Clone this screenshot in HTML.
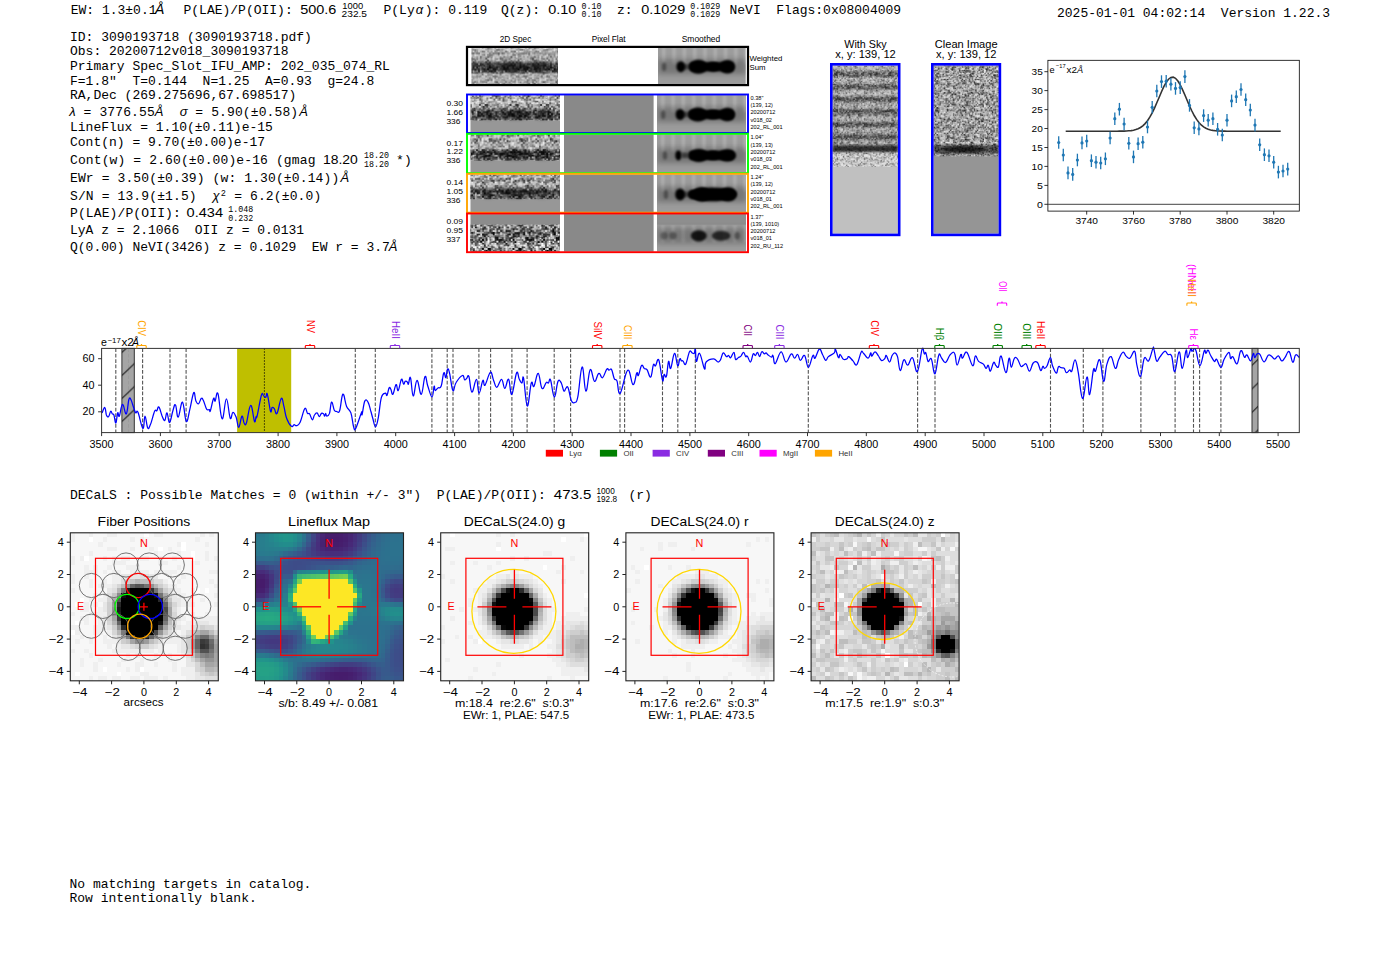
<!DOCTYPE html><html><head><meta charset="utf-8"><title>ELiXer report</title><style>html,body{margin:0;padding:0;background:#fff;overflow:hidden}svg{display:block}</style></head><body><svg style="white-space:pre" width="1400" height="953" viewBox="0 0 1400 953"><defs><pattern id="pn2" patternUnits="userSpaceOnUse" width="23.4" height="23.4"><path d="M0 0h1.8v1.8h-1.8zM1.8 0h1.8v1.8h-1.8zM5.4 0h1.8v1.8h-1.8zM14.4 0h1.8v1.8h-1.8zM12.6 1.8h1.8v1.8h-1.8zM19.8 3.6h1.8v1.8h-1.8zM7.2 7.2h1.8v1.8h-1.8zM0 9h1.8v1.8h-1.8zM1.8 9h1.8v1.8h-1.8zM21.6 9h1.8v1.8h-1.8zM1.8 10.8h1.8v1.8h-1.8zM9 10.8h1.8v1.8h-1.8zM10.8 10.8h1.8v1.8h-1.8zM14.4 10.8h1.8v1.8h-1.8zM7.2 12.6h1.8v1.8h-1.8zM3.6 14.4h1.8v1.8h-1.8zM9 14.4h1.8v1.8h-1.8zM14.4 14.4h1.8v1.8h-1.8zM16.2 16.2h1.8v1.8h-1.8zM1.8 19.8h1.8v1.8h-1.8zM14.4 19.8h1.8v1.8h-1.8zM0 21.6h1.8v1.8h-1.8zM1.8 21.6h1.8v1.8h-1.8z" fill="#000" fill-opacity="0.20"/><path d="M3.6 0h1.8v1.8h-1.8zM19.8 0h1.8v1.8h-1.8zM5.4 7.2h1.8v1.8h-1.8zM18 7.2h1.8v1.8h-1.8zM0 10.8h1.8v1.8h-1.8zM16.2 10.8h1.8v1.8h-1.8zM18 10.8h1.8v1.8h-1.8zM1.8 12.6h1.8v1.8h-1.8zM3.6 12.6h1.8v1.8h-1.8zM12.6 14.4h1.8v1.8h-1.8zM18 18h1.8v1.8h-1.8zM12.6 19.8h1.8v1.8h-1.8z" fill="#fff" fill-opacity="1.00"/><path d="M7.2 0h1.8v1.8h-1.8zM9 7.2h1.8v1.8h-1.8zM3.6 9h1.8v1.8h-1.8zM7.2 9h1.8v1.8h-1.8zM14.4 9h1.8v1.8h-1.8zM7.2 10.8h1.8v1.8h-1.8zM18 12.6h1.8v1.8h-1.8z" fill="#000" fill-opacity="0.80"/><path d="M9 0h1.8v1.8h-1.8zM21.6 0h1.8v1.8h-1.8zM0 1.8h1.8v1.8h-1.8zM14.4 1.8h1.8v1.8h-1.8zM18 1.8h1.8v1.8h-1.8zM0 5.4h1.8v1.8h-1.8zM7.2 5.4h1.8v1.8h-1.8zM10.8 5.4h1.8v1.8h-1.8zM10.8 7.2h1.8v1.8h-1.8zM21.6 7.2h1.8v1.8h-1.8zM9 9h1.8v1.8h-1.8zM10.8 9h1.8v1.8h-1.8zM12.6 9h1.8v1.8h-1.8zM19.8 9h1.8v1.8h-1.8zM5.4 10.8h1.8v1.8h-1.8zM12.6 10.8h1.8v1.8h-1.8zM21.6 12.6h1.8v1.8h-1.8zM0 14.4h1.8v1.8h-1.8zM0 16.2h1.8v1.8h-1.8zM1.8 16.2h1.8v1.8h-1.8zM3.6 16.2h1.8v1.8h-1.8zM12.6 18h1.8v1.8h-1.8zM16.2 18h1.8v1.8h-1.8zM18 19.8h1.8v1.8h-1.8zM21.6 19.8h1.8v1.8h-1.8zM9 21.6h1.8v1.8h-1.8zM18 21.6h1.8v1.8h-1.8z" fill="#fff" fill-opacity="0.20"/><path d="M12.6 0h1.8v1.8h-1.8zM18 0h1.8v1.8h-1.8zM3.6 1.8h1.8v1.8h-1.8zM7.2 1.8h1.8v1.8h-1.8zM3.6 3.6h1.8v1.8h-1.8zM9 3.6h1.8v1.8h-1.8zM12.6 3.6h1.8v1.8h-1.8zM12.6 5.4h1.8v1.8h-1.8zM14.4 7.2h1.8v1.8h-1.8zM5.4 9h1.8v1.8h-1.8zM16.2 9h1.8v1.8h-1.8zM0 12.6h1.8v1.8h-1.8zM5.4 12.6h1.8v1.8h-1.8zM10.8 12.6h1.8v1.8h-1.8zM18 14.4h1.8v1.8h-1.8zM21.6 14.4h1.8v1.8h-1.8zM5.4 16.2h1.8v1.8h-1.8zM7.2 16.2h1.8v1.8h-1.8zM10.8 16.2h1.8v1.8h-1.8zM0 18h1.8v1.8h-1.8zM1.8 18h1.8v1.8h-1.8zM19.8 18h1.8v1.8h-1.8zM16.2 19.8h1.8v1.8h-1.8z" fill="#fff" fill-opacity="0.40"/><path d="M16.2 0h1.8v1.8h-1.8zM1.8 1.8h1.8v1.8h-1.8zM19.8 1.8h1.8v1.8h-1.8zM21.6 3.6h1.8v1.8h-1.8zM5.4 14.4h1.8v1.8h-1.8zM16.2 14.4h1.8v1.8h-1.8zM7.2 21.6h1.8v1.8h-1.8zM12.6 21.6h1.8v1.8h-1.8z" fill="#fff" fill-opacity="0.80"/><path d="M5.4 1.8h1.8v1.8h-1.8zM9 1.8h1.8v1.8h-1.8zM16.2 1.8h1.8v1.8h-1.8zM0 3.6h1.8v1.8h-1.8zM5.4 3.6h1.8v1.8h-1.8zM7.2 3.6h1.8v1.8h-1.8zM18 3.6h1.8v1.8h-1.8zM18 5.4h1.8v1.8h-1.8zM19.8 5.4h1.8v1.8h-1.8zM21.6 5.4h1.8v1.8h-1.8zM3.6 7.2h1.8v1.8h-1.8zM19.8 7.2h1.8v1.8h-1.8zM18 9h1.8v1.8h-1.8zM1.8 14.4h1.8v1.8h-1.8zM19.8 14.4h1.8v1.8h-1.8zM9 16.2h1.8v1.8h-1.8zM12.6 16.2h1.8v1.8h-1.8zM18 16.2h1.8v1.8h-1.8zM19.8 16.2h1.8v1.8h-1.8zM3.6 18h1.8v1.8h-1.8zM9 18h1.8v1.8h-1.8zM3.6 19.8h1.8v1.8h-1.8zM5.4 19.8h1.8v1.8h-1.8zM19.8 19.8h1.8v1.8h-1.8zM14.4 21.6h1.8v1.8h-1.8zM19.8 21.6h1.8v1.8h-1.8z" fill="#000" fill-opacity="0.40"/><path d="M10.8 1.8h1.8v1.8h-1.8zM21.6 1.8h1.8v1.8h-1.8zM14.4 3.6h1.8v1.8h-1.8zM1.8 5.4h1.8v1.8h-1.8zM14.4 5.4h1.8v1.8h-1.8zM19.8 10.8h1.8v1.8h-1.8zM9 12.6h1.8v1.8h-1.8zM5.4 18h1.8v1.8h-1.8z" fill="#fff" fill-opacity="0.60"/><path d="M1.8 3.6h1.8v1.8h-1.8zM10.8 3.6h1.8v1.8h-1.8zM16.2 12.6h1.8v1.8h-1.8zM19.8 12.6h1.8v1.8h-1.8zM7.2 14.4h1.8v1.8h-1.8zM10.8 14.4h1.8v1.8h-1.8zM14.4 16.2h1.8v1.8h-1.8zM21.6 16.2h1.8v1.8h-1.8zM10.8 18h1.8v1.8h-1.8zM0 19.8h1.8v1.8h-1.8zM10.8 19.8h1.8v1.8h-1.8z" fill="#000" fill-opacity="0.60"/><path d="M0 7.2h1.8v1.8h-1.8zM7.2 19.8h1.8v1.8h-1.8zM5.4 21.6h1.8v1.8h-1.8zM16.2 21.6h1.8v1.8h-1.8z" fill="#000" fill-opacity="1.00"/></pattern><pattern id="pn2b" patternUnits="userSpaceOnUse" width="30.6" height="30.6"><path d="M0 0h1.8v1.8h-1.8zM3.6 0h1.8v1.8h-1.8zM12.6 1.8h1.8v1.8h-1.8zM21.6 3.6h1.8v1.8h-1.8zM28.8 5.4h1.8v1.8h-1.8zM0 7.2h1.8v1.8h-1.8zM7.2 7.2h1.8v1.8h-1.8zM18 7.2h1.8v1.8h-1.8zM19.8 7.2h1.8v1.8h-1.8zM10.8 9h1.8v1.8h-1.8zM19.8 9h1.8v1.8h-1.8zM10.8 10.8h1.8v1.8h-1.8zM14.4 10.8h1.8v1.8h-1.8zM12.6 12.6h1.8v1.8h-1.8zM16.2 12.6h1.8v1.8h-1.8zM18 12.6h1.8v1.8h-1.8zM0 14.4h1.8v1.8h-1.8zM18 16.2h1.8v1.8h-1.8zM7.2 18h1.8v1.8h-1.8zM9 18h1.8v1.8h-1.8zM14.4 18h1.8v1.8h-1.8zM23.4 18h1.8v1.8h-1.8zM27 18h1.8v1.8h-1.8zM10.8 19.8h1.8v1.8h-1.8zM3.6 21.6h1.8v1.8h-1.8zM18 21.6h1.8v1.8h-1.8zM28.8 21.6h1.8v1.8h-1.8zM10.8 23.4h1.8v1.8h-1.8zM16.2 23.4h1.8v1.8h-1.8zM25.2 23.4h1.8v1.8h-1.8zM23.4 25.2h1.8v1.8h-1.8zM27 25.2h1.8v1.8h-1.8zM28.8 25.2h1.8v1.8h-1.8zM10.8 27h1.8v1.8h-1.8zM21.6 27h1.8v1.8h-1.8zM23.4 27h1.8v1.8h-1.8z" fill="#fff" fill-opacity="0.40"/><path d="M1.8 0h1.8v1.8h-1.8zM5.4 0h1.8v1.8h-1.8zM14.4 0h1.8v1.8h-1.8zM21.6 0h1.8v1.8h-1.8zM28.8 0h1.8v1.8h-1.8zM0 1.8h1.8v1.8h-1.8zM10.8 1.8h1.8v1.8h-1.8zM14.4 1.8h1.8v1.8h-1.8zM25.2 1.8h1.8v1.8h-1.8zM9 3.6h1.8v1.8h-1.8zM1.8 5.4h1.8v1.8h-1.8zM7.2 5.4h1.8v1.8h-1.8zM16.2 5.4h1.8v1.8h-1.8zM16.2 7.2h1.8v1.8h-1.8zM18 9h1.8v1.8h-1.8zM7.2 10.8h1.8v1.8h-1.8zM7.2 14.4h1.8v1.8h-1.8zM12.6 14.4h1.8v1.8h-1.8zM14.4 14.4h1.8v1.8h-1.8zM9 16.2h1.8v1.8h-1.8zM12.6 16.2h1.8v1.8h-1.8zM16.2 16.2h1.8v1.8h-1.8zM19.8 16.2h1.8v1.8h-1.8zM21.6 16.2h1.8v1.8h-1.8zM0 18h1.8v1.8h-1.8zM21.6 18h1.8v1.8h-1.8zM19.8 19.8h1.8v1.8h-1.8zM1.8 21.6h1.8v1.8h-1.8zM25.2 21.6h1.8v1.8h-1.8zM5.4 25.2h1.8v1.8h-1.8zM7.2 25.2h1.8v1.8h-1.8zM14.4 25.2h1.8v1.8h-1.8zM5.4 27h1.8v1.8h-1.8zM0 28.8h1.8v1.8h-1.8zM5.4 28.8h1.8v1.8h-1.8zM18 28.8h1.8v1.8h-1.8zM23.4 28.8h1.8v1.8h-1.8z" fill="#fff" fill-opacity="0.60"/><path d="M7.2 0h1.8v1.8h-1.8zM9 0h1.8v1.8h-1.8zM10.8 0h1.8v1.8h-1.8zM12.6 0h1.8v1.8h-1.8zM18 0h1.8v1.8h-1.8zM19.8 0h1.8v1.8h-1.8zM23.4 1.8h1.8v1.8h-1.8zM0 3.6h1.8v1.8h-1.8zM10.8 3.6h1.8v1.8h-1.8zM12.6 3.6h1.8v1.8h-1.8zM12.6 5.4h1.8v1.8h-1.8zM14.4 5.4h1.8v1.8h-1.8zM1.8 7.2h1.8v1.8h-1.8zM1.8 9h1.8v1.8h-1.8zM5.4 10.8h1.8v1.8h-1.8zM21.6 10.8h1.8v1.8h-1.8zM25.2 10.8h1.8v1.8h-1.8zM28.8 10.8h1.8v1.8h-1.8zM0 12.6h1.8v1.8h-1.8zM3.6 12.6h1.8v1.8h-1.8zM19.8 12.6h1.8v1.8h-1.8zM21.6 12.6h1.8v1.8h-1.8zM1.8 16.2h1.8v1.8h-1.8zM3.6 16.2h1.8v1.8h-1.8zM10.8 18h1.8v1.8h-1.8zM18 18h1.8v1.8h-1.8zM25.2 18h1.8v1.8h-1.8zM25.2 19.8h1.8v1.8h-1.8zM7.2 21.6h1.8v1.8h-1.8zM14.4 21.6h1.8v1.8h-1.8zM12.6 23.4h1.8v1.8h-1.8zM28.8 23.4h1.8v1.8h-1.8zM10.8 25.2h1.8v1.8h-1.8zM10.8 28.8h1.8v1.8h-1.8zM21.6 28.8h1.8v1.8h-1.8zM25.2 28.8h1.8v1.8h-1.8z" fill="#000" fill-opacity="0.40"/><path d="M16.2 0h1.8v1.8h-1.8zM27 0h1.8v1.8h-1.8zM7.2 1.8h1.8v1.8h-1.8zM9 1.8h1.8v1.8h-1.8zM21.6 1.8h1.8v1.8h-1.8zM1.8 3.6h1.8v1.8h-1.8zM3.6 3.6h1.8v1.8h-1.8zM7.2 3.6h1.8v1.8h-1.8zM27 3.6h1.8v1.8h-1.8zM0 5.4h1.8v1.8h-1.8zM23.4 5.4h1.8v1.8h-1.8zM12.6 7.2h1.8v1.8h-1.8zM23.4 7.2h1.8v1.8h-1.8zM27 7.2h1.8v1.8h-1.8zM28.8 7.2h1.8v1.8h-1.8zM0 9h1.8v1.8h-1.8zM3.6 9h1.8v1.8h-1.8zM16.2 9h1.8v1.8h-1.8zM25.2 9h1.8v1.8h-1.8zM0 10.8h1.8v1.8h-1.8zM1.8 10.8h1.8v1.8h-1.8zM3.6 10.8h1.8v1.8h-1.8zM18 10.8h1.8v1.8h-1.8zM1.8 12.6h1.8v1.8h-1.8zM5.4 12.6h1.8v1.8h-1.8zM9 12.6h1.8v1.8h-1.8zM28.8 12.6h1.8v1.8h-1.8zM5.4 14.4h1.8v1.8h-1.8zM18 14.4h1.8v1.8h-1.8zM25.2 14.4h1.8v1.8h-1.8zM27 16.2h1.8v1.8h-1.8zM28.8 16.2h1.8v1.8h-1.8zM3.6 18h1.8v1.8h-1.8zM3.6 19.8h1.8v1.8h-1.8zM21.6 19.8h1.8v1.8h-1.8zM23.4 19.8h1.8v1.8h-1.8zM28.8 19.8h1.8v1.8h-1.8zM23.4 21.6h1.8v1.8h-1.8zM7.2 23.4h1.8v1.8h-1.8zM9 23.4h1.8v1.8h-1.8zM12.6 25.2h1.8v1.8h-1.8zM16.2 25.2h1.8v1.8h-1.8zM19.8 25.2h1.8v1.8h-1.8zM0 27h1.8v1.8h-1.8zM12.6 27h1.8v1.8h-1.8zM19.8 27h1.8v1.8h-1.8zM27 27h1.8v1.8h-1.8z" fill="#fff" fill-opacity="0.20"/><path d="M23.4 0h1.8v1.8h-1.8zM3.6 1.8h1.8v1.8h-1.8zM5.4 1.8h1.8v1.8h-1.8zM16.2 1.8h1.8v1.8h-1.8zM18 1.8h1.8v1.8h-1.8zM14.4 3.6h1.8v1.8h-1.8zM18 3.6h1.8v1.8h-1.8zM23.4 3.6h1.8v1.8h-1.8zM28.8 3.6h1.8v1.8h-1.8zM3.6 5.4h1.8v1.8h-1.8zM5.4 5.4h1.8v1.8h-1.8zM10.8 5.4h1.8v1.8h-1.8zM10.8 7.2h1.8v1.8h-1.8zM7.2 9h1.8v1.8h-1.8zM28.8 14.4h1.8v1.8h-1.8zM10.8 16.2h1.8v1.8h-1.8zM27 19.8h1.8v1.8h-1.8zM0 21.6h1.8v1.8h-1.8zM19.8 21.6h1.8v1.8h-1.8zM18 23.4h1.8v1.8h-1.8zM21.6 25.2h1.8v1.8h-1.8zM1.8 27h1.8v1.8h-1.8zM7.2 27h1.8v1.8h-1.8zM14.4 27h1.8v1.8h-1.8zM16.2 27h1.8v1.8h-1.8zM18 27h1.8v1.8h-1.8zM16.2 28.8h1.8v1.8h-1.8zM19.8 28.8h1.8v1.8h-1.8z" fill="#000" fill-opacity="0.60"/><path d="M25.2 0h1.8v1.8h-1.8zM1.8 1.8h1.8v1.8h-1.8zM5.4 3.6h1.8v1.8h-1.8zM16.2 3.6h1.8v1.8h-1.8zM25.2 5.4h1.8v1.8h-1.8zM9 7.2h1.8v1.8h-1.8zM25.2 7.2h1.8v1.8h-1.8zM12.6 9h1.8v1.8h-1.8zM27 9h1.8v1.8h-1.8zM28.8 9h1.8v1.8h-1.8zM12.6 10.8h1.8v1.8h-1.8zM10.8 12.6h1.8v1.8h-1.8zM27 12.6h1.8v1.8h-1.8zM1.8 14.4h1.8v1.8h-1.8zM10.8 14.4h1.8v1.8h-1.8zM16.2 14.4h1.8v1.8h-1.8zM5.4 16.2h1.8v1.8h-1.8zM14.4 16.2h1.8v1.8h-1.8zM23.4 16.2h1.8v1.8h-1.8zM25.2 16.2h1.8v1.8h-1.8zM0 19.8h1.8v1.8h-1.8zM18 19.8h1.8v1.8h-1.8zM0 23.4h1.8v1.8h-1.8zM21.6 23.4h1.8v1.8h-1.8zM0 25.2h1.8v1.8h-1.8zM1.8 25.2h1.8v1.8h-1.8zM18 25.2h1.8v1.8h-1.8zM9 27h1.8v1.8h-1.8zM25.2 27h1.8v1.8h-1.8zM28.8 27h1.8v1.8h-1.8zM3.6 28.8h1.8v1.8h-1.8zM9 28.8h1.8v1.8h-1.8zM27 28.8h1.8v1.8h-1.8zM28.8 28.8h1.8v1.8h-1.8z" fill="#000" fill-opacity="0.20"/><path d="M27 1.8h1.8v1.8h-1.8zM9 5.4h1.8v1.8h-1.8zM21.6 9h1.8v1.8h-1.8zM7.2 12.6h1.8v1.8h-1.8zM25.2 12.6h1.8v1.8h-1.8zM23.4 14.4h1.8v1.8h-1.8zM27 21.6h1.8v1.8h-1.8zM14.4 23.4h1.8v1.8h-1.8zM3.6 25.2h1.8v1.8h-1.8z" fill="#000" fill-opacity="0.80"/><path d="M19.8 3.6h1.8v1.8h-1.8zM25.2 3.6h1.8v1.8h-1.8zM19.8 5.4h1.8v1.8h-1.8zM23.4 9h1.8v1.8h-1.8zM9 10.8h1.8v1.8h-1.8zM23.4 10.8h1.8v1.8h-1.8zM27 10.8h1.8v1.8h-1.8zM9 19.8h1.8v1.8h-1.8zM14.4 19.8h1.8v1.8h-1.8zM16.2 19.8h1.8v1.8h-1.8zM12.6 21.6h1.8v1.8h-1.8zM16.2 21.6h1.8v1.8h-1.8zM3.6 23.4h1.8v1.8h-1.8zM23.4 23.4h1.8v1.8h-1.8z" fill="#000" fill-opacity="1.00"/><path d="M21.6 5.4h1.8v1.8h-1.8zM27 5.4h1.8v1.8h-1.8zM5.4 7.2h1.8v1.8h-1.8zM14.4 9h1.8v1.8h-1.8zM19.8 10.8h1.8v1.8h-1.8zM1.8 19.8h1.8v1.8h-1.8zM12.6 19.8h1.8v1.8h-1.8zM9 21.6h1.8v1.8h-1.8zM25.2 25.2h1.8v1.8h-1.8zM3.6 27h1.8v1.8h-1.8zM14.4 28.8h1.8v1.8h-1.8z" fill="#fff" fill-opacity="0.80"/><path d="M14.4 12.6h1.8v1.8h-1.8zM23.4 12.6h1.8v1.8h-1.8zM7.2 16.2h1.8v1.8h-1.8zM1.8 18h1.8v1.8h-1.8zM5.4 18h1.8v1.8h-1.8zM19.8 23.4h1.8v1.8h-1.8z" fill="#fff" fill-opacity="1.00"/></pattern><pattern id="pn15" patternUnits="userSpaceOnUse" width="27" height="27"><path d="M1.5 0h1.5v1.5h-1.5zM9 0h1.5v1.5h-1.5zM18 0h1.5v1.5h-1.5zM0 1.5h1.5v1.5h-1.5zM6 4.5h1.5v1.5h-1.5zM10.5 7.5h1.5v1.5h-1.5zM21 9h1.5v1.5h-1.5zM6 10.5h1.5v1.5h-1.5zM9 12h1.5v1.5h-1.5zM12 12h1.5v1.5h-1.5zM3 13.5h1.5v1.5h-1.5zM7.5 13.5h1.5v1.5h-1.5zM16.5 15h1.5v1.5h-1.5zM24 16.5h1.5v1.5h-1.5zM10.5 19.5h1.5v1.5h-1.5zM21 19.5h1.5v1.5h-1.5zM19.5 21h1.5v1.5h-1.5zM6 22.5h1.5v1.5h-1.5z" fill="#000" fill-opacity="0.80"/><path d="M3 0h1.5v1.5h-1.5zM22.5 0h1.5v1.5h-1.5zM24 0h1.5v1.5h-1.5zM4.5 1.5h1.5v1.5h-1.5zM19.5 1.5h1.5v1.5h-1.5zM25.5 1.5h1.5v1.5h-1.5zM9 3h1.5v1.5h-1.5zM10.5 3h1.5v1.5h-1.5zM12 3h1.5v1.5h-1.5zM18 3h1.5v1.5h-1.5zM0 4.5h1.5v1.5h-1.5zM4.5 4.5h1.5v1.5h-1.5zM0 6h1.5v1.5h-1.5zM4.5 7.5h1.5v1.5h-1.5zM24 7.5h1.5v1.5h-1.5zM0 9h1.5v1.5h-1.5zM1.5 9h1.5v1.5h-1.5zM13.5 9h1.5v1.5h-1.5zM18 9h1.5v1.5h-1.5zM25.5 9h1.5v1.5h-1.5zM0 10.5h1.5v1.5h-1.5zM7.5 10.5h1.5v1.5h-1.5zM13.5 10.5h1.5v1.5h-1.5zM16.5 10.5h1.5v1.5h-1.5zM18 10.5h1.5v1.5h-1.5zM10.5 12h1.5v1.5h-1.5zM21 12h1.5v1.5h-1.5zM10.5 15h1.5v1.5h-1.5zM12 15h1.5v1.5h-1.5zM13.5 16.5h1.5v1.5h-1.5zM15 16.5h1.5v1.5h-1.5zM18 16.5h1.5v1.5h-1.5zM21 16.5h1.5v1.5h-1.5zM22.5 16.5h1.5v1.5h-1.5zM4.5 18h1.5v1.5h-1.5zM12 18h1.5v1.5h-1.5zM12 19.5h1.5v1.5h-1.5zM25.5 19.5h1.5v1.5h-1.5zM0 21h1.5v1.5h-1.5zM7.5 21h1.5v1.5h-1.5zM0 22.5h1.5v1.5h-1.5zM19.5 22.5h1.5v1.5h-1.5zM25.5 22.5h1.5v1.5h-1.5zM1.5 24h1.5v1.5h-1.5zM12 24h1.5v1.5h-1.5zM16.5 24h1.5v1.5h-1.5zM1.5 25.5h1.5v1.5h-1.5zM6 25.5h1.5v1.5h-1.5zM13.5 25.5h1.5v1.5h-1.5zM25.5 25.5h1.5v1.5h-1.5z" fill="#000" fill-opacity="0.20"/><path d="M4.5 0h1.5v1.5h-1.5zM13.5 0h1.5v1.5h-1.5zM15 0h1.5v1.5h-1.5zM25.5 0h1.5v1.5h-1.5zM1.5 1.5h1.5v1.5h-1.5zM10.5 1.5h1.5v1.5h-1.5zM13.5 1.5h1.5v1.5h-1.5zM24 1.5h1.5v1.5h-1.5zM0 3h1.5v1.5h-1.5zM1.5 3h1.5v1.5h-1.5zM19.5 3h1.5v1.5h-1.5zM21 3h1.5v1.5h-1.5zM1.5 4.5h1.5v1.5h-1.5zM3 6h1.5v1.5h-1.5zM6 6h1.5v1.5h-1.5zM9 6h1.5v1.5h-1.5zM10.5 6h1.5v1.5h-1.5zM1.5 7.5h1.5v1.5h-1.5zM12 7.5h1.5v1.5h-1.5zM16.5 7.5h1.5v1.5h-1.5zM4.5 9h1.5v1.5h-1.5zM1.5 10.5h1.5v1.5h-1.5zM3 10.5h1.5v1.5h-1.5zM10.5 10.5h1.5v1.5h-1.5zM0 12h1.5v1.5h-1.5zM4.5 12h1.5v1.5h-1.5zM7.5 12h1.5v1.5h-1.5zM18 12h1.5v1.5h-1.5zM24 12h1.5v1.5h-1.5zM4.5 13.5h1.5v1.5h-1.5zM12 13.5h1.5v1.5h-1.5zM24 13.5h1.5v1.5h-1.5zM25.5 13.5h1.5v1.5h-1.5zM1.5 15h1.5v1.5h-1.5zM6 15h1.5v1.5h-1.5zM7.5 15h1.5v1.5h-1.5zM19.5 16.5h1.5v1.5h-1.5zM25.5 16.5h1.5v1.5h-1.5zM15 18h1.5v1.5h-1.5zM22.5 18h1.5v1.5h-1.5zM3 19.5h1.5v1.5h-1.5zM9 19.5h1.5v1.5h-1.5zM19.5 19.5h1.5v1.5h-1.5zM6 21h1.5v1.5h-1.5zM12 21h1.5v1.5h-1.5zM3 22.5h1.5v1.5h-1.5zM9 22.5h1.5v1.5h-1.5zM12 22.5h1.5v1.5h-1.5zM22.5 22.5h1.5v1.5h-1.5zM24 22.5h1.5v1.5h-1.5zM6 24h1.5v1.5h-1.5zM9 24h1.5v1.5h-1.5zM15 24h1.5v1.5h-1.5zM0 25.5h1.5v1.5h-1.5zM10.5 25.5h1.5v1.5h-1.5z" fill="#fff" fill-opacity="0.20"/><path d="M6 0h1.5v1.5h-1.5zM19.5 0h1.5v1.5h-1.5zM16.5 1.5h1.5v1.5h-1.5zM24 3h1.5v1.5h-1.5zM24 4.5h1.5v1.5h-1.5zM19.5 7.5h1.5v1.5h-1.5zM3 9h1.5v1.5h-1.5zM19.5 9h1.5v1.5h-1.5zM24 9h1.5v1.5h-1.5zM16.5 12h1.5v1.5h-1.5zM22.5 12h1.5v1.5h-1.5zM22.5 13.5h1.5v1.5h-1.5zM3 15h1.5v1.5h-1.5zM18 15h1.5v1.5h-1.5zM21 15h1.5v1.5h-1.5zM1.5 16.5h1.5v1.5h-1.5zM4.5 16.5h1.5v1.5h-1.5zM16.5 16.5h1.5v1.5h-1.5zM3 21h1.5v1.5h-1.5zM10.5 21h1.5v1.5h-1.5zM22.5 21h1.5v1.5h-1.5zM24 21h1.5v1.5h-1.5zM25.5 21h1.5v1.5h-1.5zM15 22.5h1.5v1.5h-1.5zM21 22.5h1.5v1.5h-1.5zM4.5 24h1.5v1.5h-1.5z" fill="#000" fill-opacity="0.60"/><path d="M7.5 0h1.5v1.5h-1.5zM21 0h1.5v1.5h-1.5zM9 1.5h1.5v1.5h-1.5zM15 4.5h1.5v1.5h-1.5zM25.5 4.5h1.5v1.5h-1.5zM15 9h1.5v1.5h-1.5zM22.5 10.5h1.5v1.5h-1.5zM25.5 10.5h1.5v1.5h-1.5zM13.5 18h1.5v1.5h-1.5zM18 22.5h1.5v1.5h-1.5zM7.5 24h1.5v1.5h-1.5zM18 25.5h1.5v1.5h-1.5z" fill="#000" fill-opacity="1.00"/><path d="M10.5 0h1.5v1.5h-1.5zM7.5 1.5h1.5v1.5h-1.5zM22.5 1.5h1.5v1.5h-1.5zM6 3h1.5v1.5h-1.5zM15 3h1.5v1.5h-1.5zM22.5 3h1.5v1.5h-1.5zM21 4.5h1.5v1.5h-1.5zM12 6h1.5v1.5h-1.5zM22.5 6h1.5v1.5h-1.5zM6 7.5h1.5v1.5h-1.5zM25.5 12h1.5v1.5h-1.5zM0 13.5h1.5v1.5h-1.5zM10.5 13.5h1.5v1.5h-1.5zM18 13.5h1.5v1.5h-1.5zM19.5 15h1.5v1.5h-1.5zM0 16.5h1.5v1.5h-1.5zM1.5 18h1.5v1.5h-1.5zM6 19.5h1.5v1.5h-1.5zM1.5 21h1.5v1.5h-1.5zM16.5 21h1.5v1.5h-1.5zM21 21h1.5v1.5h-1.5zM4.5 22.5h1.5v1.5h-1.5zM25.5 24h1.5v1.5h-1.5zM4.5 25.5h1.5v1.5h-1.5zM22.5 25.5h1.5v1.5h-1.5z" fill="#fff" fill-opacity="0.40"/><path d="M12 0h1.5v1.5h-1.5zM16.5 0h1.5v1.5h-1.5zM19.5 4.5h1.5v1.5h-1.5zM1.5 6h1.5v1.5h-1.5zM7.5 6h1.5v1.5h-1.5zM21 6h1.5v1.5h-1.5zM0 7.5h1.5v1.5h-1.5zM3 7.5h1.5v1.5h-1.5zM13.5 7.5h1.5v1.5h-1.5zM15 7.5h1.5v1.5h-1.5zM7.5 9h1.5v1.5h-1.5zM9 9h1.5v1.5h-1.5zM12 9h1.5v1.5h-1.5zM4.5 10.5h1.5v1.5h-1.5zM15 10.5h1.5v1.5h-1.5zM19.5 10.5h1.5v1.5h-1.5zM21 10.5h1.5v1.5h-1.5zM6 12h1.5v1.5h-1.5zM15 13.5h1.5v1.5h-1.5zM0 15h1.5v1.5h-1.5zM4.5 15h1.5v1.5h-1.5zM3 16.5h1.5v1.5h-1.5zM6 16.5h1.5v1.5h-1.5zM10.5 16.5h1.5v1.5h-1.5zM12 16.5h1.5v1.5h-1.5zM3 18h1.5v1.5h-1.5zM18 18h1.5v1.5h-1.5zM25.5 18h1.5v1.5h-1.5zM15 21h1.5v1.5h-1.5zM18 21h1.5v1.5h-1.5zM1.5 22.5h1.5v1.5h-1.5zM10.5 22.5h1.5v1.5h-1.5zM3 24h1.5v1.5h-1.5zM22.5 24h1.5v1.5h-1.5z" fill="#fff" fill-opacity="0.60"/><path d="M15 1.5h1.5v1.5h-1.5zM16.5 4.5h1.5v1.5h-1.5zM18 4.5h1.5v1.5h-1.5zM22.5 4.5h1.5v1.5h-1.5zM22.5 9h1.5v1.5h-1.5zM22.5 19.5h1.5v1.5h-1.5zM19.5 24h1.5v1.5h-1.5zM21 24h1.5v1.5h-1.5z" fill="#fff" fill-opacity="0.80"/><path d="M4.5 3h1.5v1.5h-1.5zM3 4.5h1.5v1.5h-1.5zM13.5 4.5h1.5v1.5h-1.5zM15 6h1.5v1.5h-1.5zM16.5 6h1.5v1.5h-1.5zM9 7.5h1.5v1.5h-1.5zM22.5 7.5h1.5v1.5h-1.5zM25.5 7.5h1.5v1.5h-1.5zM9 10.5h1.5v1.5h-1.5zM12 10.5h1.5v1.5h-1.5zM24 10.5h1.5v1.5h-1.5zM1.5 12h1.5v1.5h-1.5zM3 12h1.5v1.5h-1.5zM6 13.5h1.5v1.5h-1.5zM9 15h1.5v1.5h-1.5zM13.5 15h1.5v1.5h-1.5zM25.5 15h1.5v1.5h-1.5zM7.5 16.5h1.5v1.5h-1.5zM9 16.5h1.5v1.5h-1.5zM0 18h1.5v1.5h-1.5zM6 18h1.5v1.5h-1.5zM10.5 18h1.5v1.5h-1.5zM16.5 18h1.5v1.5h-1.5zM19.5 18h1.5v1.5h-1.5zM7.5 19.5h1.5v1.5h-1.5zM13.5 19.5h1.5v1.5h-1.5zM15 19.5h1.5v1.5h-1.5zM9 21h1.5v1.5h-1.5zM24 24h1.5v1.5h-1.5zM7.5 25.5h1.5v1.5h-1.5zM9 25.5h1.5v1.5h-1.5zM12 25.5h1.5v1.5h-1.5zM19.5 25.5h1.5v1.5h-1.5z" fill="#000" fill-opacity="0.40"/><path d="M13.5 3h1.5v1.5h-1.5zM7.5 4.5h1.5v1.5h-1.5zM12 4.5h1.5v1.5h-1.5zM13.5 12h1.5v1.5h-1.5zM19.5 12h1.5v1.5h-1.5zM1.5 13.5h1.5v1.5h-1.5zM22.5 15h1.5v1.5h-1.5zM7.5 22.5h1.5v1.5h-1.5z" fill="#fff" fill-opacity="1.00"/></pattern><pattern id="pn15b" patternUnits="userSpaceOnUse" width="34.5" height="34.5"><path d="M0 0h1.5v1.5h-1.5zM27 1.5h1.5v1.5h-1.5zM28.5 1.5h1.5v1.5h-1.5zM31.5 1.5h1.5v1.5h-1.5zM25.5 4.5h1.5v1.5h-1.5zM6 6h1.5v1.5h-1.5zM27 6h1.5v1.5h-1.5zM31.5 6h1.5v1.5h-1.5zM15 9h1.5v1.5h-1.5zM6 10.5h1.5v1.5h-1.5zM15 12h1.5v1.5h-1.5zM7.5 18h1.5v1.5h-1.5zM13.5 18h1.5v1.5h-1.5zM4.5 19.5h1.5v1.5h-1.5zM24 19.5h1.5v1.5h-1.5zM0 27h1.5v1.5h-1.5zM19.5 31.5h1.5v1.5h-1.5zM31.5 31.5h1.5v1.5h-1.5zM22.5 33h1.5v1.5h-1.5zM25.5 33h1.5v1.5h-1.5z" fill="#fff" fill-opacity="0.80"/><path d="M1.5 0h1.5v1.5h-1.5zM33 0h1.5v1.5h-1.5zM13.5 1.5h1.5v1.5h-1.5zM1.5 6h1.5v1.5h-1.5zM3 6h1.5v1.5h-1.5zM7.5 6h1.5v1.5h-1.5zM19.5 6h1.5v1.5h-1.5zM28.5 6h1.5v1.5h-1.5zM1.5 7.5h1.5v1.5h-1.5zM4.5 7.5h1.5v1.5h-1.5zM15 7.5h1.5v1.5h-1.5zM22.5 7.5h1.5v1.5h-1.5zM10.5 9h1.5v1.5h-1.5zM30 9h1.5v1.5h-1.5zM22.5 10.5h1.5v1.5h-1.5zM21 12h1.5v1.5h-1.5zM31.5 12h1.5v1.5h-1.5zM3 15h1.5v1.5h-1.5zM27 15h1.5v1.5h-1.5zM10.5 16.5h1.5v1.5h-1.5zM13.5 16.5h1.5v1.5h-1.5zM16.5 16.5h1.5v1.5h-1.5zM10.5 18h1.5v1.5h-1.5zM13.5 19.5h1.5v1.5h-1.5zM28.5 19.5h1.5v1.5h-1.5zM31.5 19.5h1.5v1.5h-1.5zM33 19.5h1.5v1.5h-1.5zM28.5 21h1.5v1.5h-1.5zM0 22.5h1.5v1.5h-1.5zM1.5 22.5h1.5v1.5h-1.5zM10.5 22.5h1.5v1.5h-1.5zM16.5 22.5h1.5v1.5h-1.5zM33 22.5h1.5v1.5h-1.5zM6 24h1.5v1.5h-1.5zM9 24h1.5v1.5h-1.5zM27 24h1.5v1.5h-1.5zM28.5 24h1.5v1.5h-1.5zM13.5 25.5h1.5v1.5h-1.5zM21 25.5h1.5v1.5h-1.5zM10.5 27h1.5v1.5h-1.5zM21 27h1.5v1.5h-1.5zM22.5 28.5h1.5v1.5h-1.5zM6 30h1.5v1.5h-1.5zM28.5 30h1.5v1.5h-1.5zM1.5 31.5h1.5v1.5h-1.5zM10.5 31.5h1.5v1.5h-1.5zM13.5 31.5h1.5v1.5h-1.5zM25.5 31.5h1.5v1.5h-1.5zM30 31.5h1.5v1.5h-1.5zM28.5 33h1.5v1.5h-1.5z" fill="#fff" fill-opacity="0.60"/><path d="M3 0h1.5v1.5h-1.5zM4.5 0h1.5v1.5h-1.5zM12 0h1.5v1.5h-1.5zM15 0h1.5v1.5h-1.5zM19.5 0h1.5v1.5h-1.5zM24 0h1.5v1.5h-1.5zM27 0h1.5v1.5h-1.5zM27 3h1.5v1.5h-1.5zM31.5 3h1.5v1.5h-1.5zM21 4.5h1.5v1.5h-1.5zM24 4.5h1.5v1.5h-1.5zM31.5 4.5h1.5v1.5h-1.5zM15 6h1.5v1.5h-1.5zM7.5 7.5h1.5v1.5h-1.5zM9 7.5h1.5v1.5h-1.5zM16.5 7.5h1.5v1.5h-1.5zM19.5 7.5h1.5v1.5h-1.5zM21 7.5h1.5v1.5h-1.5zM0 9h1.5v1.5h-1.5zM9 9h1.5v1.5h-1.5zM25.5 9h1.5v1.5h-1.5zM28.5 9h1.5v1.5h-1.5zM3 10.5h1.5v1.5h-1.5zM18 10.5h1.5v1.5h-1.5zM0 12h1.5v1.5h-1.5zM4.5 12h1.5v1.5h-1.5zM7.5 12h1.5v1.5h-1.5zM18 12h1.5v1.5h-1.5zM24 12h1.5v1.5h-1.5zM25.5 12h1.5v1.5h-1.5zM27 12h1.5v1.5h-1.5zM6 13.5h1.5v1.5h-1.5zM15 13.5h1.5v1.5h-1.5zM30 13.5h1.5v1.5h-1.5zM31.5 13.5h1.5v1.5h-1.5zM1.5 15h1.5v1.5h-1.5zM18 15h1.5v1.5h-1.5zM18 18h1.5v1.5h-1.5zM31.5 18h1.5v1.5h-1.5zM21 19.5h1.5v1.5h-1.5zM1.5 21h1.5v1.5h-1.5zM10.5 21h1.5v1.5h-1.5zM18 21h1.5v1.5h-1.5zM21 21h1.5v1.5h-1.5zM22.5 21h1.5v1.5h-1.5zM12 22.5h1.5v1.5h-1.5zM19.5 22.5h1.5v1.5h-1.5zM30 22.5h1.5v1.5h-1.5zM31.5 22.5h1.5v1.5h-1.5zM0 24h1.5v1.5h-1.5zM22.5 24h1.5v1.5h-1.5zM30 24h1.5v1.5h-1.5zM31.5 24h1.5v1.5h-1.5zM25.5 25.5h1.5v1.5h-1.5zM16.5 27h1.5v1.5h-1.5zM30 27h1.5v1.5h-1.5zM3 28.5h1.5v1.5h-1.5zM6 28.5h1.5v1.5h-1.5zM13.5 28.5h1.5v1.5h-1.5zM21 28.5h1.5v1.5h-1.5zM28.5 28.5h1.5v1.5h-1.5zM30 28.5h1.5v1.5h-1.5zM22.5 30h1.5v1.5h-1.5zM30 30h1.5v1.5h-1.5zM31.5 30h1.5v1.5h-1.5zM3 31.5h1.5v1.5h-1.5zM4.5 33h1.5v1.5h-1.5zM15 33h1.5v1.5h-1.5zM16.5 33h1.5v1.5h-1.5zM24 33h1.5v1.5h-1.5z" fill="#000" fill-opacity="0.20"/><path d="M6 0h1.5v1.5h-1.5zM16.5 0h1.5v1.5h-1.5zM18 0h1.5v1.5h-1.5zM28.5 0h1.5v1.5h-1.5zM0 1.5h1.5v1.5h-1.5zM6 1.5h1.5v1.5h-1.5zM12 1.5h1.5v1.5h-1.5zM15 1.5h1.5v1.5h-1.5zM16.5 1.5h1.5v1.5h-1.5zM21 1.5h1.5v1.5h-1.5zM25.5 1.5h1.5v1.5h-1.5zM30 1.5h1.5v1.5h-1.5zM1.5 3h1.5v1.5h-1.5zM33 3h1.5v1.5h-1.5zM6 4.5h1.5v1.5h-1.5zM16.5 4.5h1.5v1.5h-1.5zM0 6h1.5v1.5h-1.5zM33 6h1.5v1.5h-1.5zM10.5 7.5h1.5v1.5h-1.5zM24 7.5h1.5v1.5h-1.5zM30 7.5h1.5v1.5h-1.5zM31.5 7.5h1.5v1.5h-1.5zM13.5 9h1.5v1.5h-1.5zM19.5 9h1.5v1.5h-1.5zM27 9h1.5v1.5h-1.5zM30 10.5h1.5v1.5h-1.5zM3 12h1.5v1.5h-1.5zM6 12h1.5v1.5h-1.5zM9 12h1.5v1.5h-1.5zM16.5 12h1.5v1.5h-1.5zM4.5 13.5h1.5v1.5h-1.5zM9 13.5h1.5v1.5h-1.5zM18 13.5h1.5v1.5h-1.5zM24 13.5h1.5v1.5h-1.5zM28.5 13.5h1.5v1.5h-1.5zM12 15h1.5v1.5h-1.5zM15 15h1.5v1.5h-1.5zM16.5 15h1.5v1.5h-1.5zM19.5 15h1.5v1.5h-1.5zM24 15h1.5v1.5h-1.5zM30 15h1.5v1.5h-1.5zM31.5 15h1.5v1.5h-1.5zM7.5 16.5h1.5v1.5h-1.5zM15 16.5h1.5v1.5h-1.5zM30 16.5h1.5v1.5h-1.5zM0 18h1.5v1.5h-1.5zM16.5 18h1.5v1.5h-1.5zM19.5 18h1.5v1.5h-1.5zM21 18h1.5v1.5h-1.5zM27 18h1.5v1.5h-1.5zM30 18h1.5v1.5h-1.5zM33 18h1.5v1.5h-1.5zM3 19.5h1.5v1.5h-1.5zM19.5 19.5h1.5v1.5h-1.5zM7.5 21h1.5v1.5h-1.5zM19.5 21h1.5v1.5h-1.5zM24 21h1.5v1.5h-1.5zM6 22.5h1.5v1.5h-1.5zM13.5 22.5h1.5v1.5h-1.5zM18 22.5h1.5v1.5h-1.5zM21 22.5h1.5v1.5h-1.5zM1.5 24h1.5v1.5h-1.5zM13.5 24h1.5v1.5h-1.5zM16.5 24h1.5v1.5h-1.5zM21 24h1.5v1.5h-1.5zM24 24h1.5v1.5h-1.5zM9 25.5h1.5v1.5h-1.5zM15 25.5h1.5v1.5h-1.5zM19.5 25.5h1.5v1.5h-1.5zM31.5 25.5h1.5v1.5h-1.5zM6 27h1.5v1.5h-1.5zM18 27h1.5v1.5h-1.5zM28.5 27h1.5v1.5h-1.5zM1.5 28.5h1.5v1.5h-1.5zM7.5 28.5h1.5v1.5h-1.5zM25.5 28.5h1.5v1.5h-1.5zM31.5 28.5h1.5v1.5h-1.5zM3 30h1.5v1.5h-1.5zM21 30h1.5v1.5h-1.5zM24 30h1.5v1.5h-1.5zM25.5 30h1.5v1.5h-1.5zM27 30h1.5v1.5h-1.5zM4.5 31.5h1.5v1.5h-1.5zM7.5 31.5h1.5v1.5h-1.5zM6 33h1.5v1.5h-1.5z" fill="#fff" fill-opacity="0.20"/><path d="M7.5 0h1.5v1.5h-1.5zM10.5 0h1.5v1.5h-1.5zM22.5 0h1.5v1.5h-1.5zM22.5 1.5h1.5v1.5h-1.5zM7.5 3h1.5v1.5h-1.5zM12 3h1.5v1.5h-1.5zM4.5 6h1.5v1.5h-1.5zM13.5 6h1.5v1.5h-1.5zM1.5 9h1.5v1.5h-1.5zM3 9h1.5v1.5h-1.5zM4.5 9h1.5v1.5h-1.5zM18 9h1.5v1.5h-1.5zM7.5 10.5h1.5v1.5h-1.5zM15 10.5h1.5v1.5h-1.5zM28.5 10.5h1.5v1.5h-1.5zM31.5 10.5h1.5v1.5h-1.5zM21 15h1.5v1.5h-1.5zM33 15h1.5v1.5h-1.5zM33 16.5h1.5v1.5h-1.5zM6 18h1.5v1.5h-1.5zM7.5 19.5h1.5v1.5h-1.5zM15 19.5h1.5v1.5h-1.5zM18 19.5h1.5v1.5h-1.5zM25.5 21h1.5v1.5h-1.5zM7.5 24h1.5v1.5h-1.5zM12 24h1.5v1.5h-1.5zM33 24h1.5v1.5h-1.5zM33 25.5h1.5v1.5h-1.5zM12 28.5h1.5v1.5h-1.5zM19.5 28.5h1.5v1.5h-1.5zM33 28.5h1.5v1.5h-1.5zM33 30h1.5v1.5h-1.5zM21 31.5h1.5v1.5h-1.5zM19.5 33h1.5v1.5h-1.5z" fill="#000" fill-opacity="0.60"/><path d="M9 0h1.5v1.5h-1.5zM25.5 0h1.5v1.5h-1.5zM3 1.5h1.5v1.5h-1.5zM9 1.5h1.5v1.5h-1.5zM33 1.5h1.5v1.5h-1.5zM0 3h1.5v1.5h-1.5zM4.5 3h1.5v1.5h-1.5zM9 3h1.5v1.5h-1.5zM13.5 3h1.5v1.5h-1.5zM18 3h1.5v1.5h-1.5zM1.5 4.5h1.5v1.5h-1.5zM10.5 4.5h1.5v1.5h-1.5zM13.5 4.5h1.5v1.5h-1.5zM18 4.5h1.5v1.5h-1.5zM22.5 6h1.5v1.5h-1.5zM25.5 6h1.5v1.5h-1.5zM0 7.5h1.5v1.5h-1.5zM3 7.5h1.5v1.5h-1.5zM7.5 9h1.5v1.5h-1.5zM12 9h1.5v1.5h-1.5zM21 9h1.5v1.5h-1.5zM22.5 9h1.5v1.5h-1.5zM0 10.5h1.5v1.5h-1.5zM1.5 10.5h1.5v1.5h-1.5zM12 10.5h1.5v1.5h-1.5zM16.5 10.5h1.5v1.5h-1.5zM21 10.5h1.5v1.5h-1.5zM1.5 12h1.5v1.5h-1.5zM10.5 12h1.5v1.5h-1.5zM12 12h1.5v1.5h-1.5zM1.5 13.5h1.5v1.5h-1.5zM7.5 13.5h1.5v1.5h-1.5zM10.5 13.5h1.5v1.5h-1.5zM27 13.5h1.5v1.5h-1.5zM28.5 15h1.5v1.5h-1.5zM12 16.5h1.5v1.5h-1.5zM1.5 19.5h1.5v1.5h-1.5zM10.5 19.5h1.5v1.5h-1.5zM30 19.5h1.5v1.5h-1.5zM15 21h1.5v1.5h-1.5zM27 21h1.5v1.5h-1.5zM30 21h1.5v1.5h-1.5zM31.5 21h1.5v1.5h-1.5zM24 22.5h1.5v1.5h-1.5zM25.5 22.5h1.5v1.5h-1.5zM27 22.5h1.5v1.5h-1.5zM10.5 24h1.5v1.5h-1.5zM19.5 24h1.5v1.5h-1.5zM1.5 25.5h1.5v1.5h-1.5zM6 25.5h1.5v1.5h-1.5zM12 25.5h1.5v1.5h-1.5zM27 25.5h1.5v1.5h-1.5zM25.5 27h1.5v1.5h-1.5zM27 27h1.5v1.5h-1.5zM27 28.5h1.5v1.5h-1.5zM9 30h1.5v1.5h-1.5zM9 31.5h1.5v1.5h-1.5zM0 33h1.5v1.5h-1.5z" fill="#fff" fill-opacity="0.40"/><path d="M13.5 0h1.5v1.5h-1.5zM25.5 3h1.5v1.5h-1.5zM28.5 3h1.5v1.5h-1.5zM12 4.5h1.5v1.5h-1.5zM19.5 4.5h1.5v1.5h-1.5zM21 6h1.5v1.5h-1.5zM31.5 9h1.5v1.5h-1.5zM10.5 10.5h1.5v1.5h-1.5zM13.5 13.5h1.5v1.5h-1.5zM19.5 13.5h1.5v1.5h-1.5zM9 16.5h1.5v1.5h-1.5zM19.5 16.5h1.5v1.5h-1.5zM1.5 18h1.5v1.5h-1.5zM6 21h1.5v1.5h-1.5zM16.5 21h1.5v1.5h-1.5zM7.5 22.5h1.5v1.5h-1.5zM15 24h1.5v1.5h-1.5zM18 24h1.5v1.5h-1.5zM3 25.5h1.5v1.5h-1.5zM3 27h1.5v1.5h-1.5zM31.5 27h1.5v1.5h-1.5zM15 28.5h1.5v1.5h-1.5zM10.5 30h1.5v1.5h-1.5zM1.5 33h1.5v1.5h-1.5zM21 33h1.5v1.5h-1.5z" fill="#000" fill-opacity="0.80"/><path d="M21 0h1.5v1.5h-1.5zM10.5 1.5h1.5v1.5h-1.5zM19.5 3h1.5v1.5h-1.5zM25.5 7.5h1.5v1.5h-1.5zM28.5 7.5h1.5v1.5h-1.5zM33 7.5h1.5v1.5h-1.5zM25.5 13.5h1.5v1.5h-1.5zM33 13.5h1.5v1.5h-1.5zM18 16.5h1.5v1.5h-1.5zM22.5 16.5h1.5v1.5h-1.5zM28.5 16.5h1.5v1.5h-1.5zM15 18h1.5v1.5h-1.5zM3 22.5h1.5v1.5h-1.5zM16.5 25.5h1.5v1.5h-1.5zM1.5 27h1.5v1.5h-1.5zM16.5 28.5h1.5v1.5h-1.5zM18 28.5h1.5v1.5h-1.5zM13.5 30h1.5v1.5h-1.5zM22.5 31.5h1.5v1.5h-1.5zM9 33h1.5v1.5h-1.5zM10.5 33h1.5v1.5h-1.5zM31.5 33h1.5v1.5h-1.5z" fill="#000" fill-opacity="1.00"/><path d="M31.5 0h1.5v1.5h-1.5zM7.5 1.5h1.5v1.5h-1.5zM18 1.5h1.5v1.5h-1.5zM19.5 1.5h1.5v1.5h-1.5zM15 3h1.5v1.5h-1.5zM16.5 3h1.5v1.5h-1.5zM22.5 3h1.5v1.5h-1.5zM30 3h1.5v1.5h-1.5zM0 4.5h1.5v1.5h-1.5zM3 4.5h1.5v1.5h-1.5zM15 4.5h1.5v1.5h-1.5zM22.5 4.5h1.5v1.5h-1.5zM9 6h1.5v1.5h-1.5zM10.5 6h1.5v1.5h-1.5zM24 6h1.5v1.5h-1.5zM6 7.5h1.5v1.5h-1.5zM18 7.5h1.5v1.5h-1.5zM27 7.5h1.5v1.5h-1.5zM33 9h1.5v1.5h-1.5zM25.5 10.5h1.5v1.5h-1.5zM33 10.5h1.5v1.5h-1.5zM22.5 12h1.5v1.5h-1.5zM16.5 13.5h1.5v1.5h-1.5zM21 13.5h1.5v1.5h-1.5zM7.5 15h1.5v1.5h-1.5zM9 15h1.5v1.5h-1.5zM13.5 15h1.5v1.5h-1.5zM0 16.5h1.5v1.5h-1.5zM3 16.5h1.5v1.5h-1.5zM21 16.5h1.5v1.5h-1.5zM31.5 16.5h1.5v1.5h-1.5zM4.5 18h1.5v1.5h-1.5zM0 19.5h1.5v1.5h-1.5zM6 19.5h1.5v1.5h-1.5zM9 19.5h1.5v1.5h-1.5zM12 19.5h1.5v1.5h-1.5zM16.5 19.5h1.5v1.5h-1.5zM25.5 19.5h1.5v1.5h-1.5zM27 19.5h1.5v1.5h-1.5zM3 21h1.5v1.5h-1.5zM9 21h1.5v1.5h-1.5zM12 21h1.5v1.5h-1.5zM13.5 21h1.5v1.5h-1.5zM4.5 22.5h1.5v1.5h-1.5zM15 22.5h1.5v1.5h-1.5zM28.5 22.5h1.5v1.5h-1.5zM10.5 25.5h1.5v1.5h-1.5zM18 25.5h1.5v1.5h-1.5zM30 25.5h1.5v1.5h-1.5zM4.5 27h1.5v1.5h-1.5zM9 27h1.5v1.5h-1.5zM22.5 27h1.5v1.5h-1.5zM4.5 28.5h1.5v1.5h-1.5zM9 28.5h1.5v1.5h-1.5zM24 28.5h1.5v1.5h-1.5zM7.5 30h1.5v1.5h-1.5zM16.5 30h1.5v1.5h-1.5zM19.5 30h1.5v1.5h-1.5zM6 31.5h1.5v1.5h-1.5zM15 31.5h1.5v1.5h-1.5z" fill="#000" fill-opacity="0.40"/><path d="M4.5 1.5h1.5v1.5h-1.5zM24 1.5h1.5v1.5h-1.5zM21 3h1.5v1.5h-1.5zM24 3h1.5v1.5h-1.5zM4.5 4.5h1.5v1.5h-1.5zM27 4.5h1.5v1.5h-1.5zM28.5 4.5h1.5v1.5h-1.5zM18 6h1.5v1.5h-1.5zM16.5 9h1.5v1.5h-1.5zM24 9h1.5v1.5h-1.5zM33 12h1.5v1.5h-1.5zM3 13.5h1.5v1.5h-1.5zM6 15h1.5v1.5h-1.5zM10.5 15h1.5v1.5h-1.5zM25.5 18h1.5v1.5h-1.5zM4.5 21h1.5v1.5h-1.5zM7.5 25.5h1.5v1.5h-1.5zM28.5 25.5h1.5v1.5h-1.5zM12 27h1.5v1.5h-1.5zM13.5 27h1.5v1.5h-1.5zM0 28.5h1.5v1.5h-1.5zM0 30h1.5v1.5h-1.5zM12 31.5h1.5v1.5h-1.5zM16.5 31.5h1.5v1.5h-1.5zM33 31.5h1.5v1.5h-1.5zM7.5 33h1.5v1.5h-1.5zM18 33h1.5v1.5h-1.5z" fill="#fff" fill-opacity="1.00"/></pattern><pattern id="pn45" patternUnits="userSpaceOnUse" width="46" height="46"><path d="M0 0h4.6v4.6h-4.6zM13.8 0h4.6v4.6h-4.6zM13.8 13.8h4.6v4.6h-4.6zM27.6 13.8h4.6v4.6h-4.6zM9.2 23h4.6v4.6h-4.6zM32.2 23h4.6v4.6h-4.6zM36.8 23h4.6v4.6h-4.6zM0 32.2h4.6v4.6h-4.6zM0 36.8h4.6v4.6h-4.6z" fill="#fff" fill-opacity="1.00"/><path d="M4.6 0h4.6v4.6h-4.6zM0 4.6h4.6v4.6h-4.6zM23 9.2h4.6v4.6h-4.6zM0 18.4h4.6v4.6h-4.6zM18.4 23h4.6v4.6h-4.6zM41.4 23h4.6v4.6h-4.6zM23 27.6h4.6v4.6h-4.6zM27.6 27.6h4.6v4.6h-4.6zM32.2 27.6h4.6v4.6h-4.6zM4.6 32.2h4.6v4.6h-4.6zM9.2 36.8h4.6v4.6h-4.6zM13.8 36.8h4.6v4.6h-4.6zM32.2 36.8h4.6v4.6h-4.6zM41.4 36.8h4.6v4.6h-4.6zM4.6 41.4h4.6v4.6h-4.6zM23 41.4h4.6v4.6h-4.6zM41.4 41.4h4.6v4.6h-4.6z" fill="#fff" fill-opacity="0.20"/><path d="M9.2 0h4.6v4.6h-4.6zM36.8 13.8h4.6v4.6h-4.6zM9.2 18.4h4.6v4.6h-4.6zM13.8 18.4h4.6v4.6h-4.6zM23 18.4h4.6v4.6h-4.6zM41.4 18.4h4.6v4.6h-4.6zM0 23h4.6v4.6h-4.6zM13.8 27.6h4.6v4.6h-4.6zM32.2 32.2h4.6v4.6h-4.6z" fill="#fff" fill-opacity="0.60"/><path d="M18.4 0h4.6v4.6h-4.6zM41.4 0h4.6v4.6h-4.6zM32.2 4.6h4.6v4.6h-4.6zM9.2 9.2h4.6v4.6h-4.6zM27.6 18.4h4.6v4.6h-4.6zM27.6 23h4.6v4.6h-4.6zM9.2 27.6h4.6v4.6h-4.6zM18.4 27.6h4.6v4.6h-4.6zM36.8 32.2h4.6v4.6h-4.6zM4.6 36.8h4.6v4.6h-4.6zM32.2 41.4h4.6v4.6h-4.6zM36.8 41.4h4.6v4.6h-4.6z" fill="#fff" fill-opacity="0.40"/><path d="M23 0h4.6v4.6h-4.6zM13.8 4.6h4.6v4.6h-4.6zM18.4 4.6h4.6v4.6h-4.6zM23 4.6h4.6v4.6h-4.6zM0 9.2h4.6v4.6h-4.6zM13.8 9.2h4.6v4.6h-4.6zM18.4 9.2h4.6v4.6h-4.6zM36.8 9.2h4.6v4.6h-4.6zM0 13.8h4.6v4.6h-4.6zM0 27.6h4.6v4.6h-4.6zM4.6 27.6h4.6v4.6h-4.6zM9.2 32.2h4.6v4.6h-4.6zM13.8 32.2h4.6v4.6h-4.6zM23 32.2h4.6v4.6h-4.6zM18.4 36.8h4.6v4.6h-4.6zM27.6 36.8h4.6v4.6h-4.6zM27.6 41.4h4.6v4.6h-4.6z" fill="#000" fill-opacity="0.20"/><path d="M27.6 0h4.6v4.6h-4.6zM4.6 13.8h4.6v4.6h-4.6zM41.4 13.8h4.6v4.6h-4.6zM4.6 23h4.6v4.6h-4.6zM23 23h4.6v4.6h-4.6zM41.4 32.2h4.6v4.6h-4.6zM18.4 41.4h4.6v4.6h-4.6z" fill="#000" fill-opacity="0.60"/><path d="M36.8 0h4.6v4.6h-4.6zM9.2 4.6h4.6v4.6h-4.6zM27.6 9.2h4.6v4.6h-4.6zM41.4 9.2h4.6v4.6h-4.6zM4.6 18.4h4.6v4.6h-4.6zM9.2 41.4h4.6v4.6h-4.6z" fill="#000" fill-opacity="0.80"/><path d="M4.6 4.6h4.6v4.6h-4.6zM27.6 4.6h4.6v4.6h-4.6zM41.4 4.6h4.6v4.6h-4.6zM4.6 9.2h4.6v4.6h-4.6zM32.2 9.2h4.6v4.6h-4.6zM18.4 18.4h4.6v4.6h-4.6zM32.2 18.4h4.6v4.6h-4.6zM36.8 36.8h4.6v4.6h-4.6zM0 41.4h4.6v4.6h-4.6z" fill="#000" fill-opacity="0.40"/><path d="M36.8 4.6h4.6v4.6h-4.6zM18.4 13.8h4.6v4.6h-4.6zM41.4 27.6h4.6v4.6h-4.6z" fill="#fff" fill-opacity="0.80"/></pattern><pattern id="pn45b" patternUnits="userSpaceOnUse" width="59.8" height="59.8"><path d="M0 0h4.6v4.6h-4.6zM4.6 0h4.6v4.6h-4.6zM9.2 0h4.6v4.6h-4.6zM46 0h4.6v4.6h-4.6zM18.4 4.6h4.6v4.6h-4.6zM55.2 4.6h4.6v4.6h-4.6zM41.4 9.2h4.6v4.6h-4.6zM4.6 13.8h4.6v4.6h-4.6zM23 13.8h4.6v4.6h-4.6zM46 23h4.6v4.6h-4.6zM9.2 27.6h4.6v4.6h-4.6zM23 32.2h4.6v4.6h-4.6zM27.6 32.2h4.6v4.6h-4.6zM36.8 32.2h4.6v4.6h-4.6zM27.6 36.8h4.6v4.6h-4.6zM46 36.8h4.6v4.6h-4.6zM23 41.4h4.6v4.6h-4.6zM46 41.4h4.6v4.6h-4.6zM50.6 41.4h4.6v4.6h-4.6zM9.2 46h4.6v4.6h-4.6zM18.4 46h4.6v4.6h-4.6zM27.6 46h4.6v4.6h-4.6zM32.2 46h4.6v4.6h-4.6zM41.4 46h4.6v4.6h-4.6zM18.4 50.6h4.6v4.6h-4.6zM9.2 55.2h4.6v4.6h-4.6z" fill="#fff" fill-opacity="0.40"/><path d="M13.8 0h4.6v4.6h-4.6zM13.8 4.6h4.6v4.6h-4.6zM27.6 4.6h4.6v4.6h-4.6zM32.2 4.6h4.6v4.6h-4.6zM18.4 9.2h4.6v4.6h-4.6zM4.6 18.4h4.6v4.6h-4.6zM9.2 23h4.6v4.6h-4.6zM18.4 32.2h4.6v4.6h-4.6zM32.2 32.2h4.6v4.6h-4.6zM41.4 32.2h4.6v4.6h-4.6zM50.6 32.2h4.6v4.6h-4.6zM13.8 46h4.6v4.6h-4.6zM41.4 50.6h4.6v4.6h-4.6zM46 50.6h4.6v4.6h-4.6z" fill="#000" fill-opacity="0.40"/><path d="M23 0h4.6v4.6h-4.6zM41.4 0h4.6v4.6h-4.6zM36.8 4.6h4.6v4.6h-4.6zM36.8 9.2h4.6v4.6h-4.6zM0 13.8h4.6v4.6h-4.6zM13.8 27.6h4.6v4.6h-4.6zM23 27.6h4.6v4.6h-4.6zM0 32.2h4.6v4.6h-4.6zM4.6 36.8h4.6v4.6h-4.6zM13.8 41.4h4.6v4.6h-4.6zM55.2 46h4.6v4.6h-4.6zM50.6 55.2h4.6v4.6h-4.6z" fill="#fff" fill-opacity="0.80"/><path d="M27.6 0h4.6v4.6h-4.6zM4.6 4.6h4.6v4.6h-4.6zM41.4 4.6h4.6v4.6h-4.6zM13.8 9.2h4.6v4.6h-4.6zM23 9.2h4.6v4.6h-4.6zM55.2 9.2h4.6v4.6h-4.6zM46 13.8h4.6v4.6h-4.6zM18.4 18.4h4.6v4.6h-4.6zM41.4 18.4h4.6v4.6h-4.6zM4.6 32.2h4.6v4.6h-4.6zM55.2 32.2h4.6v4.6h-4.6zM0 36.8h4.6v4.6h-4.6zM9.2 36.8h4.6v4.6h-4.6zM36.8 36.8h4.6v4.6h-4.6zM36.8 41.4h4.6v4.6h-4.6zM36.8 46h4.6v4.6h-4.6zM4.6 50.6h4.6v4.6h-4.6zM0 55.2h4.6v4.6h-4.6zM4.6 55.2h4.6v4.6h-4.6zM13.8 55.2h4.6v4.6h-4.6zM18.4 55.2h4.6v4.6h-4.6zM32.2 55.2h4.6v4.6h-4.6z" fill="#000" fill-opacity="0.20"/><path d="M32.2 0h4.6v4.6h-4.6zM27.6 18.4h4.6v4.6h-4.6zM18.4 23h4.6v4.6h-4.6zM55.2 23h4.6v4.6h-4.6zM41.4 36.8h4.6v4.6h-4.6zM0 41.4h4.6v4.6h-4.6zM9.2 41.4h4.6v4.6h-4.6zM41.4 41.4h4.6v4.6h-4.6zM0 50.6h4.6v4.6h-4.6zM46 55.2h4.6v4.6h-4.6z" fill="#fff" fill-opacity="0.60"/><path d="M36.8 0h4.6v4.6h-4.6zM50.6 0h4.6v4.6h-4.6zM55.2 0h4.6v4.6h-4.6zM9.2 4.6h4.6v4.6h-4.6zM9.2 13.8h4.6v4.6h-4.6zM36.8 13.8h4.6v4.6h-4.6zM41.4 13.8h4.6v4.6h-4.6zM55.2 13.8h4.6v4.6h-4.6zM0 18.4h4.6v4.6h-4.6zM46 18.4h4.6v4.6h-4.6zM55.2 18.4h4.6v4.6h-4.6zM23 23h4.6v4.6h-4.6zM36.8 23h4.6v4.6h-4.6zM50.6 27.6h4.6v4.6h-4.6zM9.2 32.2h4.6v4.6h-4.6zM13.8 32.2h4.6v4.6h-4.6zM4.6 41.4h4.6v4.6h-4.6zM18.4 41.4h4.6v4.6h-4.6zM55.2 41.4h4.6v4.6h-4.6zM4.6 46h4.6v4.6h-4.6zM9.2 50.6h4.6v4.6h-4.6zM27.6 50.6h4.6v4.6h-4.6zM55.2 50.6h4.6v4.6h-4.6z" fill="#fff" fill-opacity="0.20"/><path d="M23 4.6h4.6v4.6h-4.6zM4.6 9.2h4.6v4.6h-4.6zM32.2 9.2h4.6v4.6h-4.6zM18.4 13.8h4.6v4.6h-4.6z" fill="#fff" fill-opacity="1.00"/><path d="M0 9.2h4.6v4.6h-4.6zM4.6 27.6h4.6v4.6h-4.6zM13.8 36.8h4.6v4.6h-4.6zM41.4 55.2h4.6v4.6h-4.6z" fill="#000" fill-opacity="1.00"/><path d="M27.6 13.8h4.6v4.6h-4.6zM50.6 23h4.6v4.6h-4.6zM18.4 27.6h4.6v4.6h-4.6zM46 32.2h4.6v4.6h-4.6zM23 36.8h4.6v4.6h-4.6zM0 46h4.6v4.6h-4.6zM13.8 50.6h4.6v4.6h-4.6z" fill="#000" fill-opacity="0.80"/><path d="M36.8 18.4h4.6v4.6h-4.6zM4.6 23h4.6v4.6h-4.6zM27.6 27.6h4.6v4.6h-4.6zM32.2 27.6h4.6v4.6h-4.6zM18.4 36.8h4.6v4.6h-4.6zM50.6 36.8h4.6v4.6h-4.6zM46 46h4.6v4.6h-4.6zM32.2 50.6h4.6v4.6h-4.6zM36.8 50.6h4.6v4.6h-4.6zM27.6 55.2h4.6v4.6h-4.6z" fill="#000" fill-opacity="0.60"/></pattern><filter id="blur1" x="-50%" y="-50%" width="200%" height="200%"><feGaussianBlur stdDeviation="1.2"/></filter><filter id="blur2" x="-50%" y="-50%" width="200%" height="200%"><feGaussianBlur stdDeviation="2"/></filter><filter id="blur3" x="-50%" y="-50%" width="200%" height="200%"><feGaussianBlur stdDeviation="3"/></filter><linearGradient id="vg1" x1="0" y1="0" x2="0" y2="1"><stop offset="0" stop-color="#bcbcbc"/><stop offset="0.34" stop-color="#acacac"/><stop offset="0.42" stop-color="#404040"/><stop offset="0.55" stop-color="#202020"/><stop offset="0.66" stop-color="#404040"/><stop offset="0.72" stop-color="#b0b0b0"/><stop offset="1" stop-color="#bcbcbc"/></linearGradient><clipPath id="c_ws"><rect x="658" y="47.5" width="88" height="37.0"/></clipPath><linearGradient id="vg2" x1="0" y1="0" x2="0" y2="1"><stop offset="0" stop-color="#bcbcbc"/><stop offset="0.35" stop-color="#a8a8a8"/><stop offset="0.45" stop-color="#303030"/><stop offset="0.57" stop-color="#202020"/><stop offset="0.67" stop-color="#707070"/><stop offset="0.68" stop-color="#979797"/><stop offset="1" stop-color="#979797"/></linearGradient><clipPath id="c_blue"><rect x="657" y="95.1" width="89" height="37.3"/></clipPath><linearGradient id="vg3" x1="0" y1="0" x2="0" y2="1"><stop offset="0" stop-color="#bcbcbc"/><stop offset="0.36" stop-color="#a8a8a8"/><stop offset="0.46" stop-color="#303030"/><stop offset="0.58" stop-color="#202020"/><stop offset="0.68" stop-color="#707070"/><stop offset="0.69" stop-color="#979797"/><stop offset="1" stop-color="#979797"/></linearGradient><clipPath id="c_green"><rect x="657" y="134.4" width="89" height="38.2"/></clipPath><linearGradient id="vg4" x1="0" y1="0" x2="0" y2="1"><stop offset="0" stop-color="#bcbcbc"/><stop offset="0.33" stop-color="#a8a8a8"/><stop offset="0.43" stop-color="#303030"/><stop offset="0.55" stop-color="#202020"/><stop offset="0.65" stop-color="#707070"/><stop offset="0.66" stop-color="#979797"/><stop offset="1" stop-color="#979797"/></linearGradient><clipPath id="c_orange"><rect x="657" y="174.4" width="89" height="37.7"/></clipPath><linearGradient id="vg5" x1="0" y1="0" x2="0" y2="1"><stop offset="0" stop-color="#a0a0a0"/><stop offset="0.2" stop-color="#808080"/><stop offset="0.45" stop-color="#585858"/><stop offset="0.7" stop-color="#808080"/><stop offset="1" stop-color="#909090"/></linearGradient><clipPath id="c_red"><rect x="657" y="214.10000000000002" width="89" height="37.5"/></clipPath><linearGradient id="vg6" x1="0" y1="0" x2="0" y2="1"><stop offset="0" stop-color="#b8b8b8"/><stop offset="0.8" stop-color="#a8a8a8"/><stop offset="0.87" stop-color="#d0d0d0"/><stop offset="1" stop-color="#d4d4d4"/></linearGradient><pattern id="hatch1" patternUnits="userSpaceOnUse" width="24.2" height="23" x="122" y="352.4"><path d="M-24.2,23 L0,0 M0,23 L24.2,0 M24.2,23 L48.4,0" stroke="#111" stroke-width="1"/></pattern><pattern id="hatch2" patternUnits="userSpaceOnUse" width="24.2" height="23.5" x="1252.4" y="341.5"><path d="M-24.2,23.5 L0,0 M0,23.5 L24.2,0 M24.2,23.5 L48.4,0" stroke="#111" stroke-width="1"/></pattern><filter id="nzb" x="0" y="0" width="1" height="1" filterUnits="objectBoundingBox" color-interpolation-filters="sRGB"><feTurbulence type="fractalNoise" baseFrequency="0.22" numOctaves="1" seed="21"/><feColorMatrix type="matrix" values="3.0 0 0 0 -1.0 3.0 0 0 0 -1.0 3.0 0 0 0 -1.0 0 0 0 0 0.1"/><feComposite in2="SourceGraphic" operator="in"/></filter><filter id="nzz" x="0" y="0" width="1" height="1" filterUnits="objectBoundingBox" color-interpolation-filters="sRGB"><feTurbulence type="fractalNoise" baseFrequency="0.2" numOctaves="1" seed="33"/><feColorMatrix type="matrix" values="3.0 0 0 0 -1.0 3.0 0 0 0 -1.0 3.0 0 0 0 -1.0 0 0 0 0 0.35"/><feComposite in2="SourceGraphic" operator="in"/></filter><filter id="blur6" x="-50%" y="-50%" width="200%" height="200%"><feGaussianBlur stdDeviation="7"/></filter><filter id="blur5" x="-50%" y="-50%" width="200%" height="200%"><feGaussianBlur stdDeviation="5"/></filter><filter id="blur35" x="-50%" y="-50%" width="200%" height="200%"><feGaussianBlur stdDeviation="3"/></filter><clipPath id="pc0"><rect x="70.3" y="532.8" width="148.0" height="148.0"/></clipPath><clipPath id="pc1"><rect x="255.5" y="532.8" width="148.0" height="148.0"/></clipPath><clipPath id="pc2"><rect x="440.7" y="532.8" width="148.0" height="148.0"/></clipPath><clipPath id="pc3"><rect x="625.8999999999999" y="532.8" width="148.0" height="148.0"/></clipPath><clipPath id="pc4"><rect x="811.0999999999999" y="532.8" width="148.0" height="148.0"/></clipPath></defs><rect width="1400" height="953" fill="#fff"/><text x="70.7" y="13.9" style="font-family:'Liberation Mono',monospace;font-size:13px" fill="#000" >EW: 1.3±0.1</text>
<text x="155.0" y="13.9" style="font-family:'Liberation Sans',sans-serif;font-size:14px;font-style:italic" fill="#000" text-anchor="start" >Å</text>
<text x="183.5" y="13.9" style="font-family:'Liberation Mono',monospace;font-size:13px" fill="#000" >P(LAE)/P(OII):</text>
<text x="300.2" y="13.9" style="font-family:'Liberation Sans',sans-serif;font-size:12.6px" fill="#000" text-anchor="start" textLength="36.2" lengthAdjust="spacingAndGlyphs" >500.6</text>
<text x="342.3" y="8.6" style="font-family:'Liberation Sans',sans-serif;font-size:8.5px" fill="#000" text-anchor="start" textLength="20.8" lengthAdjust="spacingAndGlyphs" >1000</text>
<text x="341.6" y="17.3" style="font-family:'Liberation Sans',sans-serif;font-size:8.5px" fill="#000" text-anchor="start" textLength="25.4" lengthAdjust="spacingAndGlyphs" >232.5</text>
<text x="383.5" y="13.9" style="font-family:'Liberation Mono',monospace;font-size:13px" fill="#000" >P(Ly</text>
<text x="415.8" y="13.9" style="font-family:'Liberation Sans',sans-serif;font-size:13px;font-style:italic" fill="#000" text-anchor="start" >α</text>
<text x="424.8" y="13.9" style="font-family:'Liberation Mono',monospace;font-size:13px" fill="#000" >): 0.119</text>
<text x="501.0" y="13.9" style="font-family:'Liberation Mono',monospace;font-size:13px" fill="#000" >Q(z):</text>
<text x="548.3" y="13.9" style="font-family:'Liberation Sans',sans-serif;font-size:12.6px" fill="#000" text-anchor="start" textLength="28.0" lengthAdjust="spacingAndGlyphs" >0.10</text>
<text x="581.5" y="8.6" style="font-family:'Liberation Mono',monospace;font-size:8.3px" fill="#000" >0.10</text>
<text x="581.5" y="17.3" style="font-family:'Liberation Mono',monospace;font-size:8.3px" fill="#000" >0.10</text>
<text x="617.0" y="13.9" style="font-family:'Liberation Mono',monospace;font-size:13px" fill="#000" >z:</text>
<text x="641.2" y="13.9" style="font-family:'Liberation Sans',sans-serif;font-size:12.6px" fill="#000" text-anchor="start" textLength="44.0" lengthAdjust="spacingAndGlyphs" >0.1029</text>
<text x="690.3" y="8.6" style="font-family:'Liberation Mono',monospace;font-size:8.3px" fill="#000" >0.1029</text>
<text x="690.3" y="17.3" style="font-family:'Liberation Mono',monospace;font-size:8.3px" fill="#000" >0.1029</text>
<text x="729.5" y="13.9" style="font-family:'Liberation Mono',monospace;font-size:13px" fill="#000" >NeVI  Flags:0x08004009</text>
<text x="1057.0" y="16.5" style="font-family:'Liberation Mono',monospace;font-size:13px" fill="#000" >2025-01-01 04:02:14  Version 1.22.3</text>
<text x="70.0" y="40.7" style="font-family:'Liberation Mono',monospace;font-size:13px" fill="#000" >ID: 3090193718 (3090193718.pdf)</text>
<text x="70.0" y="55.2" style="font-family:'Liberation Mono',monospace;font-size:13px" fill="#000" >Obs: 20200712v018_3090193718</text>
<text x="70.0" y="70.0" style="font-family:'Liberation Mono',monospace;font-size:13px" fill="#000" >Primary Spec_Slot_IFU_AMP: 202_035_074_RL</text>
<text x="70.0" y="84.6" style="font-family:'Liberation Mono',monospace;font-size:13px" fill="#000" >F=1.8"  T=0.144  N=1.25  A=0.93  g=24.8</text>
<text x="70.0" y="99.3" style="font-family:'Liberation Mono',monospace;font-size:13px" fill="#000" >RA,Dec (269.275696,67.698517)</text>
<text x="69.3" y="115.9" style="font-family:'Liberation Sans',sans-serif;font-size:13px;font-style:italic" fill="#000" text-anchor="start" >λ</text>
<text x="83.6" y="115.9" style="font-family:'Liberation Mono',monospace;font-size:13px;letter-spacing:0.12px" fill="#000" >= 3776.55</text>
<text x="154.8" y="115.9" style="font-family:'Liberation Sans',sans-serif;font-size:13px;font-style:italic" fill="#000" text-anchor="start" >Å</text>
<text x="179.7" y="115.9" style="font-family:'Liberation Sans',sans-serif;font-size:13px;font-style:italic" fill="#000" text-anchor="start" >σ</text>
<text x="195.3" y="115.9" style="font-family:'Liberation Mono',monospace;font-size:13px;letter-spacing:0.12px" fill="#000" >= 5.90(±0.58)</text>
<text x="299.3" y="115.9" style="font-family:'Liberation Sans',sans-serif;font-size:13px;font-style:italic" fill="#000" text-anchor="start" >Å</text>
<text x="70.0" y="131.4" style="font-family:'Liberation Mono',monospace;font-size:13px" fill="#000" >LineFlux = 1.10(±0.11)e-15</text>
<text x="70.0" y="146.2" style="font-family:'Liberation Mono',monospace;font-size:13px" fill="#000" >Cont(n) = 9.70(±0.00)e-17</text>
<text x="70.0" y="164.4" style="font-family:'Liberation Mono',monospace;font-size:13px;letter-spacing:0.12px" fill="#000" >Cont(w) = 2.60(±0.00)e-16 (gmag</text>
<text x="323.0" y="164.4" style="font-family:'Liberation Sans',sans-serif;font-size:12.6px" fill="#000" text-anchor="start" textLength="34.8" lengthAdjust="spacingAndGlyphs" >18.20</text>
<text x="364.0" y="157.8" style="font-family:'Liberation Mono',monospace;font-size:8.3px" fill="#000" >18.20</text>
<text x="364.0" y="166.7" style="font-family:'Liberation Mono',monospace;font-size:8.3px" fill="#000" >18.20</text>
<text x="396.0" y="164.4" style="font-family:'Liberation Mono',monospace;font-size:13px;letter-spacing:0.12px" fill="#000" >*)</text>
<text x="70.0" y="182.4" style="font-family:'Liberation Mono',monospace;font-size:13px;letter-spacing:0.12px" fill="#000" >EWr = 3.50(±0.39) (w: 1.30(±0.14))</text>
<text x="340.5" y="182.4" style="font-family:'Liberation Sans',sans-serif;font-size:13px;font-style:italic" fill="#000" text-anchor="start" >Å</text>
<text x="70.0" y="199.7" style="font-family:'Liberation Mono',monospace;font-size:13px;letter-spacing:0.12px" fill="#000" >S/N = 13.9(±1.5)</text>
<text x="212.5" y="199.7" style="font-family:'Liberation Sans',sans-serif;font-size:13px;font-style:italic" fill="#000" text-anchor="start" >χ</text>
<text x="221.0" y="196.0" style="font-family:'Liberation Sans',sans-serif;font-size:8.5px" fill="#000" text-anchor="start" >2</text>
<text x="234.2" y="199.7" style="font-family:'Liberation Mono',monospace;font-size:13px;letter-spacing:0.12px" fill="#000" >= 6.2(±0.0)</text>
<text x="70.0" y="217.4" style="font-family:'Liberation Mono',monospace;font-size:13px;letter-spacing:0.12px" fill="#000" >P(LAE)/P(OII):</text>
<text x="186.6" y="217.4" style="font-family:'Liberation Sans',sans-serif;font-size:12.6px" fill="#000" text-anchor="start" textLength="36.4" lengthAdjust="spacingAndGlyphs" >0.434</text>
<text x="228.3" y="212.4" style="font-family:'Liberation Mono',monospace;font-size:8.3px" fill="#000" >1.048</text>
<text x="228.3" y="220.8" style="font-family:'Liberation Mono',monospace;font-size:8.3px" fill="#000" >0.232</text>
<text x="70.0" y="234.4" style="font-family:'Liberation Mono',monospace;font-size:13px" fill="#000" >LyA z = 2.1066  OII z = 0.0131</text>
<text x="70.0" y="251.1" style="font-family:'Liberation Mono',monospace;font-size:13px" fill="#000" >Q(0.00) NeVI(3426) z = 0.1029  EW r = 3.7</text>
<text x="388.8" y="251.1" style="font-family:'Liberation Sans',sans-serif;font-size:13px;font-style:italic" fill="#000" text-anchor="start" >Å</text>
<text x="515.5" y="42.2" style="font-family:'Liberation Sans',sans-serif;font-size:8.2px" fill="#000" text-anchor="middle" textLength="31.6" lengthAdjust="spacingAndGlyphs" >2D Spec</text>
<text x="608.6" y="42.2" style="font-family:'Liberation Sans',sans-serif;font-size:8.2px" fill="#000" text-anchor="middle" textLength="33.9" lengthAdjust="spacingAndGlyphs" >Pixel Flat</text>
<text x="701.0" y="42.2" style="font-family:'Liberation Sans',sans-serif;font-size:8.2px" fill="#000" text-anchor="middle" textLength="38.6" lengthAdjust="spacingAndGlyphs" >Smoothed</text>
<rect x="467.5" y="47.5" width="280" height="37.0" fill="#fff"/>
<rect x="471.5" y="47.5" width="86.5" height="37.0" fill="url(#vg1)"/>
<g transform="translate(12,13)"><rect x="459.5" y="34.5" width="86.5" height="37.0" fill="url(#pn2)" opacity="0.38"/></g>
<g transform="translate(19,18)"><rect x="452.5" y="29.5" width="86.5" height="37.0" fill="url(#pn2b)" opacity="0.38"/></g>
<ellipse cx="490.5" cy="67.1" rx="6.1" ry="4.1" fill="#000" opacity="0.45" filter="url(#blur2)"/>
<ellipse cx="514.8" cy="67.1" rx="15.6" ry="4.1" fill="#000" opacity="0.6" filter="url(#blur2)"/>
<ellipse cx="540.7" cy="67.1" rx="10.4" ry="4.1" fill="#000" opacity="0.55" filter="url(#blur2)"/>
<rect x="658" y="47.5" width="87.7" height="37.0" fill="#9c9c9c"/>
<g clip-path="url(#c_ws)">
<rect x="662.0" y="47.5" width="3.5" height="16.7" fill="#fff" opacity="0.18" filter="url(#blur1)"/>
<rect x="672.3" y="47.5" width="3.5" height="16.7" fill="#fff" opacity="0.18" filter="url(#blur1)"/>
<rect x="682.6" y="47.5" width="3.5" height="16.7" fill="#fff" opacity="0.18" filter="url(#blur1)"/>
<rect x="692.9" y="47.5" width="3.5" height="16.7" fill="#fff" opacity="0.18" filter="url(#blur1)"/>
<rect x="703.2" y="47.5" width="3.5" height="16.7" fill="#fff" opacity="0.18" filter="url(#blur1)"/>
<rect x="713.5" y="47.5" width="3.5" height="16.7" fill="#fff" opacity="0.18" filter="url(#blur1)"/>
<rect x="723.8" y="47.5" width="3.5" height="16.7" fill="#fff" opacity="0.18" filter="url(#blur1)"/>
<rect x="734.1" y="47.5" width="3.5" height="16.7" fill="#fff" opacity="0.18" filter="url(#blur1)"/>
<rect x="744.4" y="47.5" width="3.5" height="16.7" fill="#fff" opacity="0.18" filter="url(#blur1)"/>
<rect x="658.0" y="59.3" width="87.7" height="14.8" fill="#000" opacity="0.12" filter="url(#blur2)"/>
<rect x="658.0" y="58.6" width="87.7" height="16.3" fill="#000" opacity="0.12" filter="url(#blur3)"/>
<rect x="689.6" y="62.3" width="43.9" height="8.9" rx="3" fill="#000" filter="url(#blur1)"/>
<rect x="682.6" y="64.2" width="8.8" height="5.2" fill="#000" opacity="0.5" filter="url(#blur1)"/>
<ellipse cx="664.1" cy="66.7" rx="2.2" ry="4.4" fill="#000" opacity="0.35" filter="url(#blur1)"/>
<ellipse cx="680.8" cy="66.7" rx="4.4" ry="5.5" fill="#000" opacity="1.00" filter="url(#blur1)"/>
<ellipse cx="698.3" cy="66.7" rx="9.2" ry="7.0" fill="#000" opacity="1.00" filter="url(#blur1)"/>
<ellipse cx="713.3" cy="66.7" rx="7.0" ry="4.8" fill="#000" opacity="1.00" filter="url(#blur1)"/>
<ellipse cx="727.3" cy="66.7" rx="7.9" ry="6.7" fill="#000" opacity="1.00" filter="url(#blur1)"/>
</g>
<rect x="467.0" y="46.9" width="281" height="38.2" fill="none" stroke="#000" stroke-width="2.2"/>
<rect x="467.5" y="95.1" width="280" height="37.3" fill="#fff"/>
<rect x="470.5" y="95.1" width="89.5" height="37.3" fill="url(#vg2)"/>
<g transform="translate(4,18)"><rect x="466.5" y="77.1" width="89.5" height="25.4" fill="url(#pn2)" opacity="0.60"/></g>
<g transform="translate(11,23)"><rect x="459.5" y="72.1" width="89.5" height="25.4" fill="url(#pn2b)" opacity="0.60"/></g>
<ellipse cx="488.4" cy="114.1" rx="7.2" ry="4.1" fill="#000" opacity="0.5" filter="url(#blur2)"/>
<ellipse cx="515.2" cy="114.1" rx="15.2" ry="4.1" fill="#000" opacity="0.65" filter="url(#blur2)"/>
<ellipse cx="542.1" cy="114.1" rx="9.0" ry="4.1" fill="#000" opacity="0.55" filter="url(#blur2)"/>
<rect x="564" y="95.1" width="89.6" height="37.3" fill="#898989"/>
<rect x="657" y="95.1" width="89.0" height="37.3" fill="#9c9c9c"/>
<g clip-path="url(#c_blue)">
<rect x="661.0" y="95.1" width="3.5" height="16.8" fill="#fff" opacity="0.18" filter="url(#blur1)"/>
<rect x="671.3" y="95.1" width="3.5" height="16.8" fill="#fff" opacity="0.18" filter="url(#blur1)"/>
<rect x="681.6" y="95.1" width="3.5" height="16.8" fill="#fff" opacity="0.18" filter="url(#blur1)"/>
<rect x="691.9" y="95.1" width="3.5" height="16.8" fill="#fff" opacity="0.18" filter="url(#blur1)"/>
<rect x="702.2" y="95.1" width="3.5" height="16.8" fill="#fff" opacity="0.18" filter="url(#blur1)"/>
<rect x="712.5" y="95.1" width="3.5" height="16.8" fill="#fff" opacity="0.18" filter="url(#blur1)"/>
<rect x="722.8" y="95.1" width="3.5" height="16.8" fill="#fff" opacity="0.18" filter="url(#blur1)"/>
<rect x="733.1" y="95.1" width="3.5" height="16.8" fill="#fff" opacity="0.18" filter="url(#blur1)"/>
<rect x="743.4" y="95.1" width="3.5" height="16.8" fill="#fff" opacity="0.18" filter="url(#blur1)"/>
<rect x="657.0" y="107.0" width="89.0" height="14.9" fill="#000" opacity="0.12" filter="url(#blur2)"/>
<rect x="657.0" y="106.3" width="89.0" height="16.4" fill="#000" opacity="0.12" filter="url(#blur3)"/>
<rect x="689.0" y="110.0" width="44.5" height="9.0" rx="3" fill="#000" filter="url(#blur1)"/>
<rect x="681.9" y="111.9" width="8.9" height="5.2" fill="#000" opacity="0.5" filter="url(#blur1)"/>
<ellipse cx="663.2" cy="114.5" rx="2.2" ry="4.5" fill="#000" opacity="0.35" filter="url(#blur1)"/>
<ellipse cx="680.1" cy="114.5" rx="4.5" ry="5.6" fill="#000" opacity="1.00" filter="url(#blur1)"/>
<ellipse cx="697.9" cy="114.5" rx="9.3" ry="7.1" fill="#000" opacity="1.00" filter="url(#blur1)"/>
<ellipse cx="713.1" cy="114.5" rx="7.1" ry="4.8" fill="#000" opacity="1.00" filter="url(#blur1)"/>
<ellipse cx="727.3" cy="114.5" rx="8.0" ry="6.7" fill="#000" opacity="1.00" filter="url(#blur1)"/>
</g>
<rect x="467.0" y="94.5" width="281" height="38.5" fill="none" stroke="#0000ff" stroke-width="1.9"/>
<rect x="467.5" y="134.4" width="280" height="38.2" fill="#fff"/>
<rect x="470.5" y="134.4" width="89.5" height="38.2" fill="url(#vg3)"/>
<g transform="translate(1,2)"><rect x="469.5" y="132.4" width="89.5" height="26.4" fill="url(#pn2)" opacity="0.60"/></g>
<g transform="translate(8,7)"><rect x="462.5" y="127.4" width="89.5" height="26.4" fill="url(#pn2b)" opacity="0.60"/></g>
<ellipse cx="488.4" cy="154.3" rx="7.2" ry="4.2" fill="#000" opacity="0.5" filter="url(#blur2)"/>
<ellipse cx="515.2" cy="154.3" rx="15.2" ry="4.2" fill="#000" opacity="0.65" filter="url(#blur2)"/>
<ellipse cx="542.1" cy="154.3" rx="9.0" ry="4.2" fill="#000" opacity="0.55" filter="url(#blur2)"/>
<rect x="564" y="134.4" width="89.6" height="38.2" fill="#898989"/>
<rect x="657" y="134.4" width="89.0" height="38.2" fill="#9c9c9c"/>
<g clip-path="url(#c_green)">
<rect x="661.0" y="134.4" width="3.5" height="17.2" fill="#fff" opacity="0.18" filter="url(#blur1)"/>
<rect x="671.3" y="134.4" width="3.5" height="17.2" fill="#fff" opacity="0.18" filter="url(#blur1)"/>
<rect x="681.6" y="134.4" width="3.5" height="17.2" fill="#fff" opacity="0.18" filter="url(#blur1)"/>
<rect x="691.9" y="134.4" width="3.5" height="17.2" fill="#fff" opacity="0.18" filter="url(#blur1)"/>
<rect x="702.2" y="134.4" width="3.5" height="17.2" fill="#fff" opacity="0.18" filter="url(#blur1)"/>
<rect x="712.5" y="134.4" width="3.5" height="17.2" fill="#fff" opacity="0.18" filter="url(#blur1)"/>
<rect x="722.8" y="134.4" width="3.5" height="17.2" fill="#fff" opacity="0.18" filter="url(#blur1)"/>
<rect x="733.1" y="134.4" width="3.5" height="17.2" fill="#fff" opacity="0.18" filter="url(#blur1)"/>
<rect x="743.4" y="134.4" width="3.5" height="17.2" fill="#fff" opacity="0.18" filter="url(#blur1)"/>
<rect x="657.0" y="147.8" width="89.0" height="15.3" fill="#000" opacity="0.12" filter="url(#blur2)"/>
<rect x="657.0" y="147.0" width="89.0" height="16.8" fill="#000" opacity="0.12" filter="url(#blur3)"/>
<rect x="689.0" y="150.8" width="44.5" height="9.2" rx="3" fill="#000" filter="url(#blur1)"/>
<rect x="681.9" y="152.7" width="8.9" height="5.3" fill="#000" opacity="0.5" filter="url(#blur1)"/>
<ellipse cx="665.0" cy="155.4" rx="2.2" ry="4.2" fill="#000" opacity="0.35" filter="url(#blur1)"/>
<ellipse cx="678.4" cy="155.4" rx="3.1" ry="5.0" fill="#000" opacity="1.00" filter="url(#blur1)"/>
<ellipse cx="698.8" cy="155.4" rx="9.3" ry="6.5" fill="#000" opacity="1.00" filter="url(#blur1)"/>
<ellipse cx="713.1" cy="155.4" rx="7.1" ry="4.6" fill="#000" opacity="1.00" filter="url(#blur1)"/>
<ellipse cx="727.3" cy="155.4" rx="8.9" ry="6.1" fill="#000" opacity="1.00" filter="url(#blur1)"/>
</g>
<rect x="467.0" y="133.8" width="281" height="39.4" fill="none" stroke="#00ff00" stroke-width="1.9"/>
<rect x="467.5" y="174.4" width="280" height="37.7" fill="#fff"/>
<rect x="470.5" y="174.4" width="89.5" height="37.7" fill="url(#vg4)"/>
<g transform="translate(7,18)"><rect x="463.5" y="156.4" width="89.5" height="24.9" fill="url(#pn2)" opacity="0.60"/></g>
<g transform="translate(14,23)"><rect x="456.5" y="151.4" width="89.5" height="24.9" fill="url(#pn2b)" opacity="0.60"/></g>
<ellipse cx="488.4" cy="192.9" rx="7.2" ry="4.1" fill="#000" opacity="0.5" filter="url(#blur2)"/>
<ellipse cx="515.2" cy="192.9" rx="15.2" ry="4.1" fill="#000" opacity="0.65" filter="url(#blur2)"/>
<ellipse cx="542.1" cy="192.9" rx="9.0" ry="4.1" fill="#000" opacity="0.55" filter="url(#blur2)"/>
<rect x="564" y="174.4" width="89.6" height="37.7" fill="#898989"/>
<rect x="657" y="174.4" width="89.0" height="37.7" fill="#9c9c9c"/>
<g clip-path="url(#c_orange)">
<rect x="661.0" y="174.4" width="3.5" height="17.0" fill="#fff" opacity="0.18" filter="url(#blur1)"/>
<rect x="671.3" y="174.4" width="3.5" height="17.0" fill="#fff" opacity="0.18" filter="url(#blur1)"/>
<rect x="681.6" y="174.4" width="3.5" height="17.0" fill="#fff" opacity="0.18" filter="url(#blur1)"/>
<rect x="691.9" y="174.4" width="3.5" height="17.0" fill="#fff" opacity="0.18" filter="url(#blur1)"/>
<rect x="702.2" y="174.4" width="3.5" height="17.0" fill="#fff" opacity="0.18" filter="url(#blur1)"/>
<rect x="712.5" y="174.4" width="3.5" height="17.0" fill="#fff" opacity="0.18" filter="url(#blur1)"/>
<rect x="722.8" y="174.4" width="3.5" height="17.0" fill="#fff" opacity="0.18" filter="url(#blur1)"/>
<rect x="733.1" y="174.4" width="3.5" height="17.0" fill="#fff" opacity="0.18" filter="url(#blur1)"/>
<rect x="743.4" y="174.4" width="3.5" height="17.0" fill="#fff" opacity="0.18" filter="url(#blur1)"/>
<rect x="657.0" y="186.8" width="89.0" height="15.1" fill="#000" opacity="0.12" filter="url(#blur2)"/>
<rect x="657.0" y="186.1" width="89.0" height="16.6" fill="#000" opacity="0.12" filter="url(#blur3)"/>
<rect x="689.0" y="189.9" width="44.5" height="9.0" rx="3" fill="#000" filter="url(#blur1)"/>
<rect x="681.9" y="191.7" width="8.9" height="5.3" fill="#000" opacity="0.5" filter="url(#blur1)"/>
<ellipse cx="665.9" cy="194.4" rx="2.2" ry="4.5" fill="#000" opacity="0.35" filter="url(#blur1)"/>
<ellipse cx="680.1" cy="194.4" rx="4.9" ry="6.0" fill="#000" opacity="1.00" filter="url(#blur1)"/>
<ellipse cx="712.2" cy="194.4" rx="24.0" ry="6.8" fill="#000" opacity="1.00" filter="url(#blur1)"/>
<ellipse cx="701.5" cy="194.4" rx="8.9" ry="7.2" fill="#000" opacity="1.00" filter="url(#blur1)"/>
<ellipse cx="728.2" cy="194.4" rx="8.9" ry="7.2" fill="#000" opacity="1.00" filter="url(#blur1)"/>
</g>
<rect x="467.0" y="173.8" width="281" height="38.9" fill="none" stroke="#ffa500" stroke-width="1.9"/>
<rect x="467.5" y="214.10000000000002" width="280" height="37.5" fill="#fff"/>
<rect x="470.5" y="214.1" width="89.5" height="37.5" fill="#8c8c8c"/>
<rect x="470.5" y="224.6" width="89.5" height="27.0" fill="url(#vg5)"/>
<g transform="translate(7,9)"><rect x="463.5" y="215.6" width="89.5" height="27.0" fill="url(#pn2)" opacity="0.98"/></g>
<g transform="translate(14,14)"><rect x="456.5" y="210.6" width="89.5" height="27.0" fill="url(#pn2b)" opacity="0.98"/></g>
<ellipse cx="515.2" cy="232.9" rx="10.7" ry="3.7" fill="#000" opacity="0.25" filter="url(#blur2)"/>
<ellipse cx="537.6" cy="232.9" rx="9.0" ry="3.7" fill="#000" opacity="0.2" filter="url(#blur2)"/>
<rect x="564" y="214.10000000000002" width="89.6" height="37.5" fill="#898989"/>
<rect x="657" y="214.1" width="89.0" height="37.5" fill="#9c9c9c"/>
<g clip-path="url(#c_red)">
<rect x="661.0" y="225.4" width="3.5" height="16.9" fill="#fff" opacity="0.18" filter="url(#blur1)"/>
<rect x="671.3" y="225.4" width="3.5" height="16.9" fill="#fff" opacity="0.18" filter="url(#blur1)"/>
<rect x="681.6" y="225.4" width="3.5" height="16.9" fill="#fff" opacity="0.18" filter="url(#blur1)"/>
<rect x="691.9" y="225.4" width="3.5" height="16.9" fill="#fff" opacity="0.18" filter="url(#blur1)"/>
<rect x="702.2" y="225.4" width="3.5" height="16.9" fill="#fff" opacity="0.18" filter="url(#blur1)"/>
<rect x="712.5" y="225.4" width="3.5" height="16.9" fill="#fff" opacity="0.18" filter="url(#blur1)"/>
<rect x="722.8" y="225.4" width="3.5" height="16.9" fill="#fff" opacity="0.18" filter="url(#blur1)"/>
<rect x="733.1" y="225.4" width="3.5" height="16.9" fill="#fff" opacity="0.18" filter="url(#blur1)"/>
<rect x="743.4" y="225.4" width="3.5" height="16.9" fill="#fff" opacity="0.18" filter="url(#blur1)"/>
<rect x="657.0" y="228.3" width="89.0" height="15.0" fill="#000" opacity="0.12" filter="url(#blur2)"/>
<rect x="657.0" y="214.1" width="89.0" height="10.5" fill="#8e8e8e"/>
<rect x="657.0" y="227.6" width="89.0" height="16.5" fill="#000" opacity="0.12" filter="url(#blur3)"/>
<ellipse cx="664.1" cy="235.8" rx="3.6" ry="3.7" fill="#000" opacity="0.30" filter="url(#blur1)"/>
<ellipse cx="673.0" cy="235.8" rx="3.6" ry="3.7" fill="#000" opacity="0.35" filter="url(#blur1)"/>
<ellipse cx="698.8" cy="235.8" rx="8.0" ry="5.6" fill="#000" opacity="0.85" filter="url(#blur1)"/>
<ellipse cx="721.1" cy="235.8" rx="9.3" ry="4.9" fill="#000" opacity="0.70" filter="url(#blur1)"/>
<ellipse cx="737.1" cy="235.8" rx="2.7" ry="3.7" fill="#000" opacity="0.35" filter="url(#blur1)"/>
</g>
<rect x="467.0" y="213.5" width="281" height="38.7" fill="none" stroke="#ff0000" stroke-width="1.9"/>
<text x="446.4" y="105.8" style="font-family:'Liberation Sans',sans-serif;font-size:7.8px" fill="#000" text-anchor="start" textLength="16.6" lengthAdjust="spacingAndGlyphs" >0.30</text>
<text x="446.4" y="114.7" style="font-family:'Liberation Sans',sans-serif;font-size:7.8px" fill="#000" text-anchor="start" textLength="16.6" lengthAdjust="spacingAndGlyphs" >1.66</text>
<text x="446.4" y="123.7" style="font-family:'Liberation Sans',sans-serif;font-size:7.8px" fill="#000" text-anchor="start" textLength="14.0" lengthAdjust="spacingAndGlyphs" >336</text>
<text x="446.4" y="145.5" style="font-family:'Liberation Sans',sans-serif;font-size:7.8px" fill="#000" text-anchor="start" textLength="16.6" lengthAdjust="spacingAndGlyphs" >0.17</text>
<text x="446.4" y="154.4" style="font-family:'Liberation Sans',sans-serif;font-size:7.8px" fill="#000" text-anchor="start" textLength="16.6" lengthAdjust="spacingAndGlyphs" >1.22</text>
<text x="446.4" y="163.4" style="font-family:'Liberation Sans',sans-serif;font-size:7.8px" fill="#000" text-anchor="start" textLength="14.0" lengthAdjust="spacingAndGlyphs" >336</text>
<text x="446.4" y="185.2" style="font-family:'Liberation Sans',sans-serif;font-size:7.8px" fill="#000" text-anchor="start" textLength="16.6" lengthAdjust="spacingAndGlyphs" >0.14</text>
<text x="446.4" y="194.1" style="font-family:'Liberation Sans',sans-serif;font-size:7.8px" fill="#000" text-anchor="start" textLength="16.6" lengthAdjust="spacingAndGlyphs" >1.05</text>
<text x="446.4" y="203.1" style="font-family:'Liberation Sans',sans-serif;font-size:7.8px" fill="#000" text-anchor="start" textLength="14.0" lengthAdjust="spacingAndGlyphs" >336</text>
<text x="446.4" y="224.4" style="font-family:'Liberation Sans',sans-serif;font-size:7.8px" fill="#000" text-anchor="start" textLength="16.6" lengthAdjust="spacingAndGlyphs" >0.09</text>
<text x="446.4" y="233.3" style="font-family:'Liberation Sans',sans-serif;font-size:7.8px" fill="#000" text-anchor="start" textLength="16.6" lengthAdjust="spacingAndGlyphs" >0.95</text>
<text x="446.4" y="242.3" style="font-family:'Liberation Sans',sans-serif;font-size:7.8px" fill="#000" text-anchor="start" textLength="14.0" lengthAdjust="spacingAndGlyphs" >337</text>
<text x="749.5" y="60.7" style="font-family:'Liberation Sans',sans-serif;font-size:7.8px" fill="#000" text-anchor="start" >Weighted</text>
<text x="749.5" y="69.7" style="font-family:'Liberation Sans',sans-serif;font-size:7.8px" fill="#000" text-anchor="start" >Sum</text>
<text x="750.5" y="99.7" style="font-family:'Liberation Sans',sans-serif;font-size:5.6px" fill="#000" text-anchor="start" >0.38"</text>
<text x="750.5" y="107.0" style="font-family:'Liberation Sans',sans-serif;font-size:5.6px" fill="#000" text-anchor="start" >(139, 12)</text>
<text x="750.5" y="114.3" style="font-family:'Liberation Sans',sans-serif;font-size:5.6px" fill="#000" text-anchor="start" >20200712</text>
<text x="750.5" y="121.6" style="font-family:'Liberation Sans',sans-serif;font-size:5.6px" fill="#000" text-anchor="start" >v018_02</text>
<text x="750.5" y="128.9" style="font-family:'Liberation Sans',sans-serif;font-size:5.6px" fill="#000" text-anchor="start" >202_RL_001</text>
<text x="750.5" y="139.3" style="font-family:'Liberation Sans',sans-serif;font-size:5.6px" fill="#000" text-anchor="start" >1.04"</text>
<text x="750.5" y="146.6" style="font-family:'Liberation Sans',sans-serif;font-size:5.6px" fill="#000" text-anchor="start" >(139, 13)</text>
<text x="750.5" y="153.9" style="font-family:'Liberation Sans',sans-serif;font-size:5.6px" fill="#000" text-anchor="start" >20200712</text>
<text x="750.5" y="161.2" style="font-family:'Liberation Sans',sans-serif;font-size:5.6px" fill="#000" text-anchor="start" >v018_03</text>
<text x="750.5" y="168.5" style="font-family:'Liberation Sans',sans-serif;font-size:5.6px" fill="#000" text-anchor="start" >202_RL_001</text>
<text x="750.5" y="178.9" style="font-family:'Liberation Sans',sans-serif;font-size:5.6px" fill="#000" text-anchor="start" >1.24"</text>
<text x="750.5" y="186.2" style="font-family:'Liberation Sans',sans-serif;font-size:5.6px" fill="#000" text-anchor="start" >(139, 12)</text>
<text x="750.5" y="193.5" style="font-family:'Liberation Sans',sans-serif;font-size:5.6px" fill="#000" text-anchor="start" >20200712</text>
<text x="750.5" y="200.8" style="font-family:'Liberation Sans',sans-serif;font-size:5.6px" fill="#000" text-anchor="start" >v018_01</text>
<text x="750.5" y="208.1" style="font-family:'Liberation Sans',sans-serif;font-size:5.6px" fill="#000" text-anchor="start" >202_RL_001</text>
<text x="750.5" y="218.5" style="font-family:'Liberation Sans',sans-serif;font-size:5.6px" fill="#000" text-anchor="start" >1.37"</text>
<text x="750.5" y="225.8" style="font-family:'Liberation Sans',sans-serif;font-size:5.6px" fill="#000" text-anchor="start" >(139, 1010)</text>
<text x="750.5" y="233.1" style="font-family:'Liberation Sans',sans-serif;font-size:5.6px" fill="#000" text-anchor="start" >20200712</text>
<text x="750.5" y="240.4" style="font-family:'Liberation Sans',sans-serif;font-size:5.6px" fill="#000" text-anchor="start" >v018_01</text>
<text x="750.5" y="247.7" style="font-family:'Liberation Sans',sans-serif;font-size:5.6px" fill="#000" text-anchor="start" >202_RU_112</text>
<text x="865.5" y="47.6" style="font-family:'Liberation Sans',sans-serif;font-size:10.2px" fill="#000" text-anchor="middle" textLength="42.3" lengthAdjust="spacingAndGlyphs" >With Sky</text>
<text x="865.5" y="58.2" style="font-family:'Liberation Sans',sans-serif;font-size:10.2px" fill="#000" text-anchor="middle" textLength="60.6" lengthAdjust="spacingAndGlyphs" >x, y: 139, 12</text>
<text x="966.2" y="47.6" style="font-family:'Liberation Sans',sans-serif;font-size:10.2px" fill="#000" text-anchor="middle" textLength="62.8" lengthAdjust="spacingAndGlyphs" >Clean Image</text>
<text x="966.2" y="58.2" style="font-family:'Liberation Sans',sans-serif;font-size:10.2px" fill="#000" text-anchor="middle" textLength="60.6" lengthAdjust="spacingAndGlyphs" >x, y: 139, 12</text>
<rect x="832.6" y="65.6" width="65.3" height="168.0" fill="#c0c0c0"/>
<rect x="832.6" y="65.6" width="65.3" height="101.1" fill="url(#vg6)"/>
<rect x="832.6" y="71.5" width="65.3" height="5.2" fill="#000" opacity="0.55" filter="url(#blur1)"/>
<rect x="832.6" y="84.1" width="65.3" height="5.2" fill="#000" opacity="0.55" filter="url(#blur1)"/>
<rect x="832.6" y="96.7" width="65.3" height="5.2" fill="#000" opacity="0.55" filter="url(#blur1)"/>
<rect x="832.6" y="109.3" width="65.3" height="5.2" fill="#000" opacity="0.55" filter="url(#blur1)"/>
<rect x="832.6" y="121.9" width="65.3" height="5.2" fill="#000" opacity="0.55" filter="url(#blur1)"/>
<rect x="832.6" y="134.5" width="65.3" height="5.2" fill="#000" opacity="0.55" filter="url(#blur1)"/>
<rect x="833.6" y="65.6" width="4" height="84.4" fill="#000" opacity="0.15" filter="url(#blur1)"/>
<g transform="translate(3,7)"><rect x="829.6" y="58.6" width="65.3" height="101.1" fill="url(#pn15)" opacity="0.38"/></g>
<g transform="translate(10,12)"><rect x="822.6" y="53.6" width="65.3" height="101.1" fill="url(#pn15b)" opacity="0.38"/></g>
<rect x="832.6" y="145.5" width="65.3" height="6.4" fill="#000" opacity="0.75" filter="url(#blur1)"/>
<rect x="831.3" y="64.3" width="67.9" height="170.6" fill="none" stroke="#0000ff" stroke-width="2.6"/>
<rect x="933.6" y="65.6" width="65.0" height="168.0" fill="#959595"/>
<rect x="933.6" y="65.6" width="65.0" height="90.8" fill="#a8a8a8"/>
<g transform="translate(11,2)"><rect x="922.6" y="63.6" width="65.0" height="90.8" fill="url(#pn15)" opacity="0.60"/></g>
<g transform="translate(18,7)"><rect x="915.6" y="58.6" width="65.0" height="90.8" fill="url(#pn15b)" opacity="0.60"/></g>
<rect x="933.6" y="145" width="65.0" height="8.5" fill="#000" opacity="0.55" filter="url(#blur1)"/>
<ellipse cx="963.6" cy="149.5" rx="22" ry="3.2" fill="#000" opacity="0.6" filter="url(#blur1)"/>
<rect x="932.3" y="64.3" width="67.6" height="170.6" fill="none" stroke="#0000ff" stroke-width="2.6"/>
<rect x="1047.9" y="60.3" width="251.4" height="150.8" fill="#fff" stroke="#000" stroke-width="0.8"/>
<line x1="1044.4" y1="204.3" x2="1047.9" y2="204.3" stroke="#000" stroke-width="0.8"/>
<text x="1042.8" y="207.6" style="font-family:'Liberation Sans',sans-serif;font-size:9.4px" fill="#000" text-anchor="end" textLength="5.9" lengthAdjust="spacingAndGlyphs" >0</text>
<line x1="1044.4" y1="185.4" x2="1047.9" y2="185.4" stroke="#000" stroke-width="0.8"/>
<text x="1042.8" y="188.7" style="font-family:'Liberation Sans',sans-serif;font-size:9.4px" fill="#000" text-anchor="end" textLength="5.9" lengthAdjust="spacingAndGlyphs" >5</text>
<line x1="1044.4" y1="166.4" x2="1047.9" y2="166.4" stroke="#000" stroke-width="0.8"/>
<text x="1042.8" y="169.7" style="font-family:'Liberation Sans',sans-serif;font-size:9.4px" fill="#000" text-anchor="end" textLength="11.2" lengthAdjust="spacingAndGlyphs" >10</text>
<line x1="1044.4" y1="147.5" x2="1047.9" y2="147.5" stroke="#000" stroke-width="0.8"/>
<text x="1042.8" y="150.8" style="font-family:'Liberation Sans',sans-serif;font-size:9.4px" fill="#000" text-anchor="end" textLength="11.2" lengthAdjust="spacingAndGlyphs" >15</text>
<line x1="1044.4" y1="128.5" x2="1047.9" y2="128.5" stroke="#000" stroke-width="0.8"/>
<text x="1042.8" y="131.8" style="font-family:'Liberation Sans',sans-serif;font-size:9.4px" fill="#000" text-anchor="end" textLength="11.2" lengthAdjust="spacingAndGlyphs" >20</text>
<line x1="1044.4" y1="109.6" x2="1047.9" y2="109.6" stroke="#000" stroke-width="0.8"/>
<text x="1042.8" y="112.9" style="font-family:'Liberation Sans',sans-serif;font-size:9.4px" fill="#000" text-anchor="end" textLength="11.2" lengthAdjust="spacingAndGlyphs" >25</text>
<line x1="1044.4" y1="90.6" x2="1047.9" y2="90.6" stroke="#000" stroke-width="0.8"/>
<text x="1042.8" y="93.9" style="font-family:'Liberation Sans',sans-serif;font-size:9.4px" fill="#000" text-anchor="end" textLength="11.2" lengthAdjust="spacingAndGlyphs" >30</text>
<line x1="1044.4" y1="71.7" x2="1047.9" y2="71.7" stroke="#000" stroke-width="0.8"/>
<text x="1042.8" y="75.0" style="font-family:'Liberation Sans',sans-serif;font-size:9.4px" fill="#000" text-anchor="end" textLength="11.2" lengthAdjust="spacingAndGlyphs" >35</text>
<line x1="1086.7" y1="211.1" x2="1086.7" y2="214.6" stroke="#000" stroke-width="0.8"/>
<text x="1086.7" y="224.4" style="font-family:'Liberation Sans',sans-serif;font-size:9.4px" fill="#000" text-anchor="middle" textLength="22.6" lengthAdjust="spacingAndGlyphs" >3740</text>
<line x1="1133.5" y1="211.1" x2="1133.5" y2="214.6" stroke="#000" stroke-width="0.8"/>
<text x="1133.5" y="224.4" style="font-family:'Liberation Sans',sans-serif;font-size:9.4px" fill="#000" text-anchor="middle" textLength="22.6" lengthAdjust="spacingAndGlyphs" >3760</text>
<line x1="1180.2" y1="211.1" x2="1180.2" y2="214.6" stroke="#000" stroke-width="0.8"/>
<text x="1180.2" y="224.4" style="font-family:'Liberation Sans',sans-serif;font-size:9.4px" fill="#000" text-anchor="middle" textLength="22.6" lengthAdjust="spacingAndGlyphs" >3780</text>
<line x1="1227.0" y1="211.1" x2="1227.0" y2="214.6" stroke="#000" stroke-width="0.8"/>
<text x="1227.0" y="224.4" style="font-family:'Liberation Sans',sans-serif;font-size:9.4px" fill="#000" text-anchor="middle" textLength="22.6" lengthAdjust="spacingAndGlyphs" >3800</text>
<line x1="1273.7" y1="211.1" x2="1273.7" y2="214.6" stroke="#000" stroke-width="0.8"/>
<text x="1273.7" y="224.4" style="font-family:'Liberation Sans',sans-serif;font-size:9.4px" fill="#000" text-anchor="middle" textLength="22.6" lengthAdjust="spacingAndGlyphs" >3820</text>
<line x1="1047.9" y1="204.3" x2="1299.3" y2="204.3" stroke="#444" stroke-width="1"/>
<text x="1049.6" y="72.5" style="font-family:'Liberation Sans',sans-serif;font-size:9.2px" fill="#000" text-anchor="start" >e</text>
<text x="1056.0" y="68.0" style="font-family:'Liberation Sans',sans-serif;font-size:6.2px" fill="#000" text-anchor="start" textLength="9.6" lengthAdjust="spacingAndGlyphs" >−17</text>
<text x="1066.6" y="72.5" style="font-family:'Liberation Sans',sans-serif;font-size:9.2px" fill="#000" text-anchor="start" textLength="10.4" lengthAdjust="spacingAndGlyphs" >x2</text>
<text x="1077.0" y="72.5" style="font-family:'Liberation Sans',sans-serif;font-size:9.2px;font-style:italic" fill="#000" text-anchor="start" >Å</text>
<polyline points="1065.7,131.2 1068.0,131.2 1070.3,131.2 1072.7,131.2 1075.0,131.2 1077.4,131.2 1079.7,131.2 1082.0,131.2 1084.4,131.2 1086.7,131.2 1089.0,131.2 1091.4,131.2 1093.7,131.2 1096.0,131.2 1098.4,131.2 1100.7,131.2 1103.1,131.2 1105.4,131.2 1107.7,131.2 1110.1,131.2 1112.4,131.2 1114.8,131.2 1117.1,131.2 1119.4,131.1 1121.8,131.1 1124.1,131.1 1126.4,131.0 1128.8,130.8 1131.1,130.6 1133.5,130.2 1135.8,129.6 1138.1,128.7 1140.5,127.5 1142.8,125.8 1145.1,123.6 1147.5,120.7 1149.8,117.2 1152.2,112.9 1154.5,108.1 1156.8,102.8 1159.2,97.2 1161.5,91.7 1163.8,86.7 1166.2,82.4 1168.5,79.2 1170.9,77.4 1173.2,77.1 1175.5,78.3 1177.9,81.0 1180.2,84.8 1182.5,89.6 1184.9,95.0 1187.2,100.5 1189.5,106.0 1191.9,111.0 1194.2,115.5 1196.6,119.4 1198.9,122.5 1201.2,125.0 1203.6,126.9 1205.9,128.3 1208.2,129.3 1210.6,130.0 1212.9,130.4 1215.3,130.7 1217.6,130.9 1219.9,131.0 1222.3,131.1 1224.6,131.1 1227.0,131.2 1229.3,131.2 1231.6,131.2 1234.0,131.2 1236.3,131.2 1238.6,131.2 1241.0,131.2 1243.3,131.2 1245.7,131.2 1248.0,131.2 1250.3,131.2 1252.7,131.2 1255.0,131.2 1257.3,131.2 1259.7,131.2 1262.0,131.2 1264.4,131.2 1266.7,131.2 1269.0,131.2 1271.4,131.2 1273.7,131.2 1276.0,131.2 1278.4,131.2 1280.7,131.2" fill="none" stroke="#333" stroke-width="1.6"/>
<line x1="1058.7" y1="136.2" x2="1058.7" y2="148.8" stroke="#1f77b4" stroke-width="1.3"/>
<circle cx="1058.7" cy="142.5" r="1.6" fill="#1f77b4"/>
<line x1="1063.3" y1="148.7" x2="1063.3" y2="161.3" stroke="#1f77b4" stroke-width="1.3"/>
<circle cx="1063.3" cy="155.0" r="1.6" fill="#1f77b4"/>
<line x1="1068.0" y1="166.6" x2="1068.0" y2="179.2" stroke="#1f77b4" stroke-width="1.3"/>
<circle cx="1068.0" cy="172.9" r="1.6" fill="#1f77b4"/>
<line x1="1072.7" y1="168.1" x2="1072.7" y2="180.7" stroke="#1f77b4" stroke-width="1.3"/>
<circle cx="1072.7" cy="174.4" r="1.6" fill="#1f77b4"/>
<line x1="1077.4" y1="153.7" x2="1077.4" y2="166.3" stroke="#1f77b4" stroke-width="1.3"/>
<circle cx="1077.4" cy="160.0" r="1.6" fill="#1f77b4"/>
<line x1="1082.0" y1="136.6" x2="1082.0" y2="149.2" stroke="#1f77b4" stroke-width="1.3"/>
<circle cx="1082.0" cy="142.9" r="1.6" fill="#1f77b4"/>
<line x1="1086.7" y1="134.7" x2="1086.7" y2="147.3" stroke="#1f77b4" stroke-width="1.3"/>
<circle cx="1086.7" cy="141.0" r="1.6" fill="#1f77b4"/>
<line x1="1091.4" y1="154.4" x2="1091.4" y2="167.0" stroke="#1f77b4" stroke-width="1.3"/>
<circle cx="1091.4" cy="160.7" r="1.6" fill="#1f77b4"/>
<line x1="1096.0" y1="155.9" x2="1096.0" y2="168.5" stroke="#1f77b4" stroke-width="1.3"/>
<circle cx="1096.0" cy="162.2" r="1.6" fill="#1f77b4"/>
<line x1="1100.7" y1="156.7" x2="1100.7" y2="169.3" stroke="#1f77b4" stroke-width="1.3"/>
<circle cx="1100.7" cy="163.0" r="1.6" fill="#1f77b4"/>
<line x1="1105.4" y1="152.5" x2="1105.4" y2="165.1" stroke="#1f77b4" stroke-width="1.3"/>
<circle cx="1105.4" cy="158.8" r="1.6" fill="#1f77b4"/>
<line x1="1110.1" y1="131.7" x2="1110.1" y2="144.3" stroke="#1f77b4" stroke-width="1.3"/>
<circle cx="1110.1" cy="138.0" r="1.6" fill="#1f77b4"/>
<line x1="1114.8" y1="112.4" x2="1114.8" y2="125.0" stroke="#1f77b4" stroke-width="1.3"/>
<circle cx="1114.8" cy="118.7" r="1.6" fill="#1f77b4"/>
<line x1="1119.4" y1="102.9" x2="1119.4" y2="115.5" stroke="#1f77b4" stroke-width="1.3"/>
<circle cx="1119.4" cy="109.2" r="1.6" fill="#1f77b4"/>
<line x1="1124.1" y1="117.7" x2="1124.1" y2="130.3" stroke="#1f77b4" stroke-width="1.3"/>
<circle cx="1124.1" cy="124.0" r="1.6" fill="#1f77b4"/>
<line x1="1128.8" y1="137.0" x2="1128.8" y2="149.6" stroke="#1f77b4" stroke-width="1.3"/>
<circle cx="1128.8" cy="143.3" r="1.6" fill="#1f77b4"/>
<line x1="1133.5" y1="150.6" x2="1133.5" y2="163.2" stroke="#1f77b4" stroke-width="1.3"/>
<circle cx="1133.5" cy="156.9" r="1.6" fill="#1f77b4"/>
<line x1="1138.1" y1="137.4" x2="1138.1" y2="150.0" stroke="#1f77b4" stroke-width="1.3"/>
<circle cx="1138.1" cy="143.7" r="1.6" fill="#1f77b4"/>
<line x1="1142.8" y1="135.9" x2="1142.8" y2="148.5" stroke="#1f77b4" stroke-width="1.3"/>
<circle cx="1142.8" cy="142.2" r="1.6" fill="#1f77b4"/>
<line x1="1147.5" y1="120.7" x2="1147.5" y2="133.3" stroke="#1f77b4" stroke-width="1.3"/>
<circle cx="1147.5" cy="127.0" r="1.6" fill="#1f77b4"/>
<line x1="1152.2" y1="101.0" x2="1152.2" y2="113.6" stroke="#1f77b4" stroke-width="1.3"/>
<circle cx="1152.2" cy="107.3" r="1.6" fill="#1f77b4"/>
<line x1="1156.8" y1="84.7" x2="1156.8" y2="97.3" stroke="#1f77b4" stroke-width="1.3"/>
<circle cx="1156.8" cy="91.0" r="1.6" fill="#1f77b4"/>
<line x1="1161.5" y1="75.3" x2="1161.5" y2="87.9" stroke="#1f77b4" stroke-width="1.3"/>
<circle cx="1161.5" cy="81.6" r="1.6" fill="#1f77b4"/>
<line x1="1166.2" y1="74.9" x2="1166.2" y2="87.5" stroke="#1f77b4" stroke-width="1.3"/>
<circle cx="1166.2" cy="81.2" r="1.6" fill="#1f77b4"/>
<line x1="1170.9" y1="77.9" x2="1170.9" y2="90.5" stroke="#1f77b4" stroke-width="1.3"/>
<circle cx="1170.9" cy="84.2" r="1.6" fill="#1f77b4"/>
<line x1="1175.5" y1="82.1" x2="1175.5" y2="94.7" stroke="#1f77b4" stroke-width="1.3"/>
<circle cx="1175.5" cy="88.4" r="1.6" fill="#1f77b4"/>
<line x1="1180.2" y1="81.3" x2="1180.2" y2="93.9" stroke="#1f77b4" stroke-width="1.3"/>
<circle cx="1180.2" cy="87.6" r="1.6" fill="#1f77b4"/>
<line x1="1184.9" y1="70.3" x2="1184.9" y2="82.9" stroke="#1f77b4" stroke-width="1.3"/>
<circle cx="1184.9" cy="76.6" r="1.6" fill="#1f77b4"/>
<line x1="1189.5" y1="99.1" x2="1189.5" y2="111.7" stroke="#1f77b4" stroke-width="1.3"/>
<circle cx="1189.5" cy="105.4" r="1.6" fill="#1f77b4"/>
<line x1="1194.2" y1="121.5" x2="1194.2" y2="134.1" stroke="#1f77b4" stroke-width="1.3"/>
<circle cx="1194.2" cy="127.8" r="1.6" fill="#1f77b4"/>
<line x1="1198.9" y1="122.6" x2="1198.9" y2="135.2" stroke="#1f77b4" stroke-width="1.3"/>
<circle cx="1198.9" cy="128.9" r="1.6" fill="#1f77b4"/>
<line x1="1203.6" y1="109.3" x2="1203.6" y2="121.9" stroke="#1f77b4" stroke-width="1.3"/>
<circle cx="1203.6" cy="115.6" r="1.6" fill="#1f77b4"/>
<line x1="1208.2" y1="113.9" x2="1208.2" y2="126.5" stroke="#1f77b4" stroke-width="1.3"/>
<circle cx="1208.2" cy="120.2" r="1.6" fill="#1f77b4"/>
<line x1="1212.9" y1="112.4" x2="1212.9" y2="125.0" stroke="#1f77b4" stroke-width="1.3"/>
<circle cx="1212.9" cy="118.7" r="1.6" fill="#1f77b4"/>
<line x1="1217.6" y1="123.0" x2="1217.6" y2="135.6" stroke="#1f77b4" stroke-width="1.3"/>
<circle cx="1217.6" cy="129.3" r="1.6" fill="#1f77b4"/>
<line x1="1222.3" y1="128.7" x2="1222.3" y2="141.3" stroke="#1f77b4" stroke-width="1.3"/>
<circle cx="1222.3" cy="135.0" r="1.6" fill="#1f77b4"/>
<line x1="1227.0" y1="113.9" x2="1227.0" y2="126.5" stroke="#1f77b4" stroke-width="1.3"/>
<circle cx="1227.0" cy="120.2" r="1.6" fill="#1f77b4"/>
<line x1="1231.6" y1="94.6" x2="1231.6" y2="107.2" stroke="#1f77b4" stroke-width="1.3"/>
<circle cx="1231.6" cy="100.9" r="1.6" fill="#1f77b4"/>
<line x1="1236.3" y1="90.4" x2="1236.3" y2="103.0" stroke="#1f77b4" stroke-width="1.3"/>
<circle cx="1236.3" cy="96.7" r="1.6" fill="#1f77b4"/>
<line x1="1241.0" y1="83.2" x2="1241.0" y2="95.8" stroke="#1f77b4" stroke-width="1.3"/>
<circle cx="1241.0" cy="89.5" r="1.6" fill="#1f77b4"/>
<line x1="1245.7" y1="93.4" x2="1245.7" y2="106.0" stroke="#1f77b4" stroke-width="1.3"/>
<circle cx="1245.7" cy="99.7" r="1.6" fill="#1f77b4"/>
<line x1="1250.3" y1="103.7" x2="1250.3" y2="116.3" stroke="#1f77b4" stroke-width="1.3"/>
<circle cx="1250.3" cy="110.0" r="1.6" fill="#1f77b4"/>
<line x1="1255.0" y1="118.8" x2="1255.0" y2="131.4" stroke="#1f77b4" stroke-width="1.3"/>
<circle cx="1255.0" cy="125.1" r="1.6" fill="#1f77b4"/>
<line x1="1259.7" y1="138.5" x2="1259.7" y2="151.1" stroke="#1f77b4" stroke-width="1.3"/>
<circle cx="1259.7" cy="144.8" r="1.6" fill="#1f77b4"/>
<line x1="1264.4" y1="148.4" x2="1264.4" y2="161.0" stroke="#1f77b4" stroke-width="1.3"/>
<circle cx="1264.4" cy="154.7" r="1.6" fill="#1f77b4"/>
<line x1="1269.0" y1="149.5" x2="1269.0" y2="162.1" stroke="#1f77b4" stroke-width="1.3"/>
<circle cx="1269.0" cy="155.8" r="1.6" fill="#1f77b4"/>
<line x1="1273.7" y1="155.9" x2="1273.7" y2="168.5" stroke="#1f77b4" stroke-width="1.3"/>
<circle cx="1273.7" cy="162.2" r="1.6" fill="#1f77b4"/>
<line x1="1278.4" y1="165.8" x2="1278.4" y2="178.4" stroke="#1f77b4" stroke-width="1.3"/>
<circle cx="1278.4" cy="172.1" r="1.6" fill="#1f77b4"/>
<line x1="1283.0" y1="164.7" x2="1283.0" y2="177.3" stroke="#1f77b4" stroke-width="1.3"/>
<circle cx="1283.0" cy="171.0" r="1.6" fill="#1f77b4"/>
<line x1="1287.7" y1="162.8" x2="1287.7" y2="175.4" stroke="#1f77b4" stroke-width="1.3"/>
<circle cx="1287.7" cy="169.1" r="1.6" fill="#1f77b4"/>
<rect x="101.6" y="348.4" width="1197.7" height="84.2" fill="#fff"/>
<rect x="237.1" y="348.4" width="54.1" height="84.2" fill="#bfbf00"/>
<line x1="264.4" y1="348.4" x2="264.4" y2="432.6" stroke="#000" stroke-width="1" stroke-dasharray="1.2 1.8"/>
<line x1="115.8" y1="348.4" x2="115.8" y2="432.6" stroke="#555" stroke-width="1.1" stroke-dasharray="3.7 1.7"/>
<line x1="128.5" y1="348.4" x2="128.5" y2="432.6" stroke="#555" stroke-width="1.1" stroke-dasharray="3.7 1.7"/>
<line x1="142.6" y1="348.4" x2="142.6" y2="432.6" stroke="#555" stroke-width="1.1" stroke-dasharray="3.7 1.7"/>
<line x1="170.0" y1="348.4" x2="170.0" y2="432.6" stroke="#555" stroke-width="1.1" stroke-dasharray="3.7 1.7"/>
<line x1="186.1" y1="348.4" x2="186.1" y2="432.6" stroke="#555" stroke-width="1.1" stroke-dasharray="3.7 1.7"/>
<line x1="355.3" y1="348.4" x2="355.3" y2="432.6" stroke="#555" stroke-width="1.1" stroke-dasharray="3.7 1.7"/>
<line x1="375.3" y1="348.4" x2="375.3" y2="432.6" stroke="#555" stroke-width="1.1" stroke-dasharray="3.7 1.7"/>
<line x1="431.9" y1="348.4" x2="431.9" y2="432.6" stroke="#555" stroke-width="1.1" stroke-dasharray="3.7 1.7"/>
<line x1="447.2" y1="348.4" x2="447.2" y2="432.6" stroke="#555" stroke-width="1.1" stroke-dasharray="3.7 1.7"/>
<line x1="453.0" y1="348.4" x2="453.0" y2="432.6" stroke="#555" stroke-width="1.1" stroke-dasharray="3.7 1.7"/>
<line x1="478.9" y1="348.4" x2="478.9" y2="432.6" stroke="#555" stroke-width="1.1" stroke-dasharray="3.7 1.7"/>
<line x1="490.6" y1="348.4" x2="490.6" y2="432.6" stroke="#555" stroke-width="1.1" stroke-dasharray="3.7 1.7"/>
<line x1="511.9" y1="348.4" x2="511.9" y2="432.6" stroke="#555" stroke-width="1.1" stroke-dasharray="3.7 1.7"/>
<line x1="527.1" y1="348.4" x2="527.1" y2="432.6" stroke="#555" stroke-width="1.1" stroke-dasharray="3.7 1.7"/>
<line x1="554.2" y1="348.4" x2="554.2" y2="432.6" stroke="#555" stroke-width="1.1" stroke-dasharray="3.7 1.7"/>
<line x1="570.6" y1="348.4" x2="570.6" y2="432.6" stroke="#555" stroke-width="1.1" stroke-dasharray="3.7 1.7"/>
<line x1="620.0" y1="348.4" x2="620.0" y2="432.6" stroke="#555" stroke-width="1.1" stroke-dasharray="3.7 1.7"/>
<line x1="624.6" y1="348.4" x2="624.6" y2="432.6" stroke="#555" stroke-width="1.1" stroke-dasharray="3.7 1.7"/>
<line x1="662.5" y1="348.4" x2="662.5" y2="432.6" stroke="#555" stroke-width="1.1" stroke-dasharray="3.7 1.7"/>
<line x1="677.8" y1="348.4" x2="677.8" y2="432.6" stroke="#555" stroke-width="1.1" stroke-dasharray="3.7 1.7"/>
<line x1="695.3" y1="348.4" x2="695.3" y2="432.6" stroke="#555" stroke-width="1.1" stroke-dasharray="3.7 1.7"/>
<line x1="808.3" y1="348.4" x2="808.3" y2="432.6" stroke="#555" stroke-width="1.1" stroke-dasharray="3.7 1.7"/>
<line x1="917.6" y1="348.4" x2="917.6" y2="432.6" stroke="#555" stroke-width="1.1" stroke-dasharray="3.7 1.7"/>
<line x1="935.0" y1="348.4" x2="935.0" y2="432.6" stroke="#555" stroke-width="1.1" stroke-dasharray="3.7 1.7"/>
<line x1="1050.5" y1="348.4" x2="1050.5" y2="432.6" stroke="#555" stroke-width="1.1" stroke-dasharray="3.7 1.7"/>
<line x1="1083.3" y1="348.4" x2="1083.3" y2="432.6" stroke="#555" stroke-width="1.1" stroke-dasharray="3.7 1.7"/>
<line x1="1102.9" y1="348.4" x2="1102.9" y2="432.6" stroke="#555" stroke-width="1.1" stroke-dasharray="3.7 1.7"/>
<line x1="1140.9" y1="348.4" x2="1140.9" y2="432.6" stroke="#555" stroke-width="1.1" stroke-dasharray="3.7 1.7"/>
<line x1="1175.1" y1="348.4" x2="1175.1" y2="432.6" stroke="#555" stroke-width="1.1" stroke-dasharray="3.7 1.7"/>
<line x1="1193.5" y1="348.4" x2="1193.5" y2="432.6" stroke="#555" stroke-width="1.1" stroke-dasharray="3.7 1.7"/>
<line x1="1199.6" y1="348.4" x2="1199.6" y2="432.6" stroke="#555" stroke-width="1.1" stroke-dasharray="3.7 1.7"/>
<line x1="1220.9" y1="348.4" x2="1220.9" y2="432.6" stroke="#555" stroke-width="1.1" stroke-dasharray="3.7 1.7"/>
<rect x="121.9" y="348.4" width="12.4" height="84.2" fill="#a0a0a0" fill-opacity="0.95" stroke="#333" stroke-width="1"/>
<rect x="121.9" y="348.4" width="12.4" height="84.2" fill="url(#hatch1)"/>
<rect x="1252.0" y="348.4" width="6.0" height="84.2" fill="#a0a0a0" fill-opacity="0.95" stroke="#333" stroke-width="1"/>
<rect x="1252.0" y="348.4" width="6.0" height="84.2" fill="url(#hatch2)"/>
<path d="M102.1,412.9C102.7,411.8 104.0,407.1 104.8,407.5C105.7,407.9 105.7,413.2 106.4,415.0C107.2,416.8 107.7,417.4 108.6,416.6C109.4,415.9 110.0,411.8 110.7,411.3C111.5,410.7 111.7,413.2 112.3,413.9C113.0,414.7 113.2,413.2 113.9,415.0C114.6,416.8 115.1,423.5 115.9,423.0C116.6,422.6 117.0,414.3 117.7,412.9C118.4,411.5 118.3,417.8 119.3,416.1C120.3,414.4 121.1,404.7 122.5,404.3C123.9,403.9 125.0,414.9 126.3,413.9C127.5,413.0 128.0,402.3 128.9,399.5C129.9,396.7 130.0,398.0 131.1,400.0C132.1,402.0 133.3,407.1 134.3,409.6C135.3,412.2 135.1,412.3 135.9,412.9C136.6,413.4 136.6,409.2 138.0,412.3C139.4,415.4 141.5,427.6 142.9,428.4C144.3,429.1 144.0,416.2 145.0,416.1C146.0,416.0 146.6,426.1 147.7,427.9C148.8,429.6 149.0,428.0 150.4,424.6C151.8,421.3 153.4,414.0 154.6,411.3C155.9,408.5 155.9,411.6 156.8,410.7C157.6,409.9 157.9,405.9 158.9,407.0C160.0,408.0 161.0,413.4 162.1,416.1C163.3,418.8 163.9,421.0 164.8,420.4C165.8,419.7 166.0,412.4 167.0,412.9C167.9,413.3 168.5,422.9 169.6,422.5C170.8,422.1 171.7,414.3 172.9,410.7C174.0,407.2 174.5,403.5 175.5,404.8C176.6,406.1 176.8,417.7 178.2,417.1C179.6,416.6 180.9,401.3 182.5,402.1C184.1,403.0 184.8,420.1 186.3,421.4C187.8,422.7 188.5,414.4 190.0,408.6C191.5,402.8 192.6,394.0 193.8,392.5C194.9,391.0 194.9,398.8 195.9,401.1C196.9,403.3 197.5,404.3 198.6,403.8C199.6,403.2 200.3,399.0 201.3,398.4C202.2,397.8 202.3,398.4 203.4,400.5C204.5,402.7 205.4,407.3 206.6,409.1C207.8,410.9 208.5,409.3 209.3,409.6C210.0,410.0 209.5,413.0 210.4,410.7C211.2,408.5 212.6,400.3 213.6,398.4C214.5,396.5 214.3,402.0 215.2,401.1C216.0,400.1 216.5,390.0 217.9,393.6C219.3,397.1 220.4,417.7 222.1,418.8C223.9,419.8 224.8,399.0 226.4,398.9C228.0,398.8 228.9,415.5 230.2,418.2C231.5,420.9 231.7,412.5 232.9,412.3C234.0,412.1 234.9,414.1 236.1,417.1C237.3,420.1 237.6,427.5 238.8,427.3C239.9,427.1 240.9,416.9 242.0,416.1C243.0,415.2 243.2,421.6 244.1,423.0C245.0,424.4 245.1,426.6 246.4,423.0C247.7,419.5 249.1,405.7 250.7,405.4C252.3,405.0 253.4,419.2 254.5,421.4C255.5,423.7 255.5,417.7 256.1,416.6C256.6,415.5 256.1,420.4 257.1,416.1C258.2,411.8 260.1,399.3 261.4,395.2C262.7,391.1 262.7,395.3 263.6,395.7C264.4,396.1 265.0,397.6 265.7,397.3C266.5,397.0 266.4,391.3 267.3,394.1C268.3,396.9 269.6,408.6 270.5,411.3C271.5,413.9 271.4,408.0 272.1,407.5C272.9,407.0 273.3,407.4 274.3,408.6C275.3,409.8 275.6,415.4 277.0,413.4C278.4,411.4 279.9,399.8 281.3,398.4C282.6,397.0 282.9,402.5 283.9,406.4C285.0,410.4 285.1,414.3 286.6,418.2C288.1,422.2 289.9,425.0 291.4,426.3C292.9,427.5 293.1,424.8 294.1,424.6C295.1,424.5 295.1,426.1 296.3,425.7C297.4,425.3 298.3,425.9 300.0,422.5C301.7,419.1 303.3,410.4 304.8,408.6C306.3,406.8 306.5,412.3 307.5,413.4C308.5,414.5 308.7,412.6 309.6,413.9C310.6,415.2 311.4,419.6 312.3,419.8C313.3,420.0 313.5,416.4 314.5,415.0C315.4,413.6 316.2,412.5 317.1,412.9C318.1,413.2 318.4,416.5 319.3,416.6C320.1,416.7 320.6,413.9 321.4,413.4C322.3,412.9 322.9,413.4 323.6,413.9C324.2,414.5 324.2,416.2 324.6,416.1C325.1,416.0 325.3,413.4 325.7,413.4C326.1,413.4 326.0,416.1 326.8,416.1C327.5,416.1 328.5,416.2 329.5,413.4C330.4,410.6 330.6,402.8 331.6,402.1C332.6,401.5 333.3,408.4 334.3,410.2C335.3,412.0 335.4,411.1 336.4,411.3C337.5,411.4 338.4,414.1 339.6,410.7C340.9,407.3 341.5,395.0 342.9,394.1C344.3,393.3 345.0,402.7 346.6,406.4C348.2,410.2 349.5,408.8 350.9,412.9C352.3,416.9 352.6,423.7 353.6,426.8C354.5,429.9 354.1,431.3 355.7,428.4C357.3,425.5 360.3,415.1 361.6,412.3C362.9,409.5 361.5,416.7 362.1,414.5C362.8,412.2 363.6,403.5 364.8,401.1C366.0,398.6 366.9,400.2 368.0,402.1C369.2,404.1 369.8,407.4 370.7,410.7C371.7,414.0 371.9,415.5 372.9,418.8C373.8,422.0 374.5,426.9 375.5,426.8C376.6,426.7 377.0,424.1 378.2,418.2C379.4,412.3 380.0,402.3 381.4,397.3C382.9,392.3 384.3,393.6 385.4,393.2C386.5,392.8 386.2,396.4 387.0,395.4C387.7,394.3 388.4,389.1 389.1,387.9C389.9,386.6 390.0,387.6 390.7,388.9C391.5,390.2 391.8,395.1 392.9,394.3C393.9,393.4 395.0,385.4 396.1,384.6C397.1,383.9 397.1,391.6 398.2,390.5C399.3,389.5 400.4,380.6 401.4,379.3C402.5,378.0 402.8,383.7 403.6,384.1C404.3,384.5 404.4,381.9 405.2,381.4C405.9,381.0 406.7,381.4 407.3,382.0C408.0,382.5 407.8,385.0 408.4,384.1C409.0,383.3 409.6,375.3 410.5,377.7C411.5,380.0 411.9,395.4 413.2,395.9C414.5,396.4 415.4,380.7 417.0,380.4C418.6,380.0 419.6,395.0 421.3,394.3C422.9,393.5 423.7,378.3 425.0,376.6C426.3,374.9 426.3,381.6 427.7,385.7C429.1,389.8 430.7,396.9 432.0,397.0C433.3,397.1 433.5,387.5 434.1,386.3C434.8,385.0 434.4,390.2 435.2,390.5C435.9,390.9 436.7,388.7 437.9,387.9C439.0,387.0 439.9,389.3 441.1,386.3C442.3,383.3 442.8,374.6 443.8,372.9C444.7,371.1 445.1,378.4 445.9,377.7C446.6,376.9 446.8,370.0 447.5,369.1C448.3,368.3 448.6,369.1 449.6,373.4C450.7,377.7 451.6,388.7 452.9,390.5C454.1,392.4 454.1,385.5 456.1,382.5C458.0,379.5 460.8,376.1 462.5,375.5C464.2,375.0 463.8,379.3 464.6,379.8C465.5,380.4 465.9,378.9 466.8,378.2C467.6,377.6 467.9,373.8 468.9,376.6C470.0,379.4 470.4,391.6 471.9,392.1C473.4,392.7 475.0,379.1 476.4,379.3C477.9,379.5 477.8,393.0 479.1,393.2C480.4,393.4 481.7,382.0 482.9,380.4C484.0,378.8 483.5,386.8 485.0,385.2C486.5,383.6 488.6,373.3 490.4,372.3C492.1,371.4 492.3,377.4 493.6,380.4C494.9,383.4 495.2,387.5 496.8,387.3C498.4,387.1 500.0,379.1 501.6,379.3C503.2,379.5 503.4,388.4 504.8,388.4C506.2,388.4 507.2,378.1 508.6,379.3C510.0,380.5 510.2,395.6 511.8,394.3C513.4,393.0 515.1,375.9 516.6,372.9C518.1,369.9 518.2,377.3 519.3,379.3C520.4,381.3 521.1,383.3 522.0,383.0C522.8,382.8 522.5,373.6 523.6,378.2C524.6,382.8 525.8,405.1 527.3,406.1C528.8,407.0 529.9,387.0 531.3,383.0C532.6,379.1 532.5,388.2 533.9,386.3C535.3,384.3 536.6,373.0 538.2,373.4C539.8,373.8 540.4,386.6 542.0,388.4C543.6,390.2 545.0,383.6 546.3,382.5C547.5,381.4 547.5,383.6 548.4,383.0C549.3,382.5 549.4,377.0 550.5,379.8C551.7,382.6 552.8,396.6 554.3,397.0C555.8,397.3 556.6,384.2 558.0,381.4C559.4,378.6 560.1,381.1 561.3,383.0C562.4,385.0 563.0,390.1 563.9,391.1C564.9,392.0 565.2,388.5 566.1,387.9C566.9,387.2 567.1,385.3 568.2,387.9C569.3,390.4 570.0,397.8 571.4,400.7C572.8,403.6 573.9,403.2 575.2,402.3C576.5,401.5 576.5,403.5 577.9,396.4C579.3,389.4 580.5,368.0 582.1,367.0C583.8,365.9 584.3,390.5 585.9,391.1C587.5,391.6 588.5,371.6 590.2,369.6C591.9,367.7 592.8,380.7 594.5,381.4C596.2,382.2 597.1,374.1 598.8,373.4C600.4,372.6 600.9,378.5 602.5,377.7C604.1,376.8 605.5,370.6 606.8,369.1C608.1,367.6 608.0,370.1 608.9,370.2C609.9,370.3 610.5,367.9 611.6,369.6C612.7,371.4 613.2,376.5 614.3,378.8C615.4,381.0 615.8,378.0 617.0,380.9C618.1,383.8 618.0,395.4 620.2,393.2C622.3,391.1 625.1,371.9 627.7,370.2C630.3,368.5 631.2,384.1 633.0,384.6C634.9,385.2 635.7,374.7 636.8,372.9C637.9,371.0 637.4,377.0 638.4,375.5C639.4,374.0 640.4,366.8 641.6,365.4C642.8,364.0 643.2,367.7 644.3,368.6C645.4,369.4 645.7,367.9 647.0,369.6C648.3,371.4 649.4,378.1 650.7,377.1C652.0,376.2 652.4,367.1 653.4,364.8C654.4,362.6 654.5,366.9 655.5,365.9C656.6,364.9 657.4,357.1 658.8,360.0C660.1,362.9 661.4,377.5 662.5,380.4C663.6,383.3 663.3,375.3 664.1,374.5C664.9,373.7 665.5,379.0 666.4,376.4C667.3,373.8 667.7,363.0 668.6,361.4C669.4,359.8 669.5,370.0 670.7,368.4C671.9,366.8 673.1,353.9 674.5,353.4C675.9,352.9 676.6,364.6 677.7,365.7C678.8,366.8 679.1,359.7 679.8,358.8C680.6,357.8 680.8,360.5 681.4,360.9C682.1,361.3 682.2,360.3 683.0,360.9C683.9,361.5 684.4,365.9 685.7,364.1C687.0,362.3 688.2,354.0 689.5,351.8C690.8,349.5 691.2,352.5 692.1,352.9C693.1,353.2 693.6,354.1 694.3,353.4C694.9,352.6 694.9,347.5 695.4,349.1C695.8,350.7 695.6,360.6 696.4,361.4C697.3,362.3 698.0,351.9 699.6,353.4C701.3,354.9 703.2,367.2 704.5,368.9C705.8,370.6 704.3,364.0 706.1,362.0C707.9,359.9 711.2,358.8 713.6,358.8C715.9,358.8 716.5,361.8 717.9,362.0C719.3,362.2 719.5,361.6 720.5,359.8C721.6,358.0 722.0,353.5 723.2,352.9C724.4,352.2 725.4,356.1 726.4,356.6C727.5,357.1 727.7,355.3 728.6,355.5C729.4,355.8 729.6,358.3 730.7,357.7C731.8,357.0 733.0,352.0 733.9,352.3C734.9,352.6 734.7,358.2 735.5,359.3C736.4,360.4 737.1,358.3 738.2,357.7C739.3,357.0 739.8,357.1 740.9,356.1C742.0,355.0 742.6,352.2 743.6,352.3C744.5,352.4 745.0,355.9 745.7,356.6C746.5,357.4 746.4,355.0 747.3,356.1C748.3,357.1 749.4,362.4 750.5,362.0C751.7,361.5 752.3,355.2 753.2,353.9C754.2,352.6 754.5,355.9 755.4,355.5C756.2,355.2 756.6,352.1 757.5,352.3C758.4,352.5 758.8,356.7 759.6,356.6C760.5,356.5 760.8,352.3 761.8,351.8C762.8,351.3 763.6,353.7 764.5,353.9C765.3,354.1 765.3,352.6 766.1,352.9C766.8,353.1 767.1,354.1 768.2,355.0C769.3,355.9 770.5,357.0 771.4,357.1C772.4,357.3 772.3,354.3 773.0,355.5C773.8,356.8 773.6,364.3 775.2,363.6C776.8,362.8 778.9,352.1 781.1,351.8C783.2,351.5 783.9,361.5 785.9,362.0C787.9,362.4 789.5,354.7 791.3,353.9C793.0,353.2 793.2,358.1 794.5,358.2C795.8,358.3 796.5,354.0 797.7,354.5C798.9,354.9 799.0,360.1 800.4,360.4C801.8,360.6 803.0,354.1 804.6,355.5C806.2,356.9 806.7,367.3 808.4,367.3C810.0,367.3 811.5,357.4 812.9,355.5C814.2,353.7 813.7,359.5 815.0,358.2C816.3,356.9 817.8,349.9 819.3,349.1C820.8,348.4 821.2,352.2 822.5,354.5C823.8,356.7 824.5,359.9 825.7,360.4C826.9,360.8 826.7,358.1 828.4,356.6C830.1,355.1 832.9,354.4 834.3,352.9C835.7,351.4 834.5,348.1 835.4,349.1C836.2,350.1 837.6,356.6 838.6,357.7C839.5,358.8 839.2,354.1 840.2,354.5C841.1,354.8 842.0,358.4 843.4,359.3C844.8,360.1 846.1,359.3 847.1,358.8C848.2,358.2 847.6,356.2 848.8,356.6C849.9,357.0 851.4,359.3 853.0,360.9C854.6,362.5 855.2,366.4 856.8,364.6C858.4,362.9 859.8,354.7 861.1,352.3C862.4,350.0 861.8,351.7 863.2,352.9C864.6,354.0 866.5,358.2 868.0,358.2C869.5,358.2 870.0,353.3 870.7,352.9C871.5,352.4 870.9,356.3 871.8,356.1C872.6,355.9 873.7,351.9 875.0,351.8C876.3,351.7 876.9,353.8 878.2,355.5C879.5,357.3 880.1,359.7 881.4,360.4C882.7,361.0 883.7,359.7 884.6,358.8C885.6,357.8 885.3,354.9 886.3,355.5C887.2,356.2 888.3,362.0 889.5,362.0C890.6,362.0 891.1,357.4 892.1,355.5C893.2,353.7 893.8,352.6 894.8,352.9C895.9,353.1 896.4,353.1 897.5,356.6C898.6,360.1 898.9,369.9 900.2,370.5C901.5,371.2 902.4,360.9 903.9,359.8C905.4,358.8 906.0,365.6 907.7,365.2C909.4,364.8 910.6,356.4 912.5,357.7C914.4,359.0 915.4,373.3 917.3,371.6C919.3,369.9 920.8,352.6 922.1,349.1C923.5,345.6 923.5,353.2 924.3,353.9C925.0,354.7 925.1,351.4 925.9,352.9C926.6,354.4 927.2,360.3 928.0,361.4C928.9,362.6 929.4,359.0 930.2,358.8C930.9,358.5 930.8,357.4 931.8,360.4C932.8,363.4 933.6,374.8 935.0,373.8C936.4,372.7 937.5,358.2 938.8,355.0C940.0,351.8 940.1,356.2 941.4,357.7C942.8,359.2 943.7,362.9 945.4,362.5C947.0,362.1 948.1,357.6 949.6,355.5C951.1,353.5 951.8,352.5 952.9,352.3C953.9,352.1 954.1,351.9 955.0,354.5C955.9,357.0 956.0,365.2 957.1,365.2C958.3,365.2 959.8,355.9 960.9,354.5C962.0,353.1 961.3,358.6 962.5,358.2C963.7,357.8 964.8,350.8 966.8,352.3C968.8,353.8 971.0,365.0 972.7,365.7C974.4,366.5 974.2,356.9 975.4,356.1C976.5,355.2 977.0,359.8 978.6,361.4C980.2,363.0 981.9,362.7 983.4,364.1C984.9,365.5 985.1,368.2 986.1,368.4C987.0,368.6 987.4,364.6 988.2,365.2C989.1,365.7 989.3,371.6 990.4,371.1C991.4,370.5 992.5,363.7 993.6,362.5C994.6,361.3 994.8,364.3 995.7,365.2C996.7,366.0 997.3,368.6 998.4,366.8C999.5,365.0 999.6,354.9 1001.1,356.1C1002.6,357.3 1004.3,372.3 1005.9,372.7C1007.5,373.1 1008.0,359.3 1009.1,358.2C1010.2,357.1 1010.2,367.3 1011.3,367.3C1012.3,367.3 1013.2,359.8 1014.5,358.2C1015.8,356.6 1016.4,357.7 1017.7,359.3C1019.0,360.9 1019.7,365.1 1020.9,366.3C1022.1,367.4 1022.5,365.6 1023.6,365.2C1024.6,364.8 1025.1,362.9 1026.3,364.1C1027.4,365.3 1028.1,371.3 1029.5,371.1C1030.9,370.9 1031.6,364.8 1033.2,363.0C1034.8,361.3 1036.0,361.0 1037.5,362.5C1039.0,364.0 1039.6,369.8 1040.7,370.5C1041.8,371.3 1042.1,366.7 1042.9,366.3C1043.6,365.8 1043.6,368.5 1044.5,368.4C1045.3,368.3 1046.0,367.9 1047.1,365.7C1048.3,363.6 1049.3,357.7 1050.4,357.7C1051.4,357.7 1051.3,362.6 1052.5,365.7C1053.7,368.8 1055.1,373.0 1056.3,373.2C1057.4,373.4 1057.5,368.0 1058.4,366.8C1059.3,365.6 1059.8,367.1 1060.5,367.3C1061.3,367.5 1061.4,367.6 1062.1,367.9C1062.9,368.1 1063.4,367.4 1064.3,368.4C1065.1,369.4 1065.4,372.4 1066.4,372.7C1067.5,373.0 1068.6,370.3 1069.6,370.0C1070.7,369.7 1070.7,373.1 1071.8,371.1C1072.9,369.0 1073.7,359.6 1075.0,359.8C1076.3,360.0 1076.7,364.4 1078.2,372.1C1079.7,379.9 1080.8,397.4 1082.5,398.4C1084.3,399.4 1085.5,377.7 1087.0,377.0C1088.4,376.2 1088.4,396.0 1089.6,394.6C1090.9,393.3 1092.2,374.7 1093.4,370.0C1094.6,365.3 1094.3,373.1 1095.5,371.1C1096.8,369.0 1098.2,357.8 1099.8,359.8C1101.4,361.9 1102.2,380.3 1103.6,381.3C1105.0,382.2 1105.3,369.6 1106.8,364.6C1108.3,359.7 1109.4,355.9 1111.1,356.6C1112.8,357.4 1113.9,367.8 1115.4,368.4C1116.9,369.0 1117.1,363.0 1118.6,359.8C1120.1,356.6 1121.4,353.1 1122.9,352.3C1124.4,351.6 1124.7,354.9 1126.1,356.1C1127.5,357.3 1128.1,359.2 1129.8,358.2C1131.5,357.3 1133.3,350.0 1134.6,351.3C1136.0,352.5 1135.6,359.6 1136.8,364.6C1138.0,369.7 1139.0,377.7 1140.5,376.4C1142.0,375.1 1142.7,361.3 1144.3,358.2C1145.9,355.1 1146.9,362.8 1148.6,360.9C1150.3,359.0 1151.8,350.9 1152.9,348.6C1153.9,346.2 1153.2,346.6 1153.9,349.1C1154.7,351.6 1155.4,359.3 1156.6,360.9C1157.8,362.5 1158.2,359.1 1159.8,357.1C1161.4,355.2 1163.0,351.8 1164.6,351.3C1166.3,350.7 1166.5,353.5 1167.9,354.5C1169.3,355.4 1170.2,352.6 1171.6,356.1C1173.0,359.5 1173.3,372.5 1174.8,371.6C1176.3,370.8 1177.6,352.4 1179.1,351.8C1180.6,351.1 1180.9,368.7 1182.3,368.4C1183.7,368.1 1185.0,352.3 1186.1,350.2C1187.1,348.0 1186.7,358.0 1187.7,357.7C1188.6,357.4 1190.0,349.9 1190.9,348.6C1191.8,347.3 1191.2,351.3 1192.0,351.3C1192.7,351.3 1193.8,348.5 1194.6,348.6C1195.5,348.7 1195.2,348.4 1196.3,351.8C1197.3,355.2 1198.4,365.9 1200.0,365.7C1201.6,365.5 1203.1,353.2 1204.3,350.7C1205.5,348.3 1205.1,353.5 1205.9,353.4C1206.6,353.3 1207.1,349.8 1208.0,350.2C1209.0,350.6 1209.4,353.3 1210.7,355.5C1212.0,357.8 1213.3,360.7 1214.5,361.4C1215.6,362.2 1215.3,358.1 1216.6,359.3C1217.9,360.5 1219.4,367.3 1220.9,367.3C1222.4,367.3 1222.5,362.3 1224.1,359.3C1225.7,356.3 1227.6,352.5 1228.9,352.3C1230.2,352.2 1229.8,357.7 1230.6,358.6C1231.4,359.4 1231.6,355.7 1232.9,356.7C1234.2,357.7 1235.5,364.9 1237.1,363.7C1238.7,362.5 1239.3,352.0 1240.8,350.7C1242.3,349.4 1243.3,356.3 1244.5,357.2C1245.7,358.0 1245.6,354.1 1246.9,354.9C1248.1,355.6 1249.3,361.2 1250.6,360.9C1251.9,360.6 1252.5,354.1 1253.4,353.5C1254.2,352.8 1254.0,357.5 1254.7,357.6C1255.5,357.7 1256.0,354.6 1257.1,353.9C1258.1,353.3 1258.5,352.8 1259.9,354.4C1261.2,356.0 1262.4,361.6 1264.0,361.8C1265.7,362.0 1266.7,356.4 1268.2,355.3C1269.7,354.2 1270.2,355.5 1271.5,356.2C1272.8,357.0 1273.3,359.1 1274.7,359.0C1276.1,358.9 1277.0,355.4 1278.4,355.8C1279.8,356.2 1280.4,360.5 1281.7,360.9C1283.0,361.3 1283.4,359.5 1284.9,357.6C1286.4,355.8 1287.5,350.7 1289.1,351.6C1290.7,352.5 1291.5,361.6 1292.8,362.3C1294.1,362.9 1294.3,355.8 1295.6,354.9C1296.9,353.9 1298.6,357.1 1299.3,357.6" fill="none" stroke="#0000ff" stroke-width="1.25" stroke-linejoin="round"/>
<rect x="101.6" y="348.4" width="1197.7" height="84.2" fill="none" stroke="#333" stroke-width="1"/>
<line x1="101.6" y1="432.6" x2="101.6" y2="436.1" stroke="#333" stroke-width="1"/>
<text x="101.6" y="447.6" style="font-family:'Liberation Sans',sans-serif;font-size:10.0px" fill="#000" text-anchor="middle" textLength="24.0" lengthAdjust="spacingAndGlyphs" >3500</text>
<line x1="160.4" y1="432.6" x2="160.4" y2="436.1" stroke="#333" stroke-width="1"/>
<text x="160.4" y="447.6" style="font-family:'Liberation Sans',sans-serif;font-size:10.0px" fill="#000" text-anchor="middle" textLength="24.0" lengthAdjust="spacingAndGlyphs" >3600</text>
<line x1="219.2" y1="432.6" x2="219.2" y2="436.1" stroke="#333" stroke-width="1"/>
<text x="219.2" y="447.6" style="font-family:'Liberation Sans',sans-serif;font-size:10.0px" fill="#000" text-anchor="middle" textLength="24.0" lengthAdjust="spacingAndGlyphs" >3700</text>
<line x1="278.1" y1="432.6" x2="278.1" y2="436.1" stroke="#333" stroke-width="1"/>
<text x="278.1" y="447.6" style="font-family:'Liberation Sans',sans-serif;font-size:10.0px" fill="#000" text-anchor="middle" textLength="24.0" lengthAdjust="spacingAndGlyphs" >3800</text>
<line x1="336.9" y1="432.6" x2="336.9" y2="436.1" stroke="#333" stroke-width="1"/>
<text x="336.9" y="447.6" style="font-family:'Liberation Sans',sans-serif;font-size:10.0px" fill="#000" text-anchor="middle" textLength="24.0" lengthAdjust="spacingAndGlyphs" >3900</text>
<line x1="395.7" y1="432.6" x2="395.7" y2="436.1" stroke="#333" stroke-width="1"/>
<text x="395.7" y="447.6" style="font-family:'Liberation Sans',sans-serif;font-size:10.0px" fill="#000" text-anchor="middle" textLength="24.0" lengthAdjust="spacingAndGlyphs" >4000</text>
<line x1="454.6" y1="432.6" x2="454.6" y2="436.1" stroke="#333" stroke-width="1"/>
<text x="454.6" y="447.6" style="font-family:'Liberation Sans',sans-serif;font-size:10.0px" fill="#000" text-anchor="middle" textLength="24.0" lengthAdjust="spacingAndGlyphs" >4100</text>
<line x1="513.4" y1="432.6" x2="513.4" y2="436.1" stroke="#333" stroke-width="1"/>
<text x="513.4" y="447.6" style="font-family:'Liberation Sans',sans-serif;font-size:10.0px" fill="#000" text-anchor="middle" textLength="24.0" lengthAdjust="spacingAndGlyphs" >4200</text>
<line x1="572.2" y1="432.6" x2="572.2" y2="436.1" stroke="#333" stroke-width="1"/>
<text x="572.2" y="447.6" style="font-family:'Liberation Sans',sans-serif;font-size:10.0px" fill="#000" text-anchor="middle" textLength="24.0" lengthAdjust="spacingAndGlyphs" >4300</text>
<line x1="631.0" y1="432.6" x2="631.0" y2="436.1" stroke="#333" stroke-width="1"/>
<text x="631.0" y="447.6" style="font-family:'Liberation Sans',sans-serif;font-size:10.0px" fill="#000" text-anchor="middle" textLength="24.0" lengthAdjust="spacingAndGlyphs" >4400</text>
<line x1="689.9" y1="432.6" x2="689.9" y2="436.1" stroke="#333" stroke-width="1"/>
<text x="689.9" y="447.6" style="font-family:'Liberation Sans',sans-serif;font-size:10.0px" fill="#000" text-anchor="middle" textLength="24.0" lengthAdjust="spacingAndGlyphs" >4500</text>
<line x1="748.7" y1="432.6" x2="748.7" y2="436.1" stroke="#333" stroke-width="1"/>
<text x="748.7" y="447.6" style="font-family:'Liberation Sans',sans-serif;font-size:10.0px" fill="#000" text-anchor="middle" textLength="24.0" lengthAdjust="spacingAndGlyphs" >4600</text>
<line x1="807.5" y1="432.6" x2="807.5" y2="436.1" stroke="#333" stroke-width="1"/>
<text x="807.5" y="447.6" style="font-family:'Liberation Sans',sans-serif;font-size:10.0px" fill="#000" text-anchor="middle" textLength="24.0" lengthAdjust="spacingAndGlyphs" >4700</text>
<line x1="866.3" y1="432.6" x2="866.3" y2="436.1" stroke="#333" stroke-width="1"/>
<text x="866.3" y="447.6" style="font-family:'Liberation Sans',sans-serif;font-size:10.0px" fill="#000" text-anchor="middle" textLength="24.0" lengthAdjust="spacingAndGlyphs" >4800</text>
<line x1="925.2" y1="432.6" x2="925.2" y2="436.1" stroke="#333" stroke-width="1"/>
<text x="925.2" y="447.6" style="font-family:'Liberation Sans',sans-serif;font-size:10.0px" fill="#000" text-anchor="middle" textLength="24.0" lengthAdjust="spacingAndGlyphs" >4900</text>
<line x1="984.0" y1="432.6" x2="984.0" y2="436.1" stroke="#333" stroke-width="1"/>
<text x="984.0" y="447.6" style="font-family:'Liberation Sans',sans-serif;font-size:10.0px" fill="#000" text-anchor="middle" textLength="24.0" lengthAdjust="spacingAndGlyphs" >5000</text>
<line x1="1042.8" y1="432.6" x2="1042.8" y2="436.1" stroke="#333" stroke-width="1"/>
<text x="1042.8" y="447.6" style="font-family:'Liberation Sans',sans-serif;font-size:10.0px" fill="#000" text-anchor="middle" textLength="24.0" lengthAdjust="spacingAndGlyphs" >5100</text>
<line x1="1101.6" y1="432.6" x2="1101.6" y2="436.1" stroke="#333" stroke-width="1"/>
<text x="1101.6" y="447.6" style="font-family:'Liberation Sans',sans-serif;font-size:10.0px" fill="#000" text-anchor="middle" textLength="24.0" lengthAdjust="spacingAndGlyphs" >5200</text>
<line x1="1160.5" y1="432.6" x2="1160.5" y2="436.1" stroke="#333" stroke-width="1"/>
<text x="1160.5" y="447.6" style="font-family:'Liberation Sans',sans-serif;font-size:10.0px" fill="#000" text-anchor="middle" textLength="24.0" lengthAdjust="spacingAndGlyphs" >5300</text>
<line x1="1219.3" y1="432.6" x2="1219.3" y2="436.1" stroke="#333" stroke-width="1"/>
<text x="1219.3" y="447.6" style="font-family:'Liberation Sans',sans-serif;font-size:10.0px" fill="#000" text-anchor="middle" textLength="24.0" lengthAdjust="spacingAndGlyphs" >5400</text>
<line x1="1278.1" y1="432.6" x2="1278.1" y2="436.1" stroke="#333" stroke-width="1"/>
<text x="1278.1" y="447.6" style="font-family:'Liberation Sans',sans-serif;font-size:10.0px" fill="#000" text-anchor="middle" textLength="24.0" lengthAdjust="spacingAndGlyphs" >5500</text>
<line x1="98.1" y1="411.8" x2="101.6" y2="411.8" stroke="#333" stroke-width="1"/>
<text x="94.6" y="415.4" style="font-family:'Liberation Sans',sans-serif;font-size:10.0px" fill="#000" text-anchor="end" textLength="12.0" lengthAdjust="spacingAndGlyphs" >20</text>
<line x1="98.1" y1="385.2" x2="101.6" y2="385.2" stroke="#333" stroke-width="1"/>
<text x="94.6" y="388.8" style="font-family:'Liberation Sans',sans-serif;font-size:10.0px" fill="#000" text-anchor="end" textLength="12.0" lengthAdjust="spacingAndGlyphs" >40</text>
<line x1="98.1" y1="358.7" x2="101.6" y2="358.7" stroke="#333" stroke-width="1"/>
<text x="94.6" y="362.3" style="font-family:'Liberation Sans',sans-serif;font-size:10.0px" fill="#000" text-anchor="end" textLength="12.0" lengthAdjust="spacingAndGlyphs" >60</text>
<text x="100.9" y="346.1" style="font-family:'Liberation Sans',sans-serif;font-size:10.6px" fill="#000" text-anchor="start" >e</text>
<text x="107.4" y="342.6" style="font-family:'Liberation Sans',sans-serif;font-size:7.2px" fill="#000" text-anchor="start" textLength="13.4" lengthAdjust="spacingAndGlyphs" >−17</text>
<text x="121.4" y="346.1" style="font-family:'Liberation Sans',sans-serif;font-size:10.6px" fill="#000" text-anchor="start" textLength="12.4" lengthAdjust="spacingAndGlyphs" >x2</text>
<text x="132.0" y="346.1" style="font-family:'Liberation Sans',sans-serif;font-size:10.6px;font-style:italic" fill="#000" text-anchor="start" >Å</text>
<text transform="translate(138.1,320.2) rotate(90)" style="font-family:'Liberation Sans',sans-serif;font-size:10px" fill="#ffa500" textLength="15.8" lengthAdjust="spacingAndGlyphs">CIV</text>
<path d="M136.8,348.3 V346.3 Q136.8,345.5 137.8,345.5 H140.6 Q141.5,345.5 141.5,344.1 Q141.5,345.5 142.4,345.5 H145.2 Q146.2,345.5 146.2,346.3 V348.3" fill="none" stroke="#ffa500" stroke-width="1.1"/>
<text transform="translate(306.6,320.0) rotate(90)" style="font-family:'Liberation Sans',sans-serif;font-size:10px" fill="#ff0000" textLength="13.0" lengthAdjust="spacingAndGlyphs">NV</text>
<path d="M305.3,348.3 V346.3 Q305.3,345.5 306.3,345.5 H309.1 Q310.0,345.5 310.0,344.1 Q310.0,345.5 310.9,345.5 H313.7 Q314.7,345.5 314.7,346.3 V348.3" fill="none" stroke="#ff0000" stroke-width="1.1"/>
<text transform="translate(391.6,321.0) rotate(90)" style="font-family:'Liberation Sans',sans-serif;font-size:10px" fill="#8a2be2" textLength="18.0" lengthAdjust="spacingAndGlyphs">HeII</text>
<path d="M390.3,348.3 V346.3 Q390.3,345.5 391.3,345.5 H394.1 Q395.0,345.5 395.0,344.1 Q395.0,345.5 395.9,345.5 H398.7 Q399.7,345.5 399.7,346.3 V348.3" fill="none" stroke="#8a2be2" stroke-width="1.1"/>
<text transform="translate(593.8,321.4) rotate(90)" style="font-family:'Liberation Sans',sans-serif;font-size:10px" fill="#ff0000" textLength="18.0" lengthAdjust="spacingAndGlyphs">SiIV</text>
<path d="M592.5,348.3 V346.3 Q592.5,345.5 593.5,345.5 H596.3 Q597.2,345.5 597.2,344.1 Q597.2,345.5 598.1,345.5 H600.9 Q601.9,345.5 601.9,346.3 V348.3" fill="none" stroke="#ff0000" stroke-width="1.1"/>
<text transform="translate(623.9,324.9) rotate(90)" style="font-family:'Liberation Sans',sans-serif;font-size:10px" fill="#ffa500" textLength="14.5" lengthAdjust="spacingAndGlyphs">CIII</text>
<path d="M622.7,348.3 V346.3 Q622.7,345.5 623.7,345.5 H626.5 Q627.4,345.5 627.4,344.1 Q627.4,345.5 628.3,345.5 H631.1 Q632.1,345.5 632.1,346.3 V348.3" fill="none" stroke="#ffa500" stroke-width="1.1"/>
<text transform="translate(744.2,324.5) rotate(90)" style="font-family:'Liberation Sans',sans-serif;font-size:10px" fill="#800080" textLength="11.5" lengthAdjust="spacingAndGlyphs">CII</text>
<path d="M743.0,348.3 V346.3 Q743.0,345.5 744.0,345.5 H746.8 Q747.7,345.5 747.7,344.1 Q747.7,345.5 748.6,345.5 H751.4 Q752.4,345.5 752.4,346.3 V348.3" fill="none" stroke="#800080" stroke-width="1.1"/>
<text transform="translate(775.9,324.5) rotate(90)" style="font-family:'Liberation Sans',sans-serif;font-size:10px" fill="#8a2be2" textLength="14.9" lengthAdjust="spacingAndGlyphs">CIII</text>
<path d="M774.7,348.3 V346.3 Q774.7,345.5 775.7,345.5 H778.5 Q779.4,345.5 779.4,344.1 Q779.4,345.5 780.3,345.5 H783.1 Q784.1,345.5 784.1,346.3 V348.3" fill="none" stroke="#8a2be2" stroke-width="1.1"/>
<text transform="translate(870.5,320.2) rotate(90)" style="font-family:'Liberation Sans',sans-serif;font-size:10px" fill="#ff0000" textLength="15.8" lengthAdjust="spacingAndGlyphs">CIV</text>
<path d="M869.3,348.3 V346.3 Q869.3,345.5 870.3,345.5 H873.1 Q874.0,345.5 874.0,344.1 Q874.0,345.5 874.9,345.5 H877.7 Q878.7,345.5 878.7,346.3 V348.3" fill="none" stroke="#ff0000" stroke-width="1.1"/>
<text transform="translate(936.0,327.7) rotate(90)" style="font-family:'Liberation Sans',sans-serif;font-size:10px" fill="#008000" textLength="12.8" lengthAdjust="spacingAndGlyphs">Hβ</text>
<path d="M934.8,348.3 V346.3 Q934.8,345.5 935.8,345.5 H938.6 Q939.5,345.5 939.5,344.1 Q939.5,345.5 940.4,345.5 H943.2 Q944.2,345.5 944.2,346.3 V348.3" fill="none" stroke="#008000" stroke-width="1.1"/>
<text transform="translate(994.2,323.2) rotate(90)" style="font-family:'Liberation Sans',sans-serif;font-size:10px" fill="#008000" textLength="16.1" lengthAdjust="spacingAndGlyphs">OIII</text>
<path d="M993.0,348.3 V346.3 Q993.0,345.5 994.0,345.5 H996.8 Q997.7,345.5 997.7,344.1 Q997.7,345.5 998.6,345.5 H1001.4 Q1002.4,345.5 1002.4,346.3 V348.3" fill="none" stroke="#008000" stroke-width="1.1"/>
<text transform="translate(1023.2,323.2) rotate(90)" style="font-family:'Liberation Sans',sans-serif;font-size:10px" fill="#008000" textLength="16.1" lengthAdjust="spacingAndGlyphs">OIII</text>
<path d="M1022.0,348.3 V346.3 Q1022.0,345.5 1023.0,345.5 H1025.8 Q1026.7,345.5 1026.7,344.1 Q1026.7,345.5 1027.6,345.5 H1030.4 Q1031.4,345.5 1031.4,346.3 V348.3" fill="none" stroke="#008000" stroke-width="1.1"/>
<text transform="translate(1037.0,321.0) rotate(90)" style="font-family:'Liberation Sans',sans-serif;font-size:10px" fill="#ff0000" textLength="18.3" lengthAdjust="spacingAndGlyphs">HeII</text>
<path d="M1035.8,348.3 V346.3 Q1035.8,345.5 1036.8,345.5 H1039.6 Q1040.5,345.5 1040.5,344.1 Q1040.5,345.5 1041.4,345.5 H1044.2 Q1045.2,345.5 1045.2,346.3 V348.3" fill="none" stroke="#ff0000" stroke-width="1.1"/>
<text transform="translate(998.5,281.2) rotate(90)" style="font-family:'Liberation Sans',sans-serif;font-size:10px" fill="#ff00ff" textLength="10.5" lengthAdjust="spacingAndGlyphs">OII</text>
<path d="M997.3,305.8 V303.8 Q997.3,303.0 998.3,303.0 H1001.1 Q1002.0,303.0 1002.0,301.6 Q1002.0,303.0 1002.9,303.0 H1005.7 Q1006.7,303.0 1006.7,303.8 V305.8" fill="none" stroke="#ff00ff" stroke-width="1.1"/>
<text transform="translate(1188.1,264.1) rotate(90)" style="font-family:'Liberation Sans',sans-serif;font-size:10px" fill="#ff00ff" textLength="32.8" lengthAdjust="spacingAndGlyphs">(HNeIII</text>
<text transform="translate(1188.1,279.0) rotate(90)" style="font-family:'Liberation Sans',sans-serif;font-size:10px" fill="#ffa500" textLength="17.9" lengthAdjust="spacingAndGlyphs">HeII</text>
<path d="M1186.9,305.8 V303.8 Q1186.9,303.0 1187.9,303.0 H1190.7 Q1191.6,303.0 1191.6,301.6 Q1191.6,303.0 1192.5,303.0 H1195.3 Q1196.3,303.0 1196.3,303.8 V305.8" fill="none" stroke="#ffa500" stroke-width="1.1"/>
<text transform="translate(1190.0,328.5) rotate(90)" style="font-family:'Liberation Sans',sans-serif;font-size:10px" fill="#ff00ff" textLength="11.5" lengthAdjust="spacingAndGlyphs">Hε</text>
<path d="M1188.7,348.3 V346.3 Q1188.7,345.5 1189.7,345.5 H1192.5 Q1193.4,345.5 1193.4,344.1 Q1193.4,345.5 1194.3,345.5 H1197.1 Q1198.1,345.5 1198.1,346.3 V348.3" fill="none" stroke="#ff00ff" stroke-width="1.1"/>
<rect x="545.8" y="449.8" width="17.2" height="6.8" fill="#ff0000"/>
<text x="569.3" y="455.9" style="font-family:'Liberation Sans',sans-serif;font-size:7.8px" fill="#333" text-anchor="start" >Lyα</text>
<rect x="599.9" y="449.8" width="17.2" height="6.8" fill="#008000"/>
<text x="623.4" y="455.9" style="font-family:'Liberation Sans',sans-serif;font-size:7.8px" fill="#333" text-anchor="start" >OII</text>
<rect x="652.6" y="449.8" width="17.2" height="6.8" fill="#8a2be2"/>
<text x="676.1" y="455.9" style="font-family:'Liberation Sans',sans-serif;font-size:7.8px" fill="#333" text-anchor="start" >CIV</text>
<rect x="707.8" y="449.8" width="17.2" height="6.8" fill="#800080"/>
<text x="731.3" y="455.9" style="font-family:'Liberation Sans',sans-serif;font-size:7.8px" fill="#333" text-anchor="start" >CIII</text>
<rect x="759.5" y="449.8" width="17.2" height="6.8" fill="#ff00ff"/>
<text x="783.0" y="455.9" style="font-family:'Liberation Sans',sans-serif;font-size:7.8px" fill="#333" text-anchor="start" >MgII</text>
<rect x="814.9" y="449.8" width="17.2" height="6.8" fill="#ffa500"/>
<text x="838.4" y="455.9" style="font-family:'Liberation Sans',sans-serif;font-size:7.8px" fill="#333" text-anchor="start" >HeII</text>
<text x="70.0" y="498.9" style="font-family:'Liberation Mono',monospace;font-size:13px" fill="#000" >DECaLS : Possible Matches = 0 (within +/- 3")  P(LAE)/P(OII):</text>
<text x="553.8" y="498.9" style="font-family:'Liberation Sans',sans-serif;font-size:12.6px" fill="#000" text-anchor="start" textLength="37.6" lengthAdjust="spacingAndGlyphs" >473.5</text>
<text x="596.5" y="493.6" style="font-family:'Liberation Sans',sans-serif;font-size:8.2px" fill="#000" text-anchor="start" >1000</text>
<text x="596.5" y="502.4" style="font-family:'Liberation Sans',sans-serif;font-size:8.2px" fill="#000" text-anchor="start" >192.8</text>
<text x="628.5" y="498.9" style="font-family:'Liberation Mono',monospace;font-size:13px" fill="#000" >(r)</text>
<g clip-path="url(#pc0)">
<path d="M130 588h19v5h-19zM126 593h28v5h-28zM121 598h37v4h-37zM121 602h42v5h-42zM121 607h42v5h-42zM121 612h42v4h-42zM121 616h42v5h-42zM121 621h37v4h-37zM126 625h32v5h-32zM130 630h24v5h-24zM135 635h9v4h-9z" fill="rgb(0,0,0)" shape-rendering="crispEdges"/>
<path d="M126 630h4v5h-4z" fill="rgb(8,8,8)" shape-rendering="crispEdges"/>
<path d="M121 593h5v5h-5zM154 593h4v5h-4zM158 621h5v4h-5z" fill="rgb(16,16,16)" shape-rendering="crispEdges"/>
<path d="M126 588h4v5h-4zM117 607h4v5h-4zM144 635h5v4h-5z" fill="rgb(25,25,25)" shape-rendering="crispEdges"/>
<path d="M117 612h4v4h-4z" fill="rgb(33,33,33)" shape-rendering="crispEdges"/>
<path d="M158 598h5v4h-5zM117 602h4v5h-4zM121 625h5v5h-5z" fill="rgb(41,41,41)" shape-rendering="crispEdges"/>
<path d="M149 588h5v5h-5zM130 635h5v4h-5zM200 644h5v5h-5z" fill="rgb(49,49,49)" shape-rendering="crispEdges"/>
<path d="M117 616h4v5h-4zM200 639h5v5h-5zM205 644h4v5h-4z" fill="rgb(58,58,58)" shape-rendering="crispEdges"/>
<path d="M205 639h4v5h-4z" fill="rgb(66,66,66)" shape-rendering="crispEdges"/>
<path d="M163 607h5v5h-5zM154 630h4v5h-4z" fill="rgb(74,74,74)" shape-rendering="crispEdges"/>
<path d="M135 584h5v4h-5zM117 598h4v4h-4zM163 612h5v4h-5zM200 649h9v4h-9z" fill="rgb(82,82,82)" shape-rendering="crispEdges"/>
<path d="M140 584h4v4h-4zM158 625h5v5h-5z" fill="rgb(90,90,90)" shape-rendering="crispEdges"/>
<path d="M130 584h5v4h-5zM163 602h5v5h-5zM163 616h5v5h-5zM117 621h4v4h-4zM149 635h5v4h-5zM195 639h5v5h-5zM195 644h5v5h-5zM209 644h5v5h-5z" fill="rgb(99,99,99)" shape-rendering="crispEdges"/>
<path d="M200 635h9v4h-9zM209 639h5v5h-5z" fill="rgb(107,107,107)" shape-rendering="crispEdges"/>
<path d="M144 584h5v4h-5zM154 588h4v5h-4zM158 593h5v5h-5zM209 649h5v4h-5z" fill="rgb(115,115,115)" shape-rendering="crispEdges"/>
<path d="M121 588h5v5h-5zM163 621h5v4h-5zM121 630h5v5h-5zM126 635h4v4h-4zM195 649h5v4h-5zM205 653h4v5h-4z" fill="rgb(123,123,123)" shape-rendering="crispEdges"/>
<path d="M195 635h5v4h-5zM200 653h5v5h-5zM209 653h5v5h-5z" fill="rgb(132,132,132)" shape-rendering="crispEdges"/>
<path d="M117 593h4v5h-4zM163 598h5v4h-5zM135 639h9v5h-9z" fill="rgb(140,140,140)" shape-rendering="crispEdges"/>
<path d="M126 584h4v4h-4zM149 584h5v4h-5zM112 607h5v5h-5zM112 612h5v4h-5zM117 625h4v5h-4zM158 630h5v5h-5zM209 635h5v4h-5zM205 658h9v4h-9z" fill="rgb(148,148,148)" shape-rendering="crispEdges"/>
<path d="M112 602h5v5h-5zM154 635h4v4h-4zM144 639h5v5h-5zM191 639h4v5h-4zM191 644h4v5h-4zM214 644h4v5h-4zM214 649h4v4h-4zM195 653h5v5h-5z" fill="rgb(156,156,156)" shape-rendering="crispEdges"/>
<path d="M158 588h5v5h-5zM168 607h4v5h-4zM168 612h4v4h-4zM112 616h5v5h-5zM163 625h5v5h-5zM200 630h9v5h-9zM130 639h5v5h-5zM214 639h4v5h-4zM214 653h4v5h-4zM200 658h5v4h-5zM214 658h4v4h-4zM205 662h9v5h-9z" fill="rgb(165,165,165)" shape-rendering="crispEdges"/>
<path d="M163 593h5v5h-5zM112 598h5v4h-5zM191 649h4v4h-4zM214 662h4v5h-4z" fill="rgb(173,173,173)" shape-rendering="crispEdges"/>
<path d="M135 579h5v5h-5zM154 584h4v4h-4zM117 588h4v5h-4zM168 602h4v5h-4zM168 616h4v5h-4zM112 621h5v4h-5zM117 630h4v5h-4zM195 630h5v5h-5zM121 635h5v4h-5zM191 635h4v4h-4zM214 635h4v4h-4zM205 667h9v5h-9z" fill="rgb(181,181,181)" shape-rendering="crispEdges"/>
<path d="M140 579h9v5h-9zM121 584h5v4h-5zM168 621h4v4h-4zM209 630h5v5h-5zM149 639h5v5h-5zM195 658h5v4h-5zM200 662h5v5h-5zM214 667h4v5h-4z" fill="rgb(189,189,189)" shape-rendering="crispEdges"/>
<path d="M130 579h5v5h-5zM112 593h5v5h-5zM168 598h4v4h-4zM163 630h5v5h-5zM158 635h5v4h-5zM126 639h4v5h-4zM191 653h4v5h-4zM209 672h5v4h-5z" fill="rgb(197,197,197)" shape-rendering="crispEdges"/>
<path d="M126 579h4v5h-4zM149 579h5v5h-5zM158 584h5v4h-5zM163 588h5v5h-5zM107 602h5v5h-5zM107 607h5v5h-5zM107 612h5v4h-5zM107 616h5v5h-5zM112 625h5v5h-5zM168 625h4v5h-4zM200 625h5v5h-5zM191 630h4v5h-4zM186 635h5v4h-5zM121 639h5v5h-5zM154 639h4v5h-4zM186 639h5v5h-5zM140 644h9v5h-9zM186 644h5v5h-5zM200 667h5v5h-5zM205 672h4v4h-4zM214 672h4v4h-4z" fill="rgb(206,206,206)" shape-rendering="crispEdges"/>
<path d="M117 584h4v4h-4zM168 593h4v5h-4zM107 598h5v4h-5zM172 602h5v5h-5zM172 612h5v4h-5zM172 616h5v5h-5zM107 621h5v4h-5zM205 625h9v5h-9zM112 630h5v5h-5zM214 630h4v5h-4zM117 635h4v4h-4zM135 644h5v5h-5zM186 649h5v4h-5zM191 658h4v4h-4zM195 662h5v5h-5zM195 667h5v5h-5zM200 672h5v4h-5z" fill="rgb(214,214,214)" shape-rendering="crispEdges"/>
<path d="M140 574h9v5h-9zM121 579h5v5h-5zM154 579h9v5h-9zM163 584h5v4h-5zM112 588h5v5h-5zM168 588h4v5h-4zM107 593h5v5h-5zM172 607h5v5h-5zM172 621h5v4h-5zM191 625h9v5h-9zM168 630h4v5h-4zM186 630h5v5h-5zM163 635h5v4h-5zM158 639h5v5h-5zM130 644h5v5h-5zM149 644h5v5h-5zM186 653h5v5h-5zM205 676h13v5h-13z" fill="rgb(222,222,222)" shape-rendering="crispEdges"/>
<path d="M121 574h19v5h-19zM149 574h9v5h-9zM112 584h5v4h-5zM107 588h5v5h-5zM172 593h5v5h-5zM172 598h9v4h-9zM103 602h4v5h-4zM177 602h4v5h-4zM103 607h4v5h-4zM103 616h4v5h-4zM177 616h4v5h-4zM195 621h14v4h-14zM107 625h5v5h-5zM172 625h9v5h-9zM214 625h4v5h-4zM112 635h5v4h-5zM168 635h4v4h-4zM181 635h5v4h-5zM117 639h4v5h-4zM181 639h5v5h-5zM121 644h9v5h-9zM154 644h4v5h-4zM181 644h5v5h-5zM181 649h5v4h-5zM186 658h5v4h-5zM186 662h9v5h-9zM195 672h5v4h-5zM195 676h10v5h-10z" fill="rgb(230,230,230)" shape-rendering="crispEdges"/>
<path d="M70 533h5v4h-5zM89 533h4v4h-4zM107 533h10v4h-10zM154 533h9v4h-9zM200 533h5v4h-5zM209 533h5v4h-5zM70 537h5v5h-5zM103 537h4v5h-4zM130 537h5v5h-5zM140 537h4v5h-4zM195 537h5v5h-5zM98 542h5v5h-5zM177 542h4v5h-4zM205 542h4v5h-4zM107 547h10v4h-10zM130 547h5v4h-5zM149 547h5v4h-5zM168 547h4v4h-4zM89 551h4v5h-4zM154 551h4v5h-4zM177 551h4v5h-4zM205 551h4v5h-4zM70 556h5v5h-5zM80 556h4v5h-4zM103 556h4v5h-4zM112 556h5v5h-5zM121 556h9v5h-9zM140 556h9v5h-9zM158 556h5v5h-5zM172 556h5v5h-5zM205 556h4v5h-4zM214 556h4v5h-4zM70 561h5v4h-5zM112 561h14v4h-14zM158 561h10v4h-10zM195 561h5v4h-5zM84 565h5v5h-5zM93 565h5v5h-5zM107 565h5v5h-5zM126 565h14v5h-14zM177 565h4v5h-4zM84 570h14v4h-14zM103 570h4v4h-4zM112 570h9v4h-9zM130 570h19v4h-19zM154 570h23v4h-23zM209 570h9v4h-9zM70 574h5v5h-5zM84 574h5v5h-5zM112 574h9v5h-9zM168 574h4v5h-4zM181 574h5v5h-5zM70 579h5v5h-5zM89 579h4v5h-4zM103 579h4v5h-4zM112 579h9v5h-9zM163 579h5v5h-5zM177 579h4v5h-4zM209 579h5v5h-5zM89 584h4v4h-4zM98 584h14v4h-14zM168 584h9v4h-9zM214 584h4v4h-4zM70 588h5v5h-5zM172 588h9v5h-9zM191 588h4v5h-4zM93 593h5v5h-5zM103 593h4v5h-4zM177 593h9v5h-9zM214 593h4v5h-4zM89 598h4v4h-4zM98 598h9v4h-9zM181 598h10v4h-10zM200 598h5v4h-5zM84 602h5v5h-5zM93 602h5v5h-5zM181 602h14v5h-14zM214 602h4v5h-4zM80 607h9v5h-9zM98 607h5v5h-5zM177 607h4v5h-4zM70 612h5v4h-5zM89 612h18v4h-18zM177 612h4v4h-4zM191 612h4v4h-4zM205 612h4v4h-4zM80 616h9v5h-9zM98 616h5v5h-5zM181 616h5v5h-5zM191 616h27v5h-27zM84 621h5v4h-5zM98 621h9v4h-9zM177 621h4v4h-4zM186 621h9v4h-9zM209 621h9v4h-9zM70 625h10v5h-10zM93 625h14v5h-14zM181 625h10v5h-10zM75 630h5v5h-5zM93 630h10v5h-10zM107 630h5v5h-5zM172 630h5v5h-5zM181 630h5v5h-5zM80 635h4v4h-4zM103 635h4v4h-4zM172 635h9v4h-9zM75 639h5v5h-5zM89 639h4v5h-4zM103 639h14v5h-14zM163 639h18v5h-18zM107 644h5v5h-5zM117 644h4v5h-4zM158 644h5v5h-5zM177 644h4v5h-4zM70 649h5v4h-5zM84 649h5v4h-5zM112 649h42v4h-42zM158 649h5v4h-5zM177 649h4v4h-4zM89 653h4v5h-4zM126 653h4v5h-4zM135 653h5v5h-5zM154 653h4v5h-4zM168 653h4v5h-4zM181 653h5v5h-5zM80 658h4v4h-4zM98 658h5v4h-5zM121 658h5v4h-5zM140 658h4v4h-4zM168 658h4v4h-4zM80 662h4v5h-4zM93 662h5v5h-5zM117 662h4v5h-4zM135 662h9v5h-9zM154 662h4v5h-4zM172 662h5v5h-5zM93 667h5v5h-5zM126 667h4v5h-4zM135 667h5v5h-5zM172 667h5v5h-5zM181 667h14v5h-14zM140 672h9v4h-9zM181 672h14v4h-14zM89 676h4v5h-4zM98 676h9v5h-9zM112 676h9v5h-9zM130 676h10v5h-10zM144 676h14v5h-14zM163 676h5v5h-5zM186 676h9v5h-9z" fill="rgb(239,239,239)" shape-rendering="crispEdges"/>
<path d="M75 533h14v4h-14zM93 533h14v4h-14zM117 533h27v4h-27zM149 533h5v4h-5zM163 533h37v4h-37zM205 533h4v4h-4zM214 533h4v4h-4zM75 537h14v5h-14zM93 537h10v5h-10zM107 537h23v5h-23zM135 537h5v5h-5zM144 537h51v5h-51zM200 537h18v5h-18zM70 542h28v5h-28zM103 542h74v5h-74zM186 542h19v5h-19zM209 542h9v5h-9zM70 547h37v4h-37zM117 547h13v4h-13zM135 547h14v4h-14zM154 547h4v4h-4zM163 547h5v4h-5zM172 547h9v4h-9zM186 547h32v4h-32zM70 551h19v5h-19zM93 551h61v5h-61zM158 551h19v5h-19zM181 551h10v5h-10zM195 551h10v5h-10zM209 551h9v5h-9zM75 556h5v5h-5zM89 556h14v5h-14zM107 556h5v5h-5zM117 556h4v5h-4zM130 556h10v5h-10zM149 556h9v5h-9zM163 556h9v5h-9zM177 556h14v5h-14zM195 556h10v5h-10zM209 556h5v5h-5zM75 561h37v4h-37zM126 561h32v4h-32zM168 561h27v4h-27zM200 561h18v4h-18zM70 565h14v5h-14zM89 565h4v5h-4zM98 565h9v5h-9zM112 565h14v5h-14zM140 565h37v5h-37zM181 565h37v5h-37zM70 570h14v4h-14zM98 570h5v4h-5zM107 570h5v4h-5zM121 570h9v4h-9zM149 570h5v4h-5zM177 570h32v4h-32zM75 574h9v5h-9zM89 574h23v5h-23zM158 574h10v5h-10zM172 574h9v5h-9zM186 574h32v5h-32zM75 579h14v5h-14zM93 579h10v5h-10zM107 579h5v5h-5zM168 579h9v5h-9zM181 579h28v5h-28zM214 579h4v5h-4zM70 584h19v4h-19zM93 584h5v4h-5zM177 584h37v4h-37zM75 588h32v5h-32zM181 588h10v5h-10zM200 588h5v5h-5zM209 588h9v5h-9zM70 593h23v5h-23zM98 593h5v5h-5zM186 593h28v5h-28zM70 598h10v4h-10zM84 598h5v4h-5zM93 598h5v4h-5zM191 598h9v4h-9zM205 598h13v4h-13zM70 602h5v5h-5zM80 602h4v5h-4zM89 602h4v5h-4zM98 602h5v5h-5zM195 602h19v5h-19zM70 607h10v5h-10zM89 607h9v5h-9zM181 607h37v5h-37zM75 612h14v4h-14zM181 612h10v4h-10zM195 612h10v4h-10zM209 612h9v4h-9zM70 616h10v5h-10zM89 616h9v5h-9zM186 616h5v5h-5zM70 621h5v4h-5zM80 621h4v4h-4zM89 621h9v4h-9zM181 621h5v4h-5zM80 625h13v5h-13zM80 630h13v5h-13zM103 630h4v5h-4zM177 630h4v5h-4zM70 635h10v4h-10zM84 635h19v4h-19zM107 635h5v4h-5zM70 639h5v5h-5zM80 639h9v5h-9zM93 639h10v5h-10zM70 644h37v5h-37zM112 644h5v5h-5zM163 644h14v5h-14zM75 649h9v4h-9zM89 649h23v4h-23zM154 649h4v4h-4zM163 649h14v4h-14zM70 653h19v5h-19zM93 653h33v5h-33zM130 653h5v5h-5zM140 653h14v5h-14zM158 653h10v5h-10zM172 653h9v5h-9zM70 658h10v4h-10zM84 658h14v4h-14zM103 658h18v4h-18zM126 658h14v4h-14zM144 658h24v4h-24zM172 658h14v4h-14zM70 662h10v5h-10zM84 662h9v5h-9zM98 662h19v5h-19zM121 662h14v5h-14zM144 662h10v5h-10zM158 662h14v5h-14zM177 662h9v5h-9zM70 667h23v5h-23zM98 667h5v5h-5zM107 667h19v5h-19zM130 667h5v5h-5zM144 667h28v5h-28zM177 667h4v5h-4zM70 672h5v4h-5zM80 672h37v4h-37zM121 672h19v4h-19zM149 672h32v4h-32zM70 676h19v5h-19zM93 676h5v5h-5zM107 676h5v5h-5zM121 676h9v5h-9zM140 676h4v5h-4zM158 676h5v5h-5zM168 676h18v5h-18z" fill="rgb(247,247,247)" shape-rendering="crispEdges"/>
<path d="M144 533h5v4h-5zM89 537h4v5h-4zM181 542h5v5h-5zM158 547h5v4h-5zM181 547h5v4h-5zM191 551h4v5h-4zM84 556h5v5h-5zM191 556h4v5h-4zM195 588h5v5h-5zM205 588h4v5h-4zM80 598h4v4h-4zM75 602h5v5h-5zM75 621h5v4h-5zM70 630h5v5h-5zM103 667h4v5h-4zM140 667h4v5h-4zM75 672h5v4h-5zM117 672h4v4h-4z" fill="rgb(255,255,255)" shape-rendering="crispEdges"/>
<circle cx="126.0" cy="565.0" r="12.1" fill="none" stroke="#666" stroke-width="0.9"/>
<circle cx="149.2" cy="565.0" r="12.1" fill="none" stroke="#666" stroke-width="0.9"/>
<circle cx="172.3" cy="565.0" r="12.1" fill="none" stroke="#666" stroke-width="0.9"/>
<circle cx="91.4" cy="585.5" r="12.1" fill="none" stroke="#666" stroke-width="0.9"/>
<circle cx="113.9" cy="585.5" r="12.1" fill="none" stroke="#666" stroke-width="0.9"/>
<circle cx="161.7" cy="585.5" r="12.1" fill="none" stroke="#666" stroke-width="0.9"/>
<circle cx="185.3" cy="585.5" r="12.1" fill="none" stroke="#666" stroke-width="0.9"/>
<circle cx="102.9" cy="606.4" r="12.1" fill="none" stroke="#666" stroke-width="0.9"/>
<circle cx="175.2" cy="606.4" r="12.1" fill="none" stroke="#666" stroke-width="0.9"/>
<circle cx="198.8" cy="606.4" r="12.1" fill="none" stroke="#666" stroke-width="0.9"/>
<circle cx="91.4" cy="626.2" r="12.1" fill="none" stroke="#666" stroke-width="0.9"/>
<circle cx="116.1" cy="626.2" r="12.1" fill="none" stroke="#666" stroke-width="0.9"/>
<circle cx="162.9" cy="626.2" r="12.1" fill="none" stroke="#666" stroke-width="0.9"/>
<circle cx="185.3" cy="626.2" r="12.1" fill="none" stroke="#666" stroke-width="0.9"/>
<circle cx="128.2" cy="648.3" r="12.1" fill="none" stroke="#666" stroke-width="0.9"/>
<circle cx="151.4" cy="648.3" r="12.1" fill="none" stroke="#666" stroke-width="0.9"/>
<circle cx="175.2" cy="648.3" r="12.1" fill="none" stroke="#666" stroke-width="0.9"/>
<circle cx="138.2" cy="585.5" r="12.1" fill="none" stroke="#ff0000" stroke-width="1.3"/>
<circle cx="127.1" cy="606.4" r="12.1" fill="none" stroke="#00ff00" stroke-width="1.3"/>
<circle cx="150.3" cy="606.4" r="12.1" fill="none" stroke="#0000ff" stroke-width="1.3"/>
<circle cx="139.7" cy="626.2" r="12.1" fill="none" stroke="#ffa500" stroke-width="1.3"/>
<path d="M139.9,606.8 H147.9 M143.9,602.8 V610.8" stroke="#ff0000" stroke-width="1.3"/>
</g>
<rect x="70.3" y="532.8" width="148.0" height="148.0" fill="none" stroke="#222" stroke-width="1.1"/>
<line x1="79.3" y1="680.8" x2="79.3" y2="684.3" stroke="#222" stroke-width="1"/>
<text x="79.9" y="696.4" style="font-family:'Liberation Sans',sans-serif;font-size:10.8px" fill="#000" text-anchor="middle" textLength="15.2" lengthAdjust="spacingAndGlyphs" >−4</text>
<line x1="66.8" y1="671.4" x2="70.3" y2="671.4" stroke="#222" stroke-width="1"/>
<text x="63.7" y="675.3" style="font-family:'Liberation Sans',sans-serif;font-size:10.8px" fill="#000" text-anchor="end" textLength="15.2" lengthAdjust="spacingAndGlyphs" >−4</text>
<line x1="111.6" y1="680.8" x2="111.6" y2="684.3" stroke="#222" stroke-width="1"/>
<text x="112.2" y="696.4" style="font-family:'Liberation Sans',sans-serif;font-size:10.8px" fill="#000" text-anchor="middle" textLength="15.2" lengthAdjust="spacingAndGlyphs" >−2</text>
<line x1="66.8" y1="639.1" x2="70.3" y2="639.1" stroke="#222" stroke-width="1"/>
<text x="63.7" y="643.0" style="font-family:'Liberation Sans',sans-serif;font-size:10.8px" fill="#000" text-anchor="end" textLength="15.2" lengthAdjust="spacingAndGlyphs" >−2</text>
<line x1="143.9" y1="680.8" x2="143.9" y2="684.3" stroke="#222" stroke-width="1"/>
<text x="143.9" y="696.4" style="font-family:'Liberation Sans',sans-serif;font-size:10.8px" fill="#000" text-anchor="middle" >0</text>
<line x1="66.8" y1="606.8" x2="70.3" y2="606.8" stroke="#222" stroke-width="1"/>
<text x="63.7" y="610.7" style="font-family:'Liberation Sans',sans-serif;font-size:10.8px" fill="#000" text-anchor="end" >0</text>
<line x1="176.3" y1="680.8" x2="176.3" y2="684.3" stroke="#222" stroke-width="1"/>
<text x="176.3" y="696.4" style="font-family:'Liberation Sans',sans-serif;font-size:10.8px" fill="#000" text-anchor="middle" >2</text>
<line x1="66.8" y1="574.5" x2="70.3" y2="574.5" stroke="#222" stroke-width="1"/>
<text x="63.7" y="578.4" style="font-family:'Liberation Sans',sans-serif;font-size:10.8px" fill="#000" text-anchor="end" >2</text>
<line x1="208.6" y1="680.8" x2="208.6" y2="684.3" stroke="#222" stroke-width="1"/>
<text x="208.6" y="696.4" style="font-family:'Liberation Sans',sans-serif;font-size:10.8px" fill="#000" text-anchor="middle" >4</text>
<line x1="66.8" y1="542.2" x2="70.3" y2="542.2" stroke="#222" stroke-width="1"/>
<text x="63.7" y="546.1" style="font-family:'Liberation Sans',sans-serif;font-size:10.8px" fill="#000" text-anchor="end" >4</text>
<text x="143.9" y="525.6" style="font-family:'Liberation Sans',sans-serif;font-size:11.9px" fill="#000" text-anchor="middle" textLength="92.6" lengthAdjust="spacingAndGlyphs" >Fiber Positions</text>
<text x="143.6" y="706.4" style="font-family:'Liberation Sans',sans-serif;font-size:10.6px" fill="#000" text-anchor="middle" textLength="40.0" lengthAdjust="spacingAndGlyphs" >arcsecs</text>
<rect x="95.5" y="558.3" width="97.0" height="97.0" fill="none" stroke="#ff0000" stroke-width="1.2"/>
<text x="143.9" y="546.6" style="font-family:'Liberation Sans',sans-serif;font-size:10.8px" fill="#ff0000" text-anchor="middle" >N</text>
<text x="80.5" y="610.4" style="font-family:'Liberation Sans',sans-serif;font-size:10.8px" fill="#ff0000" text-anchor="middle" >E</text>
<g clip-path="url(#pc1)">
<path d="M256 533h4v4h-4zM362 584h9v4h-9zM367 588h4v5h-4zM390 602h4v5h-4zM357 607h5v5h-5zM362 612h9v4h-9zM293 625h4v5h-4zM353 635h4v4h-4z" fill="#2b768e" shape-rendering="crispEdges"/>
<path d="M260 533h5v4h-5zM256 547h4v4h-4zM288 547h5v4h-5zM265 551h4v5h-4zM353 574h4v5h-4zM381 616h4v5h-4zM343 635h5v4h-5zM306 644h5v5h-5zM256 653h4v5h-4zM339 653h4v5h-4zM288 662h5v5h-5zM288 672h5v4h-5z" fill="#297b8d" shape-rendering="crispEdges"/>
<path d="M265 533h4v4h-4zM265 542h4v5h-4zM283 602h5v5h-5zM385 616h5v5h-5zM302 630h4v5h-4zM343 639h5v5h-5zM311 644h5v5h-5zM348 644h5v5h-5z" fill="#27818d" shape-rendering="crispEdges"/>
<path d="M269 533h5v4h-5zM325 644h9v5h-9z" fill="#24888d" shape-rendering="crispEdges"/>
<path d="M274 533h5v4h-5zM293 533h4v4h-4zM316 570h4v4h-4zM394 612h5v4h-5zM269 658h5v4h-5z" fill="#228f8c" shape-rendering="crispEdges"/>
<path d="M279 533h4v4h-4zM288 533h5v4h-5zM288 537h5v5h-5zM260 658h5v4h-5z" fill="#22948b" shape-rendering="crispEdges"/>
<path d="M283 533h5v4h-5zM265 607h4v5h-4z" fill="#22968a" shape-rendering="crispEdges"/>
<path d="M297 533h5v4h-5zM381 607h4v5h-4zM339 639h4v5h-4zM343 644h5v5h-5z" fill="#26848d" shape-rendering="crispEdges"/>
<path d="M302 533h4v4h-4zM279 551h4v5h-4zM357 574h5v5h-5zM371 579h5v5h-5zM371 584h5v4h-5zM283 588h5v5h-5zM394 602h5v5h-5zM357 621h19v4h-19zM381 621h13v4h-13zM348 630h9v5h-9zM362 635h5v4h-5zM367 639h4v5h-4zM288 658h5v4h-5zM306 658h5v4h-5z" fill="#2c738e" shape-rendering="crispEdges"/>
<path d="M306 533h5v4h-5zM325 565h5v5h-5z" fill="#365e8c" shape-rendering="crispEdges"/>
<path d="M311 533h5v4h-5zM306 551h5v5h-5zM265 565h4v5h-4z" fill="#3f4686" shape-rendering="crispEdges"/>
<path d="M316 533h4v4h-4zM353 542h4v5h-4zM320 667h5v5h-5zM362 676h5v5h-5z" fill="#45337e" shape-rendering="crispEdges"/>
<path d="M320 533h5v4h-5zM348 533h5v4h-5zM348 537h5v5h-5zM265 574h4v5h-4z" fill="#472675" shape-rendering="crispEdges"/>
<path d="M325 533h5v4h-5zM343 537h5v5h-5zM256 588h9v5h-9z" fill="#461f6f" shape-rendering="crispEdges"/>
<path d="M330 533h9v4h-9zM339 537h4v5h-4zM330 542h9v5h-9zM256 584h4v4h-4zM334 672h14v4h-14zM339 676h4v5h-4z" fill="#461c6c" shape-rendering="crispEdges"/>
<path d="M339 533h4v4h-4zM325 537h5v5h-5zM334 676h5v5h-5zM343 676h5v5h-5z" fill="#461d6d" shape-rendering="crispEdges"/>
<path d="M343 533h5v4h-5z" fill="#462170" shape-rendering="crispEdges"/>
<path d="M353 533h4v4h-4zM316 547h4v4h-4zM339 551h4v5h-4zM316 672h4v4h-4zM316 676h4v5h-4z" fill="#462f7c" shape-rendering="crispEdges"/>
<path d="M357 533h5v4h-5zM353 547h4v4h-4zM316 667h4v5h-4zM367 672h4v4h-4z" fill="#433a81" shape-rendering="crispEdges"/>
<path d="M362 533h5v4h-5zM357 547h5v4h-5zM256 644h4v5h-4z" fill="#3f4786" shape-rendering="crispEdges"/>
<path d="M367 533h4v4h-4zM274 584h5v4h-5zM394 639h5v5h-5zM394 672h5v4h-5zM376 676h5v5h-5z" fill="#3a538b" shape-rendering="crispEdges"/>
<path d="M371 533h5v4h-5zM293 551h4v5h-4zM390 574h4v5h-4zM394 630h5v5h-5zM353 658h4v4h-4zM385 676h5v5h-5z" fill="#365d8c" shape-rendering="crispEdges"/>
<path d="M376 533h5v4h-5zM357 561h5v4h-5zM348 565h5v5h-5zM274 593h5v5h-5zM381 598h4v4h-4zM390 630h4v5h-4zM376 658h5v4h-5z" fill="#32658d" shape-rendering="crispEdges"/>
<path d="M381 533h4v4h-4zM293 570h4v4h-4zM385 570h5v4h-5zM376 588h5v5h-5zM385 635h5v4h-5zM302 639h4v5h-4zM381 649h4v4h-4zM325 658h5v4h-5zM297 662h5v5h-5z" fill="#306a8d" shape-rendering="crispEdges"/>
<path d="M385 533h5v4h-5zM376 551h5v5h-5zM371 561h5v4h-5zM381 565h9v5h-9zM376 579h5v5h-5zM320 658h5v4h-5z" fill="#2e6d8e" shape-rendering="crispEdges"/>
<path d="M390 533h4v4h-4zM385 537h5v5h-5zM381 547h4v4h-4zM385 561h14v4h-14zM367 565h4v5h-4zM288 579h5v5h-5zM283 584h5v4h-5zM399 621h5v4h-5zM381 630h4v5h-4zM376 649h5v4h-5zM367 653h4v5h-4z" fill="#2d6f8e" shape-rendering="crispEdges"/>
<path d="M394 533h10v4h-10zM385 542h5v5h-5zM381 551h4v5h-4zM260 556h5v5h-5zM269 556h5v5h-5zM381 556h4v5h-4zM399 556h5v5h-5zM371 570h5v4h-5zM376 598h5v4h-5zM381 625h4v5h-4zM376 639h5v5h-5zM376 644h5v5h-5zM293 658h4v4h-4zM316 658h4v4h-4z" fill="#2d708e" shape-rendering="crispEdges"/>
<path d="M256 537h4v5h-4zM269 551h5v5h-5zM353 639h4v5h-4zM357 644h5v5h-5zM357 649h5v4h-5zM260 653h5v5h-5z" fill="#297a8d" shape-rendering="crispEdges"/>
<path d="M260 537h5v5h-5zM260 542h5v5h-5zM339 635h4v4h-4zM348 639h5v5h-5zM353 644h4v5h-4zM306 649h5v4h-5zM330 653h4v5h-4z" fill="#287e8d" shape-rendering="crispEdges"/>
<path d="M265 537h4v5h-4zM353 616h4v5h-4zM343 630h5v5h-5zM279 658h4v4h-4z" fill="#26828d" shape-rendering="crispEdges"/>
<path d="M269 537h5v5h-5zM274 542h5v5h-5zM357 602h5v5h-5zM320 644h5v5h-5zM283 662h5v5h-5z" fill="#25878d" shape-rendering="crispEdges"/>
<path d="M274 537h5v5h-5zM283 542h5v5h-5z" fill="#228d8c" shape-rendering="crispEdges"/>
<path d="M279 537h4v5h-4z" fill="#21928b" shape-rendering="crispEdges"/>
<path d="M283 537h5v5h-5zM353 579h4v5h-4zM288 602h5v5h-5zM288 612h5v4h-5zM279 667h4v5h-4zM279 672h4v4h-4z" fill="#22958a" shape-rendering="crispEdges"/>
<path d="M293 537h4v5h-4zM348 570h5v4h-5zM293 574h4v5h-4zM283 607h5v5h-5zM390 612h4v4h-4zM399 612h5v4h-5z" fill="#228e8c" shape-rendering="crispEdges"/>
<path d="M297 537h5v5h-5zM269 542h5v5h-5zM297 570h5v4h-5zM274 602h9v5h-9zM381 612h4v4h-4zM297 621h5v4h-5zM274 625h5v5h-5zM311 649h5v4h-5zM343 649h5v4h-5z" fill="#26838d" shape-rendering="crispEdges"/>
<path d="M302 537h4v5h-4zM399 537h5v5h-5zM390 542h14v5h-14zM390 547h14v4h-14zM390 551h14v5h-14zM362 570h9v4h-9zM371 574h5v5h-5zM353 621h4v4h-4zM376 621h5v4h-5zM297 625h5v5h-5zM348 625h28v5h-28zM357 630h14v5h-14zM367 635h4v4h-4zM371 639h5v5h-5zM371 644h5v5h-5zM371 649h5v4h-5zM269 653h5v5h-5zM357 653h5v5h-5zM302 658h4v4h-4zM311 658h5v4h-5z" fill="#2c728e" shape-rendering="crispEdges"/>
<path d="M306 537h5v5h-5zM274 561h5v4h-5zM320 565h5v5h-5zM274 588h5v5h-5zM293 630h4v5h-4zM297 639h5v5h-5zM256 649h4v4h-4zM385 653h5v5h-5zM376 662h5v5h-5zM297 672h5v4h-5zM297 676h5v5h-5z" fill="#365c8c" shape-rendering="crispEdges"/>
<path d="M311 537h5v5h-5zM316 556h4v5h-4zM288 639h5v5h-5z" fill="#404485" shape-rendering="crispEdges"/>
<path d="M316 537h4v5h-4zM320 551h5v5h-5z" fill="#46317d" shape-rendering="crispEdges"/>
<path d="M320 537h5v5h-5zM339 547h4v4h-4zM353 676h4v5h-4z" fill="#462473" shape-rendering="crispEdges"/>
<path d="M330 537h9v5h-9z" fill="#461a6a" shape-rendering="crispEdges"/>
<path d="M353 537h4v5h-4zM348 547h5v4h-5zM357 667h5v5h-5zM362 672h5v4h-5z" fill="#46307c" shape-rendering="crispEdges"/>
<path d="M357 537h5v5h-5zM390 588h4v5h-4zM260 639h5v5h-5z" fill="#423c81" shape-rendering="crispEdges"/>
<path d="M362 537h5v5h-5zM306 547h5v4h-5zM399 579h5v5h-5zM288 644h5v5h-5zM325 662h5v5h-5z" fill="#3e4987" shape-rendering="crispEdges"/>
<path d="M367 537h4v5h-4zM297 551h5v5h-5zM279 574h4v5h-4zM279 630h4v5h-4zM265 649h4v4h-4zM371 662h5v5h-5zM302 667h4v5h-4z" fill="#39568b" shape-rendering="crispEdges"/>
<path d="M371 537h5v5h-5zM390 635h4v4h-4z" fill="#34608c" shape-rendering="crispEdges"/>
<path d="M376 537h5v5h-5zM367 556h4v5h-4zM343 565h5v5h-5zM394 570h10v4h-10zM279 584h4v4h-4zM385 639h5v5h-5zM381 653h4v5h-4zM330 658h4v4h-4z" fill="#31678d" shape-rendering="crispEdges"/>
<path d="M381 537h4v5h-4zM357 565h5v5h-5zM394 565h5v5h-5zM381 570h4v4h-4zM279 588h4v5h-4zM376 593h5v5h-5zM256 602h4v5h-4zM385 630h5v5h-5zM381 644h4v5h-4zM274 653h5v5h-5zM376 653h5v5h-5z" fill="#2f6c8d" shape-rendering="crispEdges"/>
<path d="M390 537h4v5h-4zM265 556h4v5h-4zM385 556h5v5h-5zM357 570h5v4h-5zM399 602h5v5h-5zM376 630h5v5h-5zM376 635h5v4h-5zM302 644h4v5h-4zM362 653h5v5h-5z" fill="#2d718e" shape-rendering="crispEdges"/>
<path d="M394 537h5v5h-5zM385 547h5v4h-5zM385 551h5v5h-5zM390 556h9v5h-9zM279 593h4v5h-4zM274 598h5v4h-5zM394 621h5v4h-5zM376 625h5v5h-5zM371 630h5v5h-5zM371 635h5v4h-5zM297 653h5v5h-5zM297 658h5v4h-5zM293 662h4v5h-4z" fill="#2c718e" shape-rendering="crispEdges"/>
<path d="M256 542h4v5h-4zM283 593h5v5h-5z" fill="#297c8d" shape-rendering="crispEdges"/>
<path d="M279 542h4v5h-4zM288 607h5v5h-5zM399 607h5v5h-5zM283 667h5v5h-5z" fill="#238b8c" shape-rendering="crispEdges"/>
<path d="M288 542h5v5h-5zM311 570h5v4h-5zM390 607h9v5h-9zM293 621h4v4h-4z" fill="#238c8c" shape-rendering="crispEdges"/>
<path d="M293 542h4v5h-4zM288 584h5v4h-5zM390 616h4v5h-4zM399 616h5v5h-5zM256 625h4v5h-4zM269 625h5v5h-5zM334 639h5v5h-5zM316 644h4v5h-4zM316 649h4v4h-4zM283 676h5v5h-5z" fill="#25858d" shape-rendering="crispEdges"/>
<path d="M297 542h5v5h-5zM260 551h5v5h-5z" fill="#297a8e" shape-rendering="crispEdges"/>
<path d="M302 542h4v5h-4zM297 547h5v4h-5zM390 570h4v4h-4zM283 579h5v5h-5z" fill="#31688d" shape-rendering="crispEdges"/>
<path d="M306 542h5v5h-5zM362 547h5v4h-5zM288 556h5v5h-5zM390 649h4v4h-4zM316 662h4v5h-4zM376 667h5v5h-5zM390 667h4v5h-4z" fill="#3a548b" shape-rendering="crispEdges"/>
<path d="M311 542h5v5h-5zM390 593h4v5h-4zM339 662h4v5h-4z" fill="#413e82" shape-rendering="crispEdges"/>
<path d="M316 542h4v5h-4zM325 551h5v5h-5z" fill="#472e7c" shape-rendering="crispEdges"/>
<path d="M320 542h5v5h-5zM325 547h5v4h-5zM265 584h4v4h-4z" fill="#462372" shape-rendering="crispEdges"/>
<path d="M325 542h5v5h-5zM330 672h4v4h-4zM348 672h5v4h-5z" fill="#461e6e" shape-rendering="crispEdges"/>
<path d="M339 542h4v5h-4z" fill="#461e6d" shape-rendering="crispEdges"/>
<path d="M343 542h5v5h-5zM330 547h9v4h-9zM265 579h4v5h-4zM325 672h5v4h-5zM325 676h5v5h-5z" fill="#462271" shape-rendering="crispEdges"/>
<path d="M348 542h5v5h-5z" fill="#472978" shape-rendering="crispEdges"/>
<path d="M357 542h5v5h-5zM260 565h5v5h-5zM390 584h4v4h-4zM269 588h5v5h-5zM265 644h4v5h-4zM367 667h4v5h-4z" fill="#414083" shape-rendering="crispEdges"/>
<path d="M362 542h5v5h-5zM297 556h5v5h-5zM288 561h5v4h-5zM306 561h5v4h-5zM283 565h5v5h-5zM302 565h4v5h-4zM269 593h5v5h-5zM399 644h5v5h-5zM274 649h5v4h-5zM283 649h5v4h-5zM394 649h5v4h-5zM394 662h5v5h-5z" fill="#3c4e89" shape-rendering="crispEdges"/>
<path d="M367 542h4v5h-4zM302 547h4v4h-4zM362 551h5v5h-5zM283 556h5v5h-5zM357 556h5v5h-5zM256 561h4v4h-4zM394 574h10v5h-10zM381 593h4v5h-4zM297 635h5v4h-5zM385 658h5v4h-5zM311 662h5v5h-5zM381 667h4v5h-4zM385 672h5v4h-5z" fill="#375a8c" shape-rendering="crispEdges"/>
<path d="M371 542h5v5h-5zM279 556h4v5h-4zM269 598h5v4h-5zM394 625h5v5h-5zM297 644h5v5h-5zM385 644h5v5h-5zM283 653h5v5h-5zM381 658h4v4h-4z" fill="#33638d" shape-rendering="crispEdges"/>
<path d="M376 542h5v5h-5zM371 551h5v5h-5zM362 561h5v4h-5zM353 565h4v5h-4zM381 574h4v5h-4zM390 625h4v5h-4zM293 653h4v5h-4zM293 676h4v5h-4z" fill="#30698d" shape-rendering="crispEdges"/>
<path d="M381 542h4v5h-4zM256 556h4v5h-4zM376 556h5v5h-5zM376 561h5v4h-5zM399 561h5v4h-5zM362 565h5v5h-5zM376 565h5v5h-5zM353 570h4v4h-4zM376 570h5v4h-5zM376 574h5v5h-5zM385 625h5v5h-5zM381 639h4v5h-4zM371 653h5v5h-5zM293 667h4v5h-4z" fill="#2e6e8e" shape-rendering="crispEdges"/>
<path d="M260 547h5v4h-5zM376 607h5v5h-5zM283 625h5v5h-5zM353 649h4v4h-4zM306 653h5v5h-5zM288 667h5v5h-5z" fill="#287d8d" shape-rendering="crispEdges"/>
<path d="M265 547h4v4h-4zM283 547h5v4h-5z" fill="#287f8d" shape-rendering="crispEdges"/>
<path d="M269 547h5v4h-5zM283 598h5v4h-5zM269 602h5v5h-5zM311 653h5v5h-5zM325 653h5v5h-5z" fill="#277f8d" shape-rendering="crispEdges"/>
<path d="M274 547h9v4h-9zM279 625h4v5h-4zM348 649h5v4h-5zM316 653h9v5h-9z" fill="#27808d" shape-rendering="crispEdges"/>
<path d="M293 547h4v4h-4zM362 574h9v5h-9zM371 593h5v5h-5zM357 616h14v5h-14zM357 635h5v4h-5zM367 644h4v5h-4zM367 649h4v4h-4zM353 653h4v5h-4z" fill="#2b748e" shape-rendering="crispEdges"/>
<path d="M311 547h5v4h-5zM399 588h5v5h-5z" fill="#433a80" shape-rendering="crispEdges"/>
<path d="M320 547h5v4h-5zM348 667h5v5h-5zM320 672h5v4h-5z" fill="#472776" shape-rendering="crispEdges"/>
<path d="M343 547h5v4h-5z" fill="#472977" shape-rendering="crispEdges"/>
<path d="M367 547h4v4h-4zM265 561h4v4h-4zM330 565h4v5h-4zM256 630h4v5h-4zM348 658h5v4h-5zM357 658h5v4h-5zM381 662h4v5h-4z" fill="#355e8c" shape-rendering="crispEdges"/>
<path d="M371 547h5v4h-5zM279 653h4v5h-4z" fill="#32668d" shape-rendering="crispEdges"/>
<path d="M376 547h5v4h-5zM283 551h5v5h-5zM274 556h5v5h-5zM371 556h5v5h-5zM367 561h4v4h-4zM399 565h5v5h-5zM376 584h5v4h-5zM302 635h4v4h-4zM297 649h5v4h-5zM293 672h4v4h-4z" fill="#2f6b8d" shape-rendering="crispEdges"/>
<path d="M256 551h4v5h-4zM274 551h5v5h-5zM279 598h4v4h-4zM381 602h9v5h-9zM371 607h5v5h-5zM371 612h5v4h-5zM348 635h5v4h-5zM302 653h4v5h-4zM288 676h5v5h-5z" fill="#2a788e" shape-rendering="crispEdges"/>
<path d="M288 551h5v5h-5zM339 565h4v5h-4zM288 653h5v5h-5zM371 658h5v4h-5z" fill="#33648d" shape-rendering="crispEdges"/>
<path d="M302 551h4v5h-4zM390 598h4v4h-4zM293 639h4v5h-4zM320 662h5v5h-5zM367 662h4v5h-4zM399 667h5v5h-5zM302 672h4v4h-4z" fill="#3c4f8a" shape-rendering="crispEdges"/>
<path d="M311 551h5v5h-5zM330 556h9v5h-9zM394 584h5v4h-5zM274 635h5v4h-5zM283 639h5v5h-5zM274 644h5v5h-5zM343 662h10v5h-10zM367 676h4v5h-4z" fill="#423d82" shape-rendering="crispEdges"/>
<path d="M316 551h4v5h-4zM265 593h4v5h-4z" fill="#44367f" shape-rendering="crispEdges"/>
<path d="M330 551h4v5h-4z" fill="#472d7b" shape-rendering="crispEdges"/>
<path d="M334 551h5v5h-5zM325 667h5v5h-5z" fill="#472e7b" shape-rendering="crispEdges"/>
<path d="M343 551h5v5h-5zM269 574h5v5h-5z" fill="#45347e" shape-rendering="crispEdges"/>
<path d="M348 551h5v5h-5zM394 593h5v5h-5z" fill="#433b81" shape-rendering="crispEdges"/>
<path d="M353 551h4v5h-4zM385 588h5v5h-5zM260 598h5v4h-5zM256 635h4v4h-4zM330 662h4v5h-4z" fill="#3f4585" shape-rendering="crispEdges"/>
<path d="M357 551h5v5h-5zM293 556h4v5h-4zM311 561h5v4h-5zM288 570h5v4h-5zM293 635h4v4h-4zM394 644h5v5h-5zM394 667h5v5h-5zM302 676h4v5h-4z" fill="#3c508a" shape-rendering="crispEdges"/>
<path d="M367 551h4v5h-4zM385 574h5v5h-5zM381 579h4v5h-4z" fill="#33628d" shape-rendering="crispEdges"/>
<path d="M302 556h4v5h-4zM399 649h5v4h-5z" fill="#3d4c89" shape-rendering="crispEdges"/>
<path d="M306 556h5v5h-5z" fill="#3d4a88" shape-rendering="crispEdges"/>
<path d="M311 556h5v5h-5zM288 635h5v4h-5z" fill="#3e4786" shape-rendering="crispEdges"/>
<path d="M320 556h5v5h-5zM334 662h5v5h-5z" fill="#414184" shape-rendering="crispEdges"/>
<path d="M325 556h5v5h-5z" fill="#413e83" shape-rendering="crispEdges"/>
<path d="M339 556h4v5h-4zM256 565h4v5h-4zM265 635h4v4h-4zM279 635h4v4h-4zM256 639h4v5h-4zM353 662h4v5h-4z" fill="#413f83" shape-rendering="crispEdges"/>
<path d="M343 556h5v5h-5zM260 644h5v5h-5zM306 676h5v5h-5z" fill="#404385" shape-rendering="crispEdges"/>
<path d="M348 556h5v5h-5zM385 584h5v4h-5zM399 598h5v4h-5z" fill="#3e4a87" shape-rendering="crispEdges"/>
<path d="M353 556h4v5h-4zM320 561h5v4h-5zM339 561h4v4h-4zM269 649h5v4h-5zM390 653h4v5h-4zM390 658h4v4h-4zM390 662h4v5h-4z" fill="#3b528b" shape-rendering="crispEdges"/>
<path d="M362 556h5v5h-5zM334 565h5v5h-5zM297 630h5v5h-5zM297 667h5v5h-5z" fill="#34618c" shape-rendering="crispEdges"/>
<path d="M260 561h5v4h-5zM283 574h10v5h-10zM381 584h4v4h-4zM260 630h5v5h-5zM390 639h4v5h-4zM381 676h4v5h-4zM390 676h4v5h-4z" fill="#375b8c" shape-rendering="crispEdges"/>
<path d="M269 561h5v4h-5zM353 561h4v4h-4zM279 579h4v5h-4zM293 649h4v4h-4zM385 649h5v4h-5zM343 658h5v4h-5zM362 658h5v4h-5zM306 662h5v5h-5z" fill="#355f8c" shape-rendering="crispEdges"/>
<path d="M279 561h4v4h-4zM381 588h4v5h-4zM274 630h5v5h-5zM283 630h5v5h-5zM390 644h4v5h-4zM390 672h4v4h-4zM399 676h5v5h-5z" fill="#39578b" shape-rendering="crispEdges"/>
<path d="M283 561h5v4h-5zM316 561h4v4h-4zM325 561h5v4h-5zM274 565h5v5h-5zM306 565h5v5h-5zM283 570h5v4h-5zM265 598h4v4h-4z" fill="#3b518b" shape-rendering="crispEdges"/>
<path d="M293 561h9v4h-9zM293 565h4v5h-4zM390 579h4v5h-4zM279 649h4v4h-4zM399 653h5v5h-5zM399 658h5v4h-5zM306 667h5v5h-5z" fill="#3d4c88" shape-rendering="crispEdges"/>
<path d="M302 561h4v4h-4zM269 565h5v5h-5zM288 565h5v5h-5zM297 565h5v5h-5zM394 653h5v5h-5zM394 658h5v4h-5zM399 662h5v5h-5z" fill="#3d4d89" shape-rendering="crispEdges"/>
<path d="M330 561h9v4h-9zM279 565h4v5h-4zM279 570h4v4h-4zM399 639h5v5h-5zM376 672h5v4h-5z" fill="#3b518a" shape-rendering="crispEdges"/>
<path d="M343 561h5v4h-5zM311 565h5v5h-5zM399 635h5v4h-5zM288 649h5v4h-5z" fill="#3a558b" shape-rendering="crispEdges"/>
<path d="M348 561h5v4h-5zM316 565h4v5h-4zM265 630h4v5h-4zM288 630h5v5h-5zM399 630h5v5h-5zM260 649h5v4h-5zM385 662h5v5h-5zM385 667h5v5h-5zM381 672h4v4h-4z" fill="#38598c" shape-rendering="crispEdges"/>
<path d="M381 561h4v4h-4zM371 565h5v5h-5zM260 602h5v5h-5zM381 635h4v4h-4z" fill="#2e6f8e" shape-rendering="crispEdges"/>
<path d="M390 565h4v5h-4z" fill="#2f6d8d" shape-rendering="crispEdges"/>
<path d="M256 570h9v4h-9z" fill="#472c7a" shape-rendering="crispEdges"/>
<path d="M265 570h4v4h-4z" fill="#45327d" shape-rendering="crispEdges"/>
<path d="M269 570h5v4h-5zM399 584h5v4h-5zM269 635h5v4h-5zM269 644h5v5h-5zM279 644h4v5h-4z" fill="#423e82" shape-rendering="crispEdges"/>
<path d="M274 570h5v4h-5zM394 598h5v4h-5zM371 667h5v5h-5z" fill="#3e4a88" shape-rendering="crispEdges"/>
<path d="M302 570h4v4h-4zM394 616h5v5h-5zM260 625h9v5h-9zM339 644h4v5h-4zM320 649h19v4h-19z" fill="#25868d" shape-rendering="crispEdges"/>
<path d="M306 570h5v4h-5z" fill="#24898d" shape-rendering="crispEdges"/>
<path d="M320 570h5v4h-5zM348 621h5v4h-5z" fill="#21928c" shape-rendering="crispEdges"/>
<path d="M325 570h5v4h-5z" fill="#22958b" shape-rendering="crispEdges"/>
<path d="M330 570h4v4h-4z" fill="#239789" shape-rendering="crispEdges"/>
<path d="M334 570h5v4h-5zM288 588h5v5h-5zM283 612h5v4h-5zM288 616h5v5h-5z" fill="#239a88" shape-rendering="crispEdges"/>
<path d="M339 570h4v4h-4zM279 621h4v4h-4zM325 639h5v5h-5zM256 662h4v5h-4zM260 676h5v5h-5z" fill="#249d87" shape-rendering="crispEdges"/>
<path d="M343 570h5v4h-5zM279 612h4v4h-4zM283 616h5v5h-5zM256 621h4v4h-4zM306 635h5v4h-5zM256 672h4v4h-4zM269 672h5v4h-5z" fill="#249f86" shape-rendering="crispEdges"/>
<path d="M256 574h4v5h-4z" fill="#462171" shape-rendering="crispEdges"/>
<path d="M260 574h5v5h-5zM348 676h5v5h-5z" fill="#46206f" shape-rendering="crispEdges"/>
<path d="M274 574h5v5h-5zM394 579h5v5h-5zM385 593h5v5h-5zM362 662h5v5h-5zM371 676h5v5h-5z" fill="#3e4887" shape-rendering="crispEdges"/>
<path d="M297 574h5v5h-5z" fill="#3ab776" shape-rendering="crispEdges"/>
<path d="M302 574h4v5h-4z" fill="#43bc71" shape-rendering="crispEdges"/>
<path d="M306 574h5v5h-5z" fill="#48be6e" shape-rendering="crispEdges"/>
<path d="M311 574h5v5h-5z" fill="#4dc16b" shape-rendering="crispEdges"/>
<path d="M316 574h4v5h-4z" fill="#52c368" shape-rendering="crispEdges"/>
<path d="M320 574h5v5h-5z" fill="#57c666" shape-rendering="crispEdges"/>
<path d="M325 574h5v5h-5zM334 630h5v5h-5z" fill="#5cc863" shape-rendering="crispEdges"/>
<path d="M330 574h4v5h-4z" fill="#63ca5f" shape-rendering="crispEdges"/>
<path d="M334 574h5v5h-5z" fill="#6acc5a" shape-rendering="crispEdges"/>
<path d="M339 574h4v5h-4zM297 607h5v5h-5z" fill="#72ce55" shape-rendering="crispEdges"/>
<path d="M343 574h5v5h-5z" fill="#79d051" shape-rendering="crispEdges"/>
<path d="M348 574h5v5h-5z" fill="#27ac81" shape-rendering="crispEdges"/>
<path d="M256 579h4v5h-4z" fill="#461d6c" shape-rendering="crispEdges"/>
<path d="M260 579h5v5h-5zM260 584h5v4h-5z" fill="#461b6b" shape-rendering="crispEdges"/>
<path d="M269 579h5v5h-5z" fill="#45337d" shape-rendering="crispEdges"/>
<path d="M274 579h5v5h-5z" fill="#3d4b88" shape-rendering="crispEdges"/>
<path d="M293 579h4v5h-4z" fill="#25a385" shape-rendering="crispEdges"/>
<path d="M297 579h5v5h-5z" fill="#78cf52" shape-rendering="crispEdges"/>
<path d="M302 579h46v5h-46zM297 584h56v4h-56zM297 588h56v5h-56zM293 593h64v5h-64zM293 598h60v4h-60zM297 602h56v5h-56zM302 607h51v5h-51zM302 612h46v4h-46zM306 616h42v5h-42zM306 621h37v4h-37zM311 625h28v5h-28zM311 630h23v5h-23zM316 635h9v4h-9z" fill="#fde725" shape-rendering="crispEdges"/>
<path d="M348 579h5v5h-5z" fill="#52c369" shape-rendering="crispEdges"/>
<path d="M357 579h14v5h-14zM371 598h5v4h-5zM357 612h5v4h-5zM371 616h5v5h-5zM362 639h5v5h-5z" fill="#2b758e" shape-rendering="crispEdges"/>
<path d="M385 579h5v5h-5zM293 644h4v5h-4z" fill="#39558b" shape-rendering="crispEdges"/>
<path d="M269 584h5v4h-5zM362 667h5v5h-5zM311 672h5v4h-5z" fill="#44377f" shape-rendering="crispEdges"/>
<path d="M293 584h4v4h-4z" fill="#39b776" shape-rendering="crispEdges"/>
<path d="M353 584h4v4h-4z" fill="#28ad80" shape-rendering="crispEdges"/>
<path d="M357 584h5v4h-5zM376 612h5v4h-5zM334 653h5v5h-5z" fill="#287c8d" shape-rendering="crispEdges"/>
<path d="M265 588h4v5h-4zM256 593h4v5h-4zM330 667h4v5h-4z" fill="#472a78" shape-rendering="crispEdges"/>
<path d="M293 588h4v5h-4z" fill="#60ca61" shape-rendering="crispEdges"/>
<path d="M353 588h4v5h-4z" fill="#55c567" shape-rendering="crispEdges"/>
<path d="M357 588h5v5h-5zM274 607h5v5h-5zM302 625h4v5h-4z" fill="#22978a" shape-rendering="crispEdges"/>
<path d="M362 588h5v5h-5zM362 593h9v5h-9zM362 598h9v4h-9zM362 602h19v5h-19zM367 607h4v5h-4zM376 616h5v5h-5zM357 639h5v5h-5zM362 644h5v5h-5zM362 649h5v4h-5zM265 653h4v5h-4zM348 653h5v5h-5z" fill="#2a778e" shape-rendering="crispEdges"/>
<path d="M371 588h5v5h-5z" fill="#2b738e" shape-rendering="crispEdges"/>
<path d="M394 588h5v5h-5zM265 639h4v5h-4zM279 639h4v5h-4z" fill="#433980" shape-rendering="crispEdges"/>
<path d="M260 593h5v5h-5zM357 676h5v5h-5z" fill="#472b79" shape-rendering="crispEdges"/>
<path d="M288 593h5v5h-5z" fill="#29af7f" shape-rendering="crispEdges"/>
<path d="M357 593h5v5h-5zM260 616h5v5h-5z" fill="#27a882" shape-rendering="crispEdges"/>
<path d="M399 593h5v5h-5z" fill="#423b81" shape-rendering="crispEdges"/>
<path d="M256 598h4v4h-4z" fill="#404384" shape-rendering="crispEdges"/>
<path d="M288 598h5v4h-5zM316 639h4v5h-4z" fill="#2fb27c" shape-rendering="crispEdges"/>
<path d="M353 598h4v4h-4zM348 612h5v4h-5z" fill="#60c961" shape-rendering="crispEdges"/>
<path d="M357 598h5v4h-5zM353 612h4v4h-4z" fill="#239989" shape-rendering="crispEdges"/>
<path d="M385 598h5v4h-5zM269 630h5v5h-5zM394 635h5v4h-5z" fill="#38588c" shape-rendering="crispEdges"/>
<path d="M265 602h4v5h-4zM362 607h5v5h-5zM302 649h4v4h-4z" fill="#2a768e" shape-rendering="crispEdges"/>
<path d="M293 602h4v5h-4z" fill="#4ec16b" shape-rendering="crispEdges"/>
<path d="M353 602h4v5h-4z" fill="#40ba73" shape-rendering="crispEdges"/>
<path d="M256 607h4v5h-4z" fill="#21908c" shape-rendering="crispEdges"/>
<path d="M260 607h5v5h-5zM279 607h4v5h-4zM288 621h5v4h-5zM330 639h4v5h-4zM265 658h4v4h-4z" fill="#21938b" shape-rendering="crispEdges"/>
<path d="M269 607h5v5h-5zM297 616h5v5h-5zM283 621h5v4h-5zM274 662h5v5h-5zM274 676h5v5h-5z" fill="#239889" shape-rendering="crispEdges"/>
<path d="M293 607h4v5h-4z" fill="#26a584" shape-rendering="crispEdges"/>
<path d="M353 607h4v5h-4zM265 616h4v5h-4z" fill="#27aa82" shape-rendering="crispEdges"/>
<path d="M385 607h5v5h-5zM274 658h5v4h-5z" fill="#24898c" shape-rendering="crispEdges"/>
<path d="M256 612h4v4h-4zM265 621h9v4h-9z" fill="#25a285" shape-rendering="crispEdges"/>
<path d="M260 612h5v4h-5z" fill="#26a484" shape-rendering="crispEdges"/>
<path d="M265 612h9v4h-9zM256 616h4v5h-4z" fill="#26a683" shape-rendering="crispEdges"/>
<path d="M274 612h5v4h-5z" fill="#25a384" shape-rendering="crispEdges"/>
<path d="M293 612h4v4h-4zM279 662h4v5h-4zM279 676h4v5h-4z" fill="#21918c" shape-rendering="crispEdges"/>
<path d="M297 612h5v4h-5z" fill="#36b578" shape-rendering="crispEdges"/>
<path d="M385 612h5v4h-5z" fill="#238a8c" shape-rendering="crispEdges"/>
<path d="M269 616h5v5h-5z" fill="#27a982" shape-rendering="crispEdges"/>
<path d="M274 616h5v5h-5zM339 630h4v5h-4zM320 639h5v5h-5z" fill="#26a783" shape-rendering="crispEdges"/>
<path d="M279 616h4v5h-4z" fill="#25a484" shape-rendering="crispEdges"/>
<path d="M293 616h4v5h-4zM256 658h4v4h-4z" fill="#22938b" shape-rendering="crispEdges"/>
<path d="M302 616h4v5h-4z" fill="#54c467" shape-rendering="crispEdges"/>
<path d="M348 616h5v5h-5z" fill="#2baf7e" shape-rendering="crispEdges"/>
<path d="M260 621h5v4h-5zM334 635h5v4h-5zM260 667h9v5h-9z" fill="#25a185" shape-rendering="crispEdges"/>
<path d="M274 621h5v4h-5zM256 667h4v5h-4zM269 667h5v5h-5z" fill="#25a086" shape-rendering="crispEdges"/>
<path d="M302 621h4v4h-4z" fill="#27ab81" shape-rendering="crispEdges"/>
<path d="M343 621h5v4h-5z" fill="#47bd6f" shape-rendering="crispEdges"/>
<path d="M288 625h5v5h-5zM283 658h5v4h-5z" fill="#29798e" shape-rendering="crispEdges"/>
<path d="M306 625h5v5h-5z" fill="#59c665" shape-rendering="crispEdges"/>
<path d="M339 625h4v5h-4z" fill="#64ca5e" shape-rendering="crispEdges"/>
<path d="M343 625h5v5h-5zM260 672h9v4h-9z" fill="#25a186" shape-rendering="crispEdges"/>
<path d="M399 625h5v5h-5z" fill="#35608c" shape-rendering="crispEdges"/>
<path d="M306 630h5v5h-5z" fill="#32b37a" shape-rendering="crispEdges"/>
<path d="M260 635h5v4h-5zM283 644h5v5h-5z" fill="#404184" shape-rendering="crispEdges"/>
<path d="M283 635h5v4h-5zM357 662h5v5h-5zM311 667h5v5h-5zM306 672h5v4h-5z" fill="#404284" shape-rendering="crispEdges"/>
<path d="M311 635h5v4h-5z" fill="#6dcd59" shape-rendering="crispEdges"/>
<path d="M325 635h5v4h-5z" fill="#71cd56" shape-rendering="crispEdges"/>
<path d="M330 635h4v4h-4z" fill="#50c26a" shape-rendering="crispEdges"/>
<path d="M269 639h10v5h-10zM311 676h5v5h-5z" fill="#433880" shape-rendering="crispEdges"/>
<path d="M306 639h5v5h-5zM283 672h5v4h-5z" fill="#248a8c" shape-rendering="crispEdges"/>
<path d="M311 639h5v5h-5z" fill="#33b47a" shape-rendering="crispEdges"/>
<path d="M334 644h5v5h-5z" fill="#24878d" shape-rendering="crispEdges"/>
<path d="M339 649h4v4h-4z" fill="#25848d" shape-rendering="crispEdges"/>
<path d="M343 653h5v5h-5z" fill="#2a798e" shape-rendering="crispEdges"/>
<path d="M334 658h5v4h-5zM302 662h4v5h-4z" fill="#32648d" shape-rendering="crispEdges"/>
<path d="M339 658h4v4h-4zM367 658h4v4h-4z" fill="#34628c" shape-rendering="crispEdges"/>
<path d="M260 662h5v5h-5z" fill="#249e86" shape-rendering="crispEdges"/>
<path d="M265 662h4v5h-4zM265 676h4v5h-4z" fill="#249e87" shape-rendering="crispEdges"/>
<path d="M269 662h5v5h-5zM274 667h5v5h-5z" fill="#249c87" shape-rendering="crispEdges"/>
<path d="M334 667h5v5h-5z" fill="#472775" shape-rendering="crispEdges"/>
<path d="M339 667h9v5h-9z" fill="#462574" shape-rendering="crispEdges"/>
<path d="M353 667h4v5h-4z" fill="#472a79" shape-rendering="crispEdges"/>
<path d="M274 672h5v4h-5z" fill="#239b88" shape-rendering="crispEdges"/>
<path d="M353 672h4v4h-4z" fill="#462272" shape-rendering="crispEdges"/>
<path d="M357 672h5v4h-5z" fill="#472877" shape-rendering="crispEdges"/>
<path d="M371 672h5v4h-5z" fill="#3f4586" shape-rendering="crispEdges"/>
<path d="M399 672h5v4h-5z" fill="#3b538b" shape-rendering="crispEdges"/>
<path d="M256 676h4v5h-4zM269 676h5v5h-5z" fill="#249c88" shape-rendering="crispEdges"/>
<path d="M320 676h5v5h-5z" fill="#472876" shape-rendering="crispEdges"/>
<path d="M330 676h4v5h-4z" fill="#461f6e" shape-rendering="crispEdges"/>
<path d="M394 676h5v5h-5z" fill="#38578c" shape-rendering="crispEdges"/>
</g>
<rect x="255.5" y="532.8" width="148.0" height="148.0" fill="none" stroke="#222" stroke-width="1.1"/>
<line x1="264.5" y1="680.8" x2="264.5" y2="684.3" stroke="#222" stroke-width="1"/>
<text x="265.1" y="696.4" style="font-family:'Liberation Sans',sans-serif;font-size:10.8px" fill="#000" text-anchor="middle" textLength="15.2" lengthAdjust="spacingAndGlyphs" >−4</text>
<line x1="252.0" y1="671.4" x2="255.5" y2="671.4" stroke="#222" stroke-width="1"/>
<text x="248.9" y="675.3" style="font-family:'Liberation Sans',sans-serif;font-size:10.8px" fill="#000" text-anchor="end" textLength="15.2" lengthAdjust="spacingAndGlyphs" >−4</text>
<line x1="296.8" y1="680.8" x2="296.8" y2="684.3" stroke="#222" stroke-width="1"/>
<text x="297.4" y="696.4" style="font-family:'Liberation Sans',sans-serif;font-size:10.8px" fill="#000" text-anchor="middle" textLength="15.2" lengthAdjust="spacingAndGlyphs" >−2</text>
<line x1="252.0" y1="639.1" x2="255.5" y2="639.1" stroke="#222" stroke-width="1"/>
<text x="248.9" y="643.0" style="font-family:'Liberation Sans',sans-serif;font-size:10.8px" fill="#000" text-anchor="end" textLength="15.2" lengthAdjust="spacingAndGlyphs" >−2</text>
<line x1="329.1" y1="680.8" x2="329.1" y2="684.3" stroke="#222" stroke-width="1"/>
<text x="329.1" y="696.4" style="font-family:'Liberation Sans',sans-serif;font-size:10.8px" fill="#000" text-anchor="middle" >0</text>
<line x1="252.0" y1="606.8" x2="255.5" y2="606.8" stroke="#222" stroke-width="1"/>
<text x="248.9" y="610.7" style="font-family:'Liberation Sans',sans-serif;font-size:10.8px" fill="#000" text-anchor="end" >0</text>
<line x1="361.5" y1="680.8" x2="361.5" y2="684.3" stroke="#222" stroke-width="1"/>
<text x="361.5" y="696.4" style="font-family:'Liberation Sans',sans-serif;font-size:10.8px" fill="#000" text-anchor="middle" >2</text>
<line x1="252.0" y1="574.5" x2="255.5" y2="574.5" stroke="#222" stroke-width="1"/>
<text x="248.9" y="578.4" style="font-family:'Liberation Sans',sans-serif;font-size:10.8px" fill="#000" text-anchor="end" >2</text>
<line x1="393.8" y1="680.8" x2="393.8" y2="684.3" stroke="#222" stroke-width="1"/>
<text x="393.8" y="696.4" style="font-family:'Liberation Sans',sans-serif;font-size:10.8px" fill="#000" text-anchor="middle" >4</text>
<line x1="252.0" y1="542.2" x2="255.5" y2="542.2" stroke="#222" stroke-width="1"/>
<text x="248.9" y="546.1" style="font-family:'Liberation Sans',sans-serif;font-size:10.8px" fill="#000" text-anchor="end" >4</text>
<text x="329.1" y="525.6" style="font-family:'Liberation Sans',sans-serif;font-size:11.9px" fill="#000" text-anchor="middle" textLength="82.0" lengthAdjust="spacingAndGlyphs" >Lineflux Map</text>
<text x="328.2" y="706.7" style="font-family:'Liberation Sans',sans-serif;font-size:10.6px" fill="#000" text-anchor="middle" textLength="99.6" lengthAdjust="spacingAndGlyphs" >s/b: 8.49 +/- 0.081</text>
<rect x="280.7" y="558.3" width="97.0" height="97.0" fill="none" stroke="#ff0000" stroke-width="1.2"/>
<text x="329.1" y="546.6" style="font-family:'Liberation Sans',sans-serif;font-size:10.8px" fill="#ff0000" text-anchor="middle" >N</text>
<text x="265.8" y="610.4" style="font-family:'Liberation Sans',sans-serif;font-size:10.8px" fill="#ff0000" text-anchor="middle" >E</text>
<line x1="292.1" y1="606.8" x2="321.1" y2="606.8" stroke="#ff0000" stroke-width="1.3"/>
<line x1="329.1" y1="569.8" x2="329.1" y2="598.8" stroke="#ff0000" stroke-width="1.3"/>
<line x1="337.1" y1="606.8" x2="366.1" y2="606.8" stroke="#ff0000" stroke-width="1.3"/>
<line x1="329.1" y1="614.8" x2="329.1" y2="643.8" stroke="#ff0000" stroke-width="1.3"/>
<g clip-path="url(#pc2)">
<path d="M510 588h9v5h-9zM501 593h28v5h-28zM496 598h33v4h-33zM496 602h37v5h-37zM492 607h41v5h-41zM492 612h41v4h-41zM496 616h37v5h-37zM496 621h33v4h-33zM506 625h18v5h-18z" fill="rgb(0,0,0)" shape-rendering="crispEdges"/>
<path d="M529 598h4v4h-4zM501 625h5v5h-5z" fill="rgb(8,8,8)" shape-rendering="crispEdges"/>
<path d="M506 588h4v5h-4zM492 602h4v5h-4z" fill="rgb(16,16,16)" shape-rendering="crispEdges"/>
<path d="M519 588h5v5h-5z" fill="rgb(41,41,41)" shape-rendering="crispEdges"/>
<path d="M496 593h5v5h-5zM492 616h4v5h-4z" fill="rgb(49,49,49)" shape-rendering="crispEdges"/>
<path d="M529 621h4v4h-4zM524 625h5v5h-5z" fill="rgb(58,58,58)" shape-rendering="crispEdges"/>
<path d="M501 588h5v5h-5zM492 598h4v4h-4zM533 607h5v5h-5zM533 612h5v4h-5zM510 630h5v5h-5z" fill="rgb(74,74,74)" shape-rendering="crispEdges"/>
<path d="M515 630h4v5h-4z" fill="rgb(82,82,82)" shape-rendering="crispEdges"/>
<path d="M533 602h5v5h-5zM506 630h4v5h-4z" fill="rgb(90,90,90)" shape-rendering="crispEdges"/>
<path d="M529 593h4v5h-4zM496 625h5v5h-5z" fill="rgb(99,99,99)" shape-rendering="crispEdges"/>
<path d="M524 588h5v5h-5zM533 616h5v5h-5z" fill="rgb(107,107,107)" shape-rendering="crispEdges"/>
<path d="M492 621h4v4h-4zM519 630h5v5h-5z" fill="rgb(115,115,115)" shape-rendering="crispEdges"/>
<path d="M510 584h9v4h-9zM533 598h5v4h-5zM487 607h5v5h-5zM501 630h5v5h-5z" fill="rgb(132,132,132)" shape-rendering="crispEdges"/>
<path d="M496 588h5v5h-5zM492 593h4v5h-4zM487 612h5v4h-5zM529 625h4v5h-4z" fill="rgb(140,140,140)" shape-rendering="crispEdges"/>
<path d="M506 584h4v4h-4zM487 602h5v5h-5z" fill="rgb(148,148,148)" shape-rendering="crispEdges"/>
<path d="M519 584h5v4h-5zM533 621h5v4h-5zM524 630h5v5h-5z" fill="rgb(156,156,156)" shape-rendering="crispEdges"/>
<path d="M529 588h4v5h-4zM487 616h5v5h-5zM492 625h4v5h-4z" fill="rgb(165,165,165)" shape-rendering="crispEdges"/>
<path d="M501 584h5v4h-5zM533 593h5v5h-5zM487 598h5v4h-5zM538 607h5v5h-5zM510 635h5v4h-5zM580 639h4v5h-4zM575 644h9v5h-9z" fill="rgb(173,173,173)" shape-rendering="crispEdges"/>
<path d="M538 602h5v5h-5zM538 612h5v4h-5zM487 621h5v4h-5zM496 630h5v5h-5zM506 635h4v4h-4zM515 635h4v4h-4zM575 639h5v5h-5zM584 639h5v5h-5zM584 644h5v5h-5zM575 649h9v4h-9z" fill="rgb(181,181,181)" shape-rendering="crispEdges"/>
<path d="M524 584h5v4h-5zM492 588h4v5h-4zM538 616h5v5h-5zM533 625h5v5h-5zM529 630h4v5h-4zM570 635h19v4h-19zM570 639h5v5h-5zM570 644h5v5h-5zM570 649h5v4h-5zM584 649h5v4h-5zM580 653h4v5h-4z" fill="rgb(189,189,189)" shape-rendering="crispEdges"/>
<path d="M496 584h5v4h-5zM487 593h5v5h-5zM538 598h5v4h-5zM580 630h4v5h-4zM501 635h5v4h-5zM519 635h5v4h-5zM566 639h4v5h-4zM566 644h4v5h-4zM575 653h5v5h-5zM584 653h5v5h-5z" fill="rgb(197,197,197)" shape-rendering="crispEdges"/>
<path d="M506 579h13v5h-13zM482 602h5v5h-5zM482 607h5v5h-5zM482 612h5v4h-5zM538 621h5v4h-5zM492 630h4v5h-4zM570 630h10v5h-10zM584 630h5v5h-5zM524 635h5v4h-5zM566 635h4v4h-4zM566 649h4v4h-4zM566 653h9v5h-9zM575 658h9v4h-9z" fill="rgb(206,206,206)" shape-rendering="crispEdges"/>
<path d="M519 579h5v5h-5zM529 584h4v4h-4zM533 588h5v5h-5zM482 616h5v5h-5zM487 625h5v5h-5zM575 625h9v5h-9zM566 630h4v5h-4zM561 639h5v5h-5zM561 644h5v5h-5zM570 658h5v4h-5zM584 658h5v4h-5z" fill="rgb(214,214,214)" shape-rendering="crispEdges"/>
<path d="M501 579h5v5h-5zM524 579h5v5h-5zM492 584h4v4h-4zM487 588h5v5h-5zM538 593h5v5h-5zM482 598h5v4h-5zM543 602h4v5h-4zM543 607h4v5h-4zM543 612h4v4h-4zM543 616h4v5h-4zM482 621h5v4h-5zM580 621h4v4h-4zM538 625h5v5h-5zM570 625h5v5h-5zM584 625h5v5h-5zM533 630h5v5h-5zM496 635h5v4h-5zM529 635h4v4h-4zM561 635h5v4h-5zM510 639h9v5h-9zM556 644h5v5h-5zM561 649h5v4h-5zM561 653h5v5h-5zM566 658h4v4h-4zM570 662h19v5h-19z" fill="rgb(222,222,222)" shape-rendering="crispEdges"/>
<path d="M506 574h4v5h-4zM515 574h4v5h-4zM496 579h5v5h-5zM529 579h4v5h-4zM533 584h5v4h-5zM538 588h5v5h-5zM482 593h5v5h-5zM543 598h4v4h-4zM478 607h4v5h-4zM478 612h4v4h-4zM543 621h4v4h-4zM566 621h14v4h-14zM584 621h5v4h-5zM561 625h9v5h-9zM487 630h5v5h-5zM556 630h10v5h-10zM492 635h4v4h-4zM556 635h5v4h-5zM501 639h9v5h-9zM519 639h10v5h-10zM556 639h5v5h-5zM556 649h5v4h-5zM556 653h5v5h-5zM561 658h5v4h-5zM566 662h4v5h-4zM584 667h5v5h-5z" fill="rgb(230,230,230)" shape-rendering="crispEdges"/>
<path d="M496 533h5v4h-5zM510 533h5v4h-5zM580 537h4v5h-4zM496 542h5v5h-5zM445 547h10v4h-10zM543 551h9v5h-9zM510 556h5v5h-5zM524 556h5v5h-5zM570 556h5v5h-5zM450 561h5v4h-5zM473 561h5v4h-5zM496 561h5v4h-5zM487 565h5v5h-5zM561 565h5v5h-5zM510 570h9v4h-9zM556 570h5v4h-5zM580 570h4v4h-4zM441 574h4v5h-4zM496 574h10v5h-10zM510 574h5v5h-5zM519 574h14v5h-14zM450 579h5v5h-5zM487 579h9v5h-9zM533 579h5v5h-5zM561 579h5v5h-5zM482 584h10v4h-10zM538 584h5v4h-5zM473 588h14v5h-14zM478 593h4v5h-4zM543 593h4v5h-4zM468 598h5v4h-5zM478 598h4v4h-4zM547 598h5v4h-5zM468 602h5v5h-5zM478 602h4v5h-4zM547 602h5v5h-5zM459 607h5v5h-5zM473 607h5v5h-5zM547 607h9v5h-9zM584 607h5v5h-5zM547 612h5v4h-5zM566 612h14v4h-14zM450 616h5v5h-5zM478 616h4v5h-4zM547 616h5v5h-5zM561 616h28v5h-28zM468 621h5v4h-5zM478 621h4v4h-4zM547 621h5v4h-5zM556 621h10v4h-10zM441 625h4v5h-4zM482 625h5v5h-5zM543 625h9v5h-9zM556 625h5v5h-5zM478 630h9v5h-9zM538 630h18v5h-18zM455 635h4v4h-4zM468 635h5v4h-5zM482 635h10v4h-10zM533 635h10v4h-10zM547 635h9v4h-9zM441 639h4v5h-4zM473 639h5v5h-5zM496 639h5v5h-5zM529 639h4v5h-4zM538 639h5v5h-5zM552 639h4v5h-4zM501 644h23v5h-23zM529 644h4v5h-4zM547 644h9v5h-9zM552 649h4v4h-4zM519 653h5v5h-5zM547 653h9v5h-9zM445 658h5v4h-5zM552 658h9v4h-9zM496 662h5v5h-5zM556 662h10v5h-10zM473 667h5v5h-5zM561 667h23v5h-23zM492 672h4v4h-4zM561 672h28v4h-28zM468 676h5v5h-5zM547 676h5v5h-5zM570 676h5v5h-5z" fill="rgb(239,239,239)" shape-rendering="crispEdges"/>
<path d="M441 533h9v4h-9zM455 533h41v4h-41zM501 533h9v4h-9zM515 533h69v4h-69zM441 537h120v5h-120zM566 537h14v5h-14zM584 537h5v5h-5zM441 542h55v5h-55zM501 542h88v5h-88zM441 547h4v4h-4zM455 547h41v4h-41zM501 547h88v4h-88zM441 551h102v5h-102zM552 551h37v5h-37zM441 556h69v5h-69zM515 556h9v5h-9zM529 556h41v5h-41zM575 556h14v5h-14zM441 561h9v4h-9zM455 561h18v4h-18zM478 561h18v4h-18zM501 561h88v4h-88zM441 565h46v5h-46zM492 565h51v5h-51zM547 565h14v5h-14zM566 565h23v5h-23zM441 570h69v4h-69zM519 570h37v4h-37zM561 570h19v4h-19zM584 570h5v4h-5zM445 574h51v5h-51zM533 574h56v5h-56zM441 579h9v5h-9zM455 579h32v5h-32zM538 579h23v5h-23zM566 579h23v5h-23zM441 584h41v4h-41zM543 584h46v4h-46zM441 588h32v5h-32zM543 588h46v5h-46zM441 593h37v5h-37zM547 593h37v5h-37zM441 598h27v4h-27zM473 598h5v4h-5zM552 598h37v4h-37zM441 602h27v5h-27zM473 602h5v5h-5zM552 602h37v5h-37zM441 607h18v5h-18zM464 607h9v5h-9zM556 607h28v5h-28zM441 612h37v4h-37zM552 612h14v4h-14zM580 612h9v4h-9zM441 616h9v5h-9zM455 616h23v5h-23zM552 616h9v5h-9zM441 621h27v4h-27zM473 621h5v4h-5zM552 621h4v4h-4zM445 625h37v5h-37zM552 625h4v5h-4zM441 630h37v5h-37zM441 635h14v4h-14zM459 635h9v4h-9zM473 635h9v4h-9zM543 635h4v4h-4zM445 639h28v5h-28zM482 639h14v5h-14zM533 639h5v5h-5zM543 639h9v5h-9zM441 644h60v5h-60zM524 644h5v5h-5zM533 644h14v5h-14zM441 649h111v4h-111zM441 653h78v5h-78zM524 653h23v5h-23zM441 658h4v4h-4zM450 658h102v4h-102zM441 662h55v5h-55zM501 662h55v5h-55zM441 667h32v5h-32zM478 667h83v5h-83zM441 672h51v4h-51zM496 672h65v4h-65zM441 676h27v5h-27zM473 676h74v5h-74zM552 676h18v5h-18zM575 676h14v5h-14z" fill="rgb(247,247,247)" shape-rendering="crispEdges"/>
<path d="M450 533h5v4h-5zM584 533h5v4h-5zM561 537h5v5h-5zM496 547h5v4h-5zM543 565h4v5h-4zM584 593h5v5h-5zM478 639h4v5h-4z" fill="rgb(255,255,255)" shape-rendering="crispEdges"/>
<circle cx="513.9" cy="611.3" r="42" fill="none" stroke="#ffd700" stroke-width="1.3"/>
<line x1="477.4" y1="606.8" x2="506.4" y2="606.8" stroke="#ff0000" stroke-width="1.3"/>
<line x1="514.4" y1="569.8" x2="514.4" y2="598.8" stroke="#ff0000" stroke-width="1.3"/>
<line x1="522.4" y1="606.8" x2="551.4" y2="606.8" stroke="#ff0000" stroke-width="1.3"/>
<line x1="514.4" y1="614.8" x2="514.4" y2="643.8" stroke="#ff0000" stroke-width="1.3"/>
</g>
<rect x="440.7" y="532.8" width="148.0" height="148.0" fill="none" stroke="#222" stroke-width="1.1"/>
<line x1="449.7" y1="680.8" x2="449.7" y2="684.3" stroke="#222" stroke-width="1"/>
<text x="450.3" y="696.4" style="font-family:'Liberation Sans',sans-serif;font-size:10.8px" fill="#000" text-anchor="middle" textLength="15.2" lengthAdjust="spacingAndGlyphs" >−4</text>
<line x1="437.2" y1="671.4" x2="440.7" y2="671.4" stroke="#222" stroke-width="1"/>
<text x="434.1" y="675.3" style="font-family:'Liberation Sans',sans-serif;font-size:10.8px" fill="#000" text-anchor="end" textLength="15.2" lengthAdjust="spacingAndGlyphs" >−4</text>
<line x1="482.0" y1="680.8" x2="482.0" y2="684.3" stroke="#222" stroke-width="1"/>
<text x="482.6" y="696.4" style="font-family:'Liberation Sans',sans-serif;font-size:10.8px" fill="#000" text-anchor="middle" textLength="15.2" lengthAdjust="spacingAndGlyphs" >−2</text>
<line x1="437.2" y1="639.1" x2="440.7" y2="639.1" stroke="#222" stroke-width="1"/>
<text x="434.1" y="643.0" style="font-family:'Liberation Sans',sans-serif;font-size:10.8px" fill="#000" text-anchor="end" textLength="15.2" lengthAdjust="spacingAndGlyphs" >−2</text>
<line x1="514.4" y1="680.8" x2="514.4" y2="684.3" stroke="#222" stroke-width="1"/>
<text x="514.4" y="696.4" style="font-family:'Liberation Sans',sans-serif;font-size:10.8px" fill="#000" text-anchor="middle" >0</text>
<line x1="437.2" y1="606.8" x2="440.7" y2="606.8" stroke="#222" stroke-width="1"/>
<text x="434.1" y="610.7" style="font-family:'Liberation Sans',sans-serif;font-size:10.8px" fill="#000" text-anchor="end" >0</text>
<line x1="546.7" y1="680.8" x2="546.7" y2="684.3" stroke="#222" stroke-width="1"/>
<text x="546.7" y="696.4" style="font-family:'Liberation Sans',sans-serif;font-size:10.8px" fill="#000" text-anchor="middle" >2</text>
<line x1="437.2" y1="574.5" x2="440.7" y2="574.5" stroke="#222" stroke-width="1"/>
<text x="434.1" y="578.4" style="font-family:'Liberation Sans',sans-serif;font-size:10.8px" fill="#000" text-anchor="end" >2</text>
<line x1="579.0" y1="680.8" x2="579.0" y2="684.3" stroke="#222" stroke-width="1"/>
<text x="579.0" y="696.4" style="font-family:'Liberation Sans',sans-serif;font-size:10.8px" fill="#000" text-anchor="middle" >4</text>
<line x1="437.2" y1="542.2" x2="440.7" y2="542.2" stroke="#222" stroke-width="1"/>
<text x="434.1" y="546.1" style="font-family:'Liberation Sans',sans-serif;font-size:10.8px" fill="#000" text-anchor="end" >4</text>
<text x="514.4" y="525.6" style="font-family:'Liberation Sans',sans-serif;font-size:11.9px" fill="#000" text-anchor="middle" textLength="101.5" lengthAdjust="spacingAndGlyphs" >DECaLS(24.0) g</text>
<text x="514.4" y="707.4" style="font-family:'Liberation Sans',sans-serif;font-size:10.6px" fill="#000" text-anchor="middle" textLength="118.9" lengthAdjust="spacingAndGlyphs" >m:18.4  re:2.6"  s:0.3"</text>
<text x="516.1" y="718.5" style="font-family:'Liberation Sans',sans-serif;font-size:10.6px" fill="#000" text-anchor="middle" textLength="106.2" lengthAdjust="spacingAndGlyphs" >EWr: 1, PLAE: 547.5</text>
<rect x="465.9" y="558.3" width="97.0" height="97.0" fill="none" stroke="#ff0000" stroke-width="1.2"/>
<text x="514.4" y="546.6" style="font-family:'Liberation Sans',sans-serif;font-size:10.8px" fill="#ff0000" text-anchor="middle" >N</text>
<text x="451.0" y="610.4" style="font-family:'Liberation Sans',sans-serif;font-size:10.8px" fill="#ff0000" text-anchor="middle" >E</text>
<g clip-path="url(#pc3)">
<path d="M695 588h10v5h-10zM686 593h28v5h-28zM681 598h33v4h-33zM681 602h37v5h-37zM677 607h41v5h-41zM677 612h41v4h-41zM681 616h37v5h-37zM681 621h33v4h-33zM691 625h18v5h-18z" fill="rgb(0,0,0)" shape-rendering="crispEdges"/>
<path d="M714 598h4v4h-4zM686 625h5v5h-5z" fill="rgb(8,8,8)" shape-rendering="crispEdges"/>
<path d="M691 588h4v5h-4zM677 602h4v5h-4z" fill="rgb(16,16,16)" shape-rendering="crispEdges"/>
<path d="M705 588h4v5h-4zM681 593h5v5h-5zM677 616h4v5h-4z" fill="rgb(49,49,49)" shape-rendering="crispEdges"/>
<path d="M714 621h4v4h-4zM709 625h5v5h-5z" fill="rgb(58,58,58)" shape-rendering="crispEdges"/>
<path d="M718 607h5v5h-5z" fill="rgb(66,66,66)" shape-rendering="crispEdges"/>
<path d="M686 588h5v5h-5zM677 598h4v4h-4zM718 612h5v4h-5zM695 630h5v5h-5z" fill="rgb(74,74,74)" shape-rendering="crispEdges"/>
<path d="M700 630h5v5h-5z" fill="rgb(82,82,82)" shape-rendering="crispEdges"/>
<path d="M718 602h5v5h-5zM691 630h4v5h-4z" fill="rgb(90,90,90)" shape-rendering="crispEdges"/>
<path d="M714 593h4v5h-4zM681 625h5v5h-5z" fill="rgb(99,99,99)" shape-rendering="crispEdges"/>
<path d="M709 588h5v5h-5zM718 616h5v5h-5z" fill="rgb(107,107,107)" shape-rendering="crispEdges"/>
<path d="M677 621h4v4h-4zM705 630h4v5h-4z" fill="rgb(115,115,115)" shape-rendering="crispEdges"/>
<path d="M695 584h10v4h-10zM718 598h5v4h-5zM672 607h5v5h-5zM686 630h5v5h-5z" fill="rgb(132,132,132)" shape-rendering="crispEdges"/>
<path d="M691 584h4v4h-4zM681 588h5v5h-5zM677 593h4v5h-4zM672 612h5v4h-5zM714 625h4v5h-4z" fill="rgb(140,140,140)" shape-rendering="crispEdges"/>
<path d="M672 602h5v5h-5z" fill="rgb(148,148,148)" shape-rendering="crispEdges"/>
<path d="M705 584h4v4h-4zM672 616h5v5h-5zM718 621h5v4h-5zM709 630h5v5h-5z" fill="rgb(156,156,156)" shape-rendering="crispEdges"/>
<path d="M714 588h4v5h-4z" fill="rgb(165,165,165)" shape-rendering="crispEdges"/>
<path d="M686 584h5v4h-5zM718 593h5v5h-5zM672 598h5v4h-5zM723 607h5v5h-5zM677 625h4v5h-4zM681 630h5v5h-5zM695 635h5v4h-5zM760 639h9v5h-9zM760 644h9v5h-9z" fill="rgb(173,173,173)" shape-rendering="crispEdges"/>
<path d="M709 584h5v4h-5zM723 602h5v5h-5zM723 612h5v4h-5zM691 635h4v4h-4zM700 635h5v4h-5zM769 639h5v5h-5zM756 644h4v5h-4zM769 644h5v5h-5zM760 649h9v4h-9z" fill="rgb(181,181,181)" shape-rendering="crispEdges"/>
<path d="M677 588h4v5h-4zM723 616h5v5h-5zM672 621h5v4h-5zM718 625h5v5h-5zM714 630h4v5h-4zM705 635h4v4h-4zM760 635h14v4h-14zM756 639h4v5h-4zM756 649h4v4h-4zM769 649h5v4h-5zM765 653h4v5h-4z" fill="rgb(189,189,189)" shape-rendering="crispEdges"/>
<path d="M681 584h5v4h-5zM672 593h5v5h-5zM723 598h5v4h-5zM765 630h4v5h-4zM686 635h5v4h-5zM756 635h4v4h-4zM751 639h5v5h-5zM760 653h5v5h-5zM769 653h5v5h-5z" fill="rgb(197,197,197)" shape-rendering="crispEdges"/>
<path d="M691 579h14v5h-14zM714 584h4v4h-4zM718 588h5v5h-5zM668 602h4v5h-4zM668 607h4v5h-4zM668 612h4v4h-4zM677 630h4v5h-4zM756 630h9v5h-9zM769 630h5v5h-5zM709 635h5v4h-5zM751 635h5v4h-5zM751 644h5v5h-5zM751 649h5v4h-5zM756 653h4v5h-4z" fill="rgb(206,206,206)" shape-rendering="crispEdges"/>
<path d="M705 579h4v5h-4zM668 598h4v4h-4zM668 616h4v5h-4zM723 621h5v4h-5zM672 625h5v5h-5zM760 625h14v5h-14zM681 635h5v4h-5zM746 644h5v5h-5zM746 649h5v4h-5zM751 653h5v5h-5zM756 658h13v4h-13z" fill="rgb(214,214,214)" shape-rendering="crispEdges"/>
<path d="M686 579h5v5h-5zM709 579h5v5h-5zM677 584h4v4h-4zM672 588h5v5h-5zM723 593h5v5h-5zM728 602h4v5h-4zM728 607h4v5h-4zM728 612h4v4h-4zM668 621h4v4h-4zM723 625h5v5h-5zM751 625h9v5h-9zM718 630h5v5h-5zM751 630h5v5h-5zM714 635h4v4h-4zM746 635h5v4h-5zM695 639h10v5h-10zM746 639h5v5h-5zM742 644h4v5h-4zM746 653h5v5h-5zM751 658h5v4h-5zM769 658h5v4h-5zM760 662h9v5h-9z" fill="rgb(222,222,222)" shape-rendering="crispEdges"/>
<path d="M695 574h10v5h-10zM681 579h5v5h-5zM714 579h4v5h-4zM672 584h5v4h-5zM718 584h5v4h-5zM723 588h5v5h-5zM668 593h4v5h-4zM728 593h4v5h-4zM728 598h4v4h-4zM663 612h5v4h-5zM663 616h5v5h-5zM728 616h4v5h-4zM760 616h5v5h-5zM728 621h4v4h-4zM756 621h18v4h-18zM746 625h5v5h-5zM672 630h5v5h-5zM742 630h9v5h-9zM677 635h4v4h-4zM742 635h4v4h-4zM686 639h9v5h-9zM705 639h4v5h-4zM742 639h4v5h-4zM742 649h4v4h-4zM742 653h4v5h-4zM746 658h5v4h-5zM751 662h9v5h-9zM769 662h5v5h-5zM760 667h5v5h-5z" fill="rgb(230,230,230)" shape-rendering="crispEdges"/>
<path d="M756 537h4v5h-4zM765 537h4v5h-4zM658 542h5v5h-5zM668 542h9v5h-9zM746 542h5v5h-5zM640 547h4v4h-4zM658 547h5v4h-5zM691 547h4v4h-4zM631 565h4v5h-4zM668 565h4v5h-4zM686 565h5v5h-5zM635 570h5v4h-5zM695 570h14v4h-14zM677 574h18v5h-18zM705 574h13v5h-13zM635 579h5v5h-5zM672 579h9v5h-9zM718 579h10v5h-10zM756 579h4v5h-4zM765 579h4v5h-4zM658 584h5v4h-5zM723 584h5v4h-5zM626 588h5v5h-5zM668 588h4v5h-4zM728 588h4v5h-4zM765 588h4v5h-4zM732 593h5v5h-5zM746 593h10v5h-10zM663 598h5v4h-5zM732 598h5v4h-5zM751 598h5v4h-5zM769 598h5v4h-5zM663 602h5v5h-5zM732 602h5v5h-5zM769 602h5v5h-5zM631 607h4v5h-4zM654 607h4v5h-4zM663 607h5v5h-5zM732 607h5v5h-5zM732 612h5v4h-5zM751 612h5v4h-5zM760 612h14v4h-14zM658 616h5v5h-5zM732 616h5v5h-5zM746 616h14v5h-14zM765 616h9v5h-9zM631 621h4v4h-4zM663 621h5v4h-5zM732 621h24v4h-24zM649 625h5v5h-5zM663 625h9v5h-9zM728 625h4v5h-4zM737 625h9v5h-9zM663 630h5v5h-5zM723 630h5v5h-5zM737 630h5v5h-5zM672 635h5v4h-5zM718 635h14v4h-14zM737 635h5v4h-5zM635 639h5v5h-5zM672 639h5v5h-5zM681 639h5v5h-5zM709 639h9v5h-9zM732 639h10v5h-10zM681 644h24v5h-24zM728 644h4v5h-4zM737 644h5v5h-5zM668 649h4v4h-4zM691 649h4v4h-4zM732 649h10v4h-10zM672 653h5v5h-5zM691 653h4v5h-4zM723 653h5v5h-5zM737 653h5v5h-5zM732 658h14v4h-14zM686 662h5v5h-5zM742 662h9v5h-9zM686 667h5v5h-5zM746 667h14v5h-14zM765 667h9v5h-9zM728 672h4v4h-4zM751 672h18v4h-18zM663 676h5v5h-5zM695 676h5v5h-5zM723 676h5v5h-5zM756 676h4v5h-4zM765 676h4v5h-4z" fill="rgb(239,239,239)" shape-rendering="crispEdges"/>
<path d="M626 533h148v4h-148zM626 537h130v5h-130zM760 537h5v5h-5zM769 537h5v5h-5zM626 542h32v5h-32zM663 542h5v5h-5zM677 542h69v5h-69zM751 542h23v5h-23zM626 547h14v4h-14zM644 547h14v4h-14zM663 547h28v4h-28zM695 547h79v4h-79zM626 551h148v5h-148zM626 556h148v5h-148zM626 561h148v4h-148zM626 565h5v5h-5zM635 565h9v5h-9zM649 565h19v5h-19zM672 565h14v5h-14zM691 565h83v5h-83zM626 570h9v4h-9zM640 570h55v4h-55zM709 570h65v4h-65zM626 574h51v5h-51zM718 574h56v5h-56zM626 579h9v5h-9zM640 579h32v5h-32zM728 579h28v5h-28zM760 579h5v5h-5zM769 579h5v5h-5zM626 584h32v4h-32zM663 584h9v4h-9zM728 584h46v4h-46zM631 588h37v5h-37zM732 588h33v5h-33zM769 588h5v5h-5zM626 593h42v5h-42zM737 593h9v5h-9zM756 593h18v5h-18zM626 598h37v4h-37zM737 598h14v4h-14zM756 598h13v4h-13zM626 602h37v5h-37zM737 602h32v5h-32zM626 607h5v5h-5zM635 607h19v5h-19zM658 607h5v5h-5zM737 607h37v5h-37zM626 612h37v4h-37zM737 612h14v4h-14zM756 612h4v4h-4zM626 616h32v5h-32zM737 616h9v5h-9zM626 621h5v4h-5zM635 621h28v4h-28zM626 625h23v5h-23zM654 625h9v5h-9zM732 625h5v5h-5zM626 630h37v5h-37zM668 630h4v5h-4zM728 630h9v5h-9zM626 635h46v4h-46zM732 635h5v4h-5zM626 639h9v5h-9zM640 639h32v5h-32zM677 639h4v5h-4zM718 639h14v5h-14zM626 644h55v5h-55zM705 644h23v5h-23zM732 644h5v5h-5zM626 649h42v4h-42zM672 649h19v4h-19zM695 649h37v4h-37zM626 653h46v5h-46zM677 653h14v5h-14zM695 653h28v5h-28zM728 653h9v5h-9zM626 658h106v4h-106zM626 662h60v5h-60zM691 662h51v5h-51zM626 667h60v5h-60zM691 667h55v5h-55zM626 672h102v4h-102zM732 672h19v4h-19zM769 672h5v4h-5zM626 676h37v5h-37zM668 676h27v5h-27zM700 676h23v5h-23zM728 676h28v5h-28zM760 676h5v5h-5zM769 676h5v5h-5z" fill="rgb(247,247,247)" shape-rendering="crispEdges"/>
<path d="M644 565h5v5h-5z" fill="rgb(255,255,255)" shape-rendering="crispEdges"/>
<circle cx="699.0" cy="611.3" r="42" fill="none" stroke="#ffd700" stroke-width="1.3"/>
<line x1="662.5" y1="606.8" x2="691.5" y2="606.8" stroke="#ff0000" stroke-width="1.3"/>
<line x1="699.5" y1="569.8" x2="699.5" y2="598.8" stroke="#ff0000" stroke-width="1.3"/>
<line x1="707.5" y1="606.8" x2="736.5" y2="606.8" stroke="#ff0000" stroke-width="1.3"/>
<line x1="699.5" y1="614.8" x2="699.5" y2="643.8" stroke="#ff0000" stroke-width="1.3"/>
</g>
<rect x="625.8999999999999" y="532.8" width="148.0" height="148.0" fill="none" stroke="#222" stroke-width="1.1"/>
<line x1="634.9" y1="680.8" x2="634.9" y2="684.3" stroke="#222" stroke-width="1"/>
<text x="635.5" y="696.4" style="font-family:'Liberation Sans',sans-serif;font-size:10.8px" fill="#000" text-anchor="middle" textLength="15.2" lengthAdjust="spacingAndGlyphs" >−4</text>
<line x1="622.4" y1="671.4" x2="625.9" y2="671.4" stroke="#222" stroke-width="1"/>
<text x="619.3" y="675.3" style="font-family:'Liberation Sans',sans-serif;font-size:10.8px" fill="#000" text-anchor="end" textLength="15.2" lengthAdjust="spacingAndGlyphs" >−4</text>
<line x1="667.2" y1="680.8" x2="667.2" y2="684.3" stroke="#222" stroke-width="1"/>
<text x="667.8" y="696.4" style="font-family:'Liberation Sans',sans-serif;font-size:10.8px" fill="#000" text-anchor="middle" textLength="15.2" lengthAdjust="spacingAndGlyphs" >−2</text>
<line x1="622.4" y1="639.1" x2="625.9" y2="639.1" stroke="#222" stroke-width="1"/>
<text x="619.3" y="643.0" style="font-family:'Liberation Sans',sans-serif;font-size:10.8px" fill="#000" text-anchor="end" textLength="15.2" lengthAdjust="spacingAndGlyphs" >−2</text>
<line x1="699.5" y1="680.8" x2="699.5" y2="684.3" stroke="#222" stroke-width="1"/>
<text x="699.5" y="696.4" style="font-family:'Liberation Sans',sans-serif;font-size:10.8px" fill="#000" text-anchor="middle" >0</text>
<line x1="622.4" y1="606.8" x2="625.9" y2="606.8" stroke="#222" stroke-width="1"/>
<text x="619.3" y="610.7" style="font-family:'Liberation Sans',sans-serif;font-size:10.8px" fill="#000" text-anchor="end" >0</text>
<line x1="731.9" y1="680.8" x2="731.9" y2="684.3" stroke="#222" stroke-width="1"/>
<text x="731.9" y="696.4" style="font-family:'Liberation Sans',sans-serif;font-size:10.8px" fill="#000" text-anchor="middle" >2</text>
<line x1="622.4" y1="574.5" x2="625.9" y2="574.5" stroke="#222" stroke-width="1"/>
<text x="619.3" y="578.4" style="font-family:'Liberation Sans',sans-serif;font-size:10.8px" fill="#000" text-anchor="end" >2</text>
<line x1="764.2" y1="680.8" x2="764.2" y2="684.3" stroke="#222" stroke-width="1"/>
<text x="764.2" y="696.4" style="font-family:'Liberation Sans',sans-serif;font-size:10.8px" fill="#000" text-anchor="middle" >4</text>
<line x1="622.4" y1="542.2" x2="625.9" y2="542.2" stroke="#222" stroke-width="1"/>
<text x="619.3" y="546.1" style="font-family:'Liberation Sans',sans-serif;font-size:10.8px" fill="#000" text-anchor="end" >4</text>
<text x="699.5" y="525.6" style="font-family:'Liberation Sans',sans-serif;font-size:11.9px" fill="#000" text-anchor="middle" textLength="98.1" lengthAdjust="spacingAndGlyphs" >DECaLS(24.0) r</text>
<text x="699.5" y="707.4" style="font-family:'Liberation Sans',sans-serif;font-size:10.6px" fill="#000" text-anchor="middle" textLength="118.9" lengthAdjust="spacingAndGlyphs" >m:17.6  re:2.6"  s:0.3"</text>
<text x="701.3" y="718.5" style="font-family:'Liberation Sans',sans-serif;font-size:10.6px" fill="#000" text-anchor="middle" textLength="106.2" lengthAdjust="spacingAndGlyphs" >EWr: 1, PLAE: 473.5</text>
<rect x="651.1" y="558.3" width="97.0" height="97.0" fill="none" stroke="#ff0000" stroke-width="1.2"/>
<text x="699.5" y="546.6" style="font-family:'Liberation Sans',sans-serif;font-size:10.8px" fill="#ff0000" text-anchor="middle" >N</text>
<text x="636.1" y="610.4" style="font-family:'Liberation Sans',sans-serif;font-size:10.8px" fill="#ff0000" text-anchor="middle" >E</text>
<g clip-path="url(#pc4)">
<path d="M881 588h4v5h-4zM871 593h23v5h-23zM867 598h32v4h-32zM862 602h42v5h-42zM862 607h42v5h-42zM862 612h42v4h-42zM862 616h37v5h-37zM867 621h32v4h-32zM871 625h23v5h-23zM941 635h9v4h-9zM936 639h19v5h-19zM936 644h19v5h-19zM941 649h9v4h-9z" fill="rgb(0,0,0)" shape-rendering="crispEdges"/>
<path d="M899 616h5v5h-5zM950 649h5v4h-5z" fill="rgb(16,16,16)" shape-rendering="crispEdges"/>
<path d="M876 588h5v5h-5zM867 593h4v5h-4z" fill="rgb(33,33,33)" shape-rendering="crispEdges"/>
<path d="M885 588h5v5h-5zM936 649h5v4h-5z" fill="rgb(41,41,41)" shape-rendering="crispEdges"/>
<path d="M894 593h5v5h-5z" fill="rgb(49,49,49)" shape-rendering="crispEdges"/>
<path d="M862 598h5v4h-5z" fill="rgb(66,66,66)" shape-rendering="crispEdges"/>
<path d="M950 635h5v4h-5z" fill="rgb(74,74,74)" shape-rendering="crispEdges"/>
<path d="M899 598h5v4h-5zM881 630h4v5h-4zM936 635h5v4h-5z" fill="rgb(82,82,82)" shape-rendering="crispEdges"/>
<path d="M945 653h5v5h-5z" fill="rgb(90,90,90)" shape-rendering="crispEdges"/>
<path d="M890 588h4v5h-4zM955 639h4v5h-4zM955 644h4v5h-4zM941 653h4v5h-4z" fill="rgb(99,99,99)" shape-rendering="crispEdges"/>
<path d="M867 625h4v5h-4z" fill="rgb(107,107,107)" shape-rendering="crispEdges"/>
<path d="M862 621h5v4h-5zM876 630h5v5h-5zM885 630h5v5h-5zM945 630h5v5h-5z" fill="rgb(115,115,115)" shape-rendering="crispEdges"/>
<path d="M871 588h5v5h-5zM899 621h5v4h-5zM894 625h5v5h-5zM931 639h5v5h-5zM931 644h5v5h-5zM955 649h4v4h-4z" fill="rgb(123,123,123)" shape-rendering="crispEdges"/>
<path d="M936 630h5v5h-5zM950 653h5v5h-5z" fill="rgb(132,132,132)" shape-rendering="crispEdges"/>
<path d="M857 607h5v5h-5zM857 612h5v4h-5zM941 630h4v5h-4zM950 630h9v5h-9zM955 635h4v4h-4z" fill="rgb(140,140,140)" shape-rendering="crispEdges"/>
<path d="M899 593h5v5h-5zM945 625h5v5h-5zM871 630h5v5h-5zM931 635h5v4h-5zM931 649h5v4h-5zM936 653h5v5h-5z" fill="rgb(148,148,148)" shape-rendering="crispEdges"/>
<path d="M862 593h5v5h-5zM904 612h4v4h-4zM941 621h4v4h-4zM955 621h4v4h-4zM936 625h5v5h-5zM955 625h4v5h-4zM927 630h4v5h-4zM927 644h4v5h-4z" fill="rgb(156,156,156)" shape-rendering="crispEdges"/>
<path d="M881 584h4v4h-4zM867 588h4v5h-4zM857 598h5v4h-5zM857 602h5v5h-5zM904 602h4v5h-4zM904 607h4v5h-4zM927 616h4v5h-4zM941 616h14v5h-14zM862 625h5v5h-5zM941 625h4v5h-4zM950 625h5v5h-5zM890 630h4v5h-4zM931 630h5v5h-5zM955 653h4v5h-4zM950 658h5v4h-5z" fill="rgb(165,165,165)" shape-rendering="crispEdges"/>
<path d="M881 565h4v5h-4zM871 584h10v4h-10zM885 584h5v4h-5zM904 598h4v4h-4zM848 607h5v5h-5zM857 616h5v5h-5zM950 621h5v4h-5zM927 639h4v5h-4zM881 644h4v5h-4zM931 653h5v5h-5zM941 658h4v4h-4zM945 662h5v5h-5z" fill="rgb(173,173,173)" shape-rendering="crispEdges"/>
<path d="M857 533h5v4h-5zM853 565h4v5h-4zM825 584h5v4h-5zM894 588h10v5h-10zM825 598h5v4h-5zM908 598h5v4h-5zM950 598h5v4h-5zM908 602h5v5h-5zM927 612h4v4h-4zM945 612h5v4h-5zM825 616h5v5h-5zM931 616h5v5h-5zM857 621h5v4h-5zM945 621h5v4h-5zM922 625h5v5h-5zM931 625h5v5h-5zM894 630h5v5h-5zM885 635h5v4h-5zM913 635h5v4h-5zM922 653h5v5h-5zM945 658h5v4h-5zM927 667h4v5h-4zM885 672h5v4h-5zM918 672h4v4h-4z" fill="rgb(181,181,181)" shape-rendering="crispEdges"/>
<path d="M834 533h5v4h-5zM913 533h5v4h-5zM941 537h4v5h-4zM918 542h4v5h-4zM839 547h5v4h-5zM867 547h4v4h-4zM811 551h5v5h-5zM844 551h4v5h-4zM871 551h5v5h-5zM936 556h5v5h-5zM857 561h5v4h-5zM913 565h5v5h-5zM820 570h5v4h-5zM844 570h4v4h-4zM862 584h5v4h-5zM931 584h5v4h-5zM862 588h5v5h-5zM955 602h4v5h-4zM820 607h5v5h-5zM913 607h5v5h-5zM936 607h9v5h-9zM825 612h9v4h-9zM913 612h5v4h-5zM941 612h4v4h-4zM839 616h5v5h-5zM936 616h5v5h-5zM955 616h4v5h-4zM908 621h5v4h-5zM931 621h5v4h-5zM899 625h5v5h-5zM927 625h4v5h-4zM816 630h4v5h-4zM825 630h5v5h-5zM853 630h4v5h-4zM862 630h5v5h-5zM908 630h5v5h-5zM922 630h5v5h-5zM862 635h5v4h-5zM881 635h4v4h-4zM908 635h5v4h-5zM918 635h4v4h-4zM927 635h4v4h-4zM811 639h5v5h-5zM839 639h9v5h-9zM922 639h5v5h-5zM899 644h5v5h-5zM922 649h9v4h-9zM811 653h5v5h-5zM825 653h5v5h-5zM857 653h5v5h-5zM927 653h4v5h-4zM931 658h5v4h-5zM955 658h4v4h-4zM922 662h5v5h-5zM950 662h5v5h-5zM890 667h4v5h-4zM955 667h4v5h-4zM904 672h9v4h-9zM811 676h5v5h-5zM945 676h5v5h-5zM955 676h4v5h-4z" fill="rgb(189,189,189)" shape-rendering="crispEdges"/>
<path d="M811 533h5v4h-5zM830 533h4v4h-4zM853 533h4v4h-4zM867 533h4v4h-4zM904 533h4v4h-4zM881 537h4v5h-4zM839 542h5v5h-5zM867 542h4v5h-4zM885 542h5v5h-5zM931 542h5v5h-5zM820 547h10v4h-10zM862 547h5v4h-5zM876 547h9v4h-9zM936 547h5v4h-5zM857 551h5v5h-5zM825 556h9v5h-9zM931 556h5v5h-5zM816 561h4v4h-4zM834 565h5v5h-5zM885 565h5v5h-5zM881 570h13v4h-13zM839 574h5v5h-5zM941 574h4v5h-4zM876 579h5v5h-5zM899 579h5v5h-5zM922 579h5v5h-5zM955 579h4v5h-4zM811 584h5v4h-5zM830 584h9v4h-9zM811 588h5v5h-5zM820 588h5v5h-5zM848 593h5v5h-5zM857 593h5v5h-5zM908 593h5v5h-5zM922 593h5v5h-5zM918 598h4v4h-4zM936 598h5v4h-5zM816 602h4v5h-4zM834 602h10v5h-10zM922 607h5v5h-5zM945 607h14v5h-14zM811 612h5v4h-5zM844 612h13v4h-13zM908 612h5v4h-5zM936 612h5v4h-5zM950 612h9v4h-9zM820 616h5v5h-5zM844 616h4v5h-4zM904 616h4v5h-4zM830 621h9v4h-9zM904 621h4v4h-4zM936 621h5v4h-5zM820 625h5v5h-5zM867 630h4v5h-4zM918 630h4v5h-4zM867 635h4v4h-4zM876 635h5v4h-5zM890 635h4v4h-4zM862 639h9v5h-9zM904 639h4v5h-4zM918 639h4v5h-4zM839 644h5v5h-5zM871 644h5v5h-5zM922 644h5v5h-5zM820 649h5v4h-5zM830 649h4v4h-4zM853 649h9v4h-9zM871 649h5v4h-5zM899 649h5v4h-5zM918 649h4v4h-4zM876 653h5v5h-5zM899 653h9v5h-9zM913 653h5v5h-5zM816 658h9v4h-9zM885 658h5v4h-5zM830 662h9v5h-9zM857 662h5v5h-5zM936 662h5v5h-5zM825 667h5v5h-5zM862 667h5v5h-5zM894 667h5v5h-5zM922 667h5v5h-5zM839 672h5v4h-5zM871 672h5v4h-5zM927 672h4v4h-4zM945 672h5v4h-5zM825 676h5v5h-5zM848 676h5v5h-5zM894 676h5v5h-5z" fill="rgb(197,197,197)" shape-rendering="crispEdges"/>
<path d="M816 533h4v4h-4zM825 533h5v4h-5zM848 533h5v4h-5zM881 533h4v4h-4zM908 533h5v4h-5zM927 533h4v4h-4zM936 533h5v4h-5zM816 537h4v5h-4zM922 537h14v5h-14zM811 542h5v5h-5zM825 542h5v5h-5zM848 542h5v5h-5zM862 542h5v5h-5zM890 542h9v5h-9zM904 542h4v5h-4zM811 547h9v4h-9zM853 547h4v4h-4zM904 547h4v4h-4zM825 551h5v5h-5zM904 551h9v5h-9zM922 551h5v5h-5zM931 551h5v5h-5zM811 556h5v5h-5zM857 556h5v5h-5zM867 556h4v5h-4zM885 556h5v5h-5zM899 556h5v5h-5zM941 556h4v5h-4zM825 561h5v4h-5zM839 561h9v4h-9zM881 561h4v4h-4zM899 561h9v4h-9zM941 561h4v4h-4zM816 565h4v5h-4zM862 565h9v5h-9zM894 565h5v5h-5zM904 565h4v5h-4zM931 565h5v5h-5zM941 565h4v5h-4zM955 565h4v5h-4zM816 570h4v4h-4zM867 570h4v4h-4zM894 570h5v4h-5zM904 570h4v4h-4zM941 570h4v4h-4zM955 570h4v4h-4zM811 574h5v5h-5zM844 574h4v5h-4zM853 574h4v5h-4zM867 574h4v5h-4zM890 574h4v5h-4zM904 574h4v5h-4zM922 574h9v5h-9zM950 574h5v5h-5zM816 579h9v5h-9zM830 579h9v5h-9zM867 579h9v5h-9zM890 579h4v5h-4zM927 579h4v5h-4zM936 579h9v5h-9zM950 579h5v5h-5zM816 584h4v4h-4zM844 584h4v4h-4zM853 584h4v4h-4zM899 584h5v4h-5zM936 584h5v4h-5zM816 588h4v5h-4zM830 588h4v5h-4zM857 588h5v5h-5zM904 588h14v5h-14zM936 588h5v5h-5zM816 593h4v5h-4zM844 593h4v5h-4zM918 593h4v5h-4zM941 593h4v5h-4zM853 602h4v5h-4zM913 602h5v5h-5zM927 602h4v5h-4zM936 602h19v5h-19zM834 607h10v5h-10zM931 607h5v5h-5zM820 612h5v4h-5zM931 612h5v4h-5zM853 616h4v5h-4zM918 616h9v5h-9zM839 621h5v4h-5zM922 621h9v4h-9zM825 625h5v5h-5zM853 625h9v5h-9zM904 625h4v5h-4zM918 625h4v5h-4zM811 630h5v5h-5zM820 630h5v5h-5zM857 630h5v5h-5zM899 630h5v5h-5zM913 630h5v5h-5zM816 635h4v4h-4zM825 639h5v5h-5zM848 639h9v5h-9zM871 639h5v5h-5zM881 639h4v5h-4zM894 639h5v5h-5zM908 639h5v5h-5zM834 644h5v5h-5zM867 644h4v5h-4zM876 644h5v5h-5zM908 644h10v5h-10zM811 649h5v4h-5zM848 649h5v4h-5zM862 649h5v4h-5zM913 649h5v4h-5zM820 653h5v5h-5zM839 653h5v5h-5zM848 653h5v5h-5zM862 653h5v5h-5zM908 653h5v5h-5zM825 658h14v4h-14zM853 658h4v4h-4zM871 658h5v4h-5zM894 658h5v4h-5zM936 658h5v4h-5zM811 662h5v5h-5zM871 662h5v5h-5zM908 662h5v5h-5zM931 662h5v5h-5zM941 662h4v5h-4zM955 662h4v5h-4zM816 667h4v5h-4zM830 667h4v5h-4zM871 667h5v5h-5zM881 667h4v5h-4zM931 667h5v5h-5zM941 667h14v5h-14zM820 672h5v4h-5zM867 672h4v4h-4zM876 672h5v4h-5zM913 672h5v4h-5zM922 672h5v4h-5zM936 672h9v4h-9zM950 672h9v4h-9zM830 676h4v5h-4zM839 676h5v5h-5zM918 676h4v5h-4zM936 676h9v5h-9z" fill="rgb(206,206,206)" shape-rendering="crispEdges"/>
<path d="M844 533h4v4h-4zM862 533h5v4h-5zM871 533h5v4h-5zM885 533h5v4h-5zM894 533h10v4h-10zM931 533h5v4h-5zM950 533h5v4h-5zM830 537h4v5h-4zM844 537h9v5h-9zM876 537h5v5h-5zM945 537h10v5h-10zM816 542h9v5h-9zM830 542h9v5h-9zM844 542h4v5h-4zM857 542h5v5h-5zM871 542h5v5h-5zM881 542h4v5h-4zM908 542h5v5h-5zM922 542h9v5h-9zM941 542h4v5h-4zM834 547h5v4h-5zM857 547h5v4h-5zM871 547h5v4h-5zM885 547h5v4h-5zM894 547h5v4h-5zM908 547h5v4h-5zM945 547h5v4h-5zM955 547h4v4h-4zM834 551h5v5h-5zM848 551h5v5h-5zM867 551h4v5h-4zM881 551h13v5h-13zM899 551h5v5h-5zM839 556h5v5h-5zM881 556h4v5h-4zM894 556h5v5h-5zM918 556h4v5h-4zM834 561h5v4h-5zM867 561h4v4h-4zM885 561h5v4h-5zM936 561h5v4h-5zM811 565h5v5h-5zM839 565h9v5h-9zM890 565h4v5h-4zM908 565h5v5h-5zM922 565h5v5h-5zM830 570h4v4h-4zM848 570h5v4h-5zM862 570h5v4h-5zM871 570h5v4h-5zM927 570h14v4h-14zM816 574h9v5h-9zM834 574h5v5h-5zM848 574h5v5h-5zM862 574h5v5h-5zM885 574h5v5h-5zM913 574h5v5h-5zM931 574h10v5h-10zM945 574h5v5h-5zM857 579h10v5h-10zM894 579h5v5h-5zM908 579h14v5h-14zM945 579h5v5h-5zM820 584h5v4h-5zM839 584h5v4h-5zM890 584h9v4h-9zM918 584h4v4h-4zM941 584h4v4h-4zM955 584h4v4h-4zM825 588h5v5h-5zM839 588h9v5h-9zM922 588h5v5h-5zM950 588h9v5h-9zM811 598h5v4h-5zM913 598h5v4h-5zM941 598h9v4h-9zM922 602h5v5h-5zM811 607h9v5h-9zM830 607h4v5h-4zM853 607h4v5h-4zM908 607h5v5h-5zM918 607h4v5h-4zM927 607h4v5h-4zM839 612h5v4h-5zM811 616h5v5h-5zM908 616h5v5h-5zM816 621h4v4h-4zM825 621h5v4h-5zM848 621h5v4h-5zM811 625h5v5h-5zM830 625h23v5h-23zM811 635h5v4h-5zM820 635h5v4h-5zM830 635h4v4h-4zM848 635h14v4h-14zM904 635h4v4h-4zM922 635h5v4h-5zM899 639h5v5h-5zM913 639h5v5h-5zM811 644h5v5h-5zM820 644h10v5h-10zM853 644h9v5h-9zM918 644h4v5h-4zM825 649h5v4h-5zM834 649h5v4h-5zM876 649h5v4h-5zM830 653h4v5h-4zM853 653h4v5h-4zM867 653h9v5h-9zM918 653h4v5h-4zM811 658h5v4h-5zM839 658h5v4h-5zM848 658h5v4h-5zM890 658h4v4h-4zM908 658h10v4h-10zM820 662h5v5h-5zM839 662h5v5h-5zM853 662h4v5h-4zM862 662h5v5h-5zM885 662h5v5h-5zM918 662h4v5h-4zM811 667h5v5h-5zM857 667h5v5h-5zM876 667h5v5h-5zM885 667h5v5h-5zM904 667h14v5h-14zM816 672h4v4h-4zM830 672h9v4h-9zM844 672h4v4h-4zM890 672h4v4h-4zM931 672h5v4h-5zM853 676h4v5h-4zM876 676h9v5h-9zM890 676h4v5h-4zM927 676h9v5h-9zM950 676h5v5h-5z" fill="rgb(214,214,214)" shape-rendering="crispEdges"/>
<path d="M820 533h5v4h-5zM839 533h5v4h-5zM955 533h4v4h-4zM820 537h10v5h-10zM857 537h10v5h-10zM871 537h5v5h-5zM885 537h19v5h-19zM908 537h14v5h-14zM936 537h5v5h-5zM955 537h4v5h-4zM876 542h5v5h-5zM899 542h5v5h-5zM945 542h10v5h-10zM890 547h4v4h-4zM931 547h5v4h-5zM820 551h5v5h-5zM830 551h4v5h-4zM839 551h5v5h-5zM853 551h4v5h-4zM913 551h9v5h-9zM936 551h23v5h-23zM816 556h9v5h-9zM834 556h5v5h-5zM844 556h4v5h-4zM853 556h4v5h-4zM862 556h5v5h-5zM890 556h4v5h-4zM904 556h9v5h-9zM950 556h9v5h-9zM811 561h5v4h-5zM820 561h5v4h-5zM830 561h4v4h-4zM848 561h5v4h-5zM908 561h5v4h-5zM922 561h14v4h-14zM950 561h5v4h-5zM918 565h4v5h-4zM811 570h5v4h-5zM825 570h5v4h-5zM853 570h4v4h-4zM876 570h5v4h-5zM908 570h5v4h-5zM922 570h5v4h-5zM945 570h5v4h-5zM830 574h4v5h-4zM857 574h5v5h-5zM871 574h5v5h-5zM894 574h5v5h-5zM908 574h5v5h-5zM825 579h5v5h-5zM839 579h5v5h-5zM848 579h5v5h-5zM881 579h9v5h-9zM904 579h4v5h-4zM848 584h5v4h-5zM904 584h4v4h-4zM913 584h5v4h-5zM922 584h9v4h-9zM950 584h5v4h-5zM848 588h9v5h-9zM918 588h4v5h-4zM931 588h5v5h-5zM941 588h9v5h-9zM825 593h9v5h-9zM853 593h4v5h-4zM913 593h5v5h-5zM931 593h10v5h-10zM945 593h10v5h-10zM816 598h9v4h-9zM830 598h4v4h-4zM839 598h18v4h-18zM922 598h9v4h-9zM955 598h4v4h-4zM820 602h14v5h-14zM825 607h5v5h-5zM816 612h4v4h-4zM922 612h5v4h-5zM913 616h5v5h-5zM820 621h5v4h-5zM844 621h4v4h-4zM853 621h4v4h-4zM913 625h5v5h-5zM844 630h9v5h-9zM904 630h4v5h-4zM834 635h14v4h-14zM871 635h5v4h-5zM894 635h5v4h-5zM830 639h9v5h-9zM857 639h5v5h-5zM885 639h9v5h-9zM830 644h4v5h-4zM844 644h9v5h-9zM890 644h9v5h-9zM904 644h4v5h-4zM867 649h4v4h-4zM885 649h14v4h-14zM816 653h4v5h-4zM881 653h4v5h-4zM894 653h5v5h-5zM857 658h14v4h-14zM876 658h5v4h-5zM918 658h13v4h-13zM825 662h5v5h-5zM844 662h9v5h-9zM876 662h9v5h-9zM890 662h4v5h-4zM899 662h5v5h-5zM913 662h5v5h-5zM927 662h4v5h-4zM834 667h5v5h-5zM848 667h5v5h-5zM867 667h4v5h-4zM899 667h5v5h-5zM918 667h4v5h-4zM811 672h5v4h-5zM853 672h4v4h-4zM862 672h5v4h-5zM881 672h4v4h-4zM899 672h5v4h-5zM816 676h9v5h-9zM834 676h5v5h-5zM844 676h4v5h-4zM908 676h10v5h-10zM922 676h5v5h-5z" fill="rgb(222,222,222)" shape-rendering="crispEdges"/>
<path d="M890 533h4v4h-4zM918 533h9v4h-9zM945 533h5v4h-5zM834 537h10v5h-10zM853 537h4v5h-4zM904 537h4v5h-4zM936 542h5v5h-5zM844 547h4v4h-4zM899 547h5v4h-5zM913 547h5v4h-5zM927 547h4v4h-4zM816 551h4v5h-4zM927 551h4v5h-4zM848 556h5v5h-5zM876 556h5v5h-5zM913 556h5v5h-5zM862 561h5v4h-5zM876 561h5v4h-5zM918 561h4v4h-4zM945 561h5v4h-5zM955 561h4v4h-4zM820 565h10v5h-10zM857 565h5v5h-5zM871 565h10v5h-10zM899 565h5v5h-5zM927 565h4v5h-4zM857 570h5v4h-5zM899 570h5v4h-5zM918 570h4v4h-4zM950 570h5v4h-5zM825 574h5v5h-5zM876 574h5v5h-5zM918 574h4v5h-4zM811 579h5v5h-5zM844 579h4v5h-4zM853 579h4v5h-4zM857 584h5v4h-5zM867 584h4v4h-4zM834 588h5v5h-5zM927 588h4v5h-4zM811 593h5v5h-5zM820 593h5v5h-5zM834 593h5v5h-5zM904 593h4v5h-4zM927 593h4v5h-4zM955 593h4v5h-4zM848 602h5v5h-5zM844 607h4v5h-4zM816 616h4v5h-4zM830 616h4v5h-4zM811 621h5v4h-5zM913 621h9v4h-9zM816 625h4v5h-4zM908 625h5v5h-5zM825 635h5v4h-5zM816 639h4v5h-4zM876 639h5v5h-5zM862 644h5v5h-5zM885 644h5v5h-5zM816 649h4v4h-4zM839 649h5v4h-5zM904 649h9v4h-9zM834 653h5v5h-5zM844 653h4v5h-4zM890 653h4v5h-4zM881 658h4v4h-4zM899 658h5v4h-5zM816 662h4v5h-4zM894 662h5v5h-5zM820 667h5v5h-5zM844 667h4v5h-4zM853 667h4v5h-4zM936 667h5v5h-5zM894 672h5v4h-5zM862 676h5v5h-5zM885 676h5v5h-5zM899 676h9v5h-9z" fill="rgb(230,230,230)" shape-rendering="crispEdges"/>
<path d="M876 533h5v4h-5zM811 537h5v5h-5zM913 542h5v5h-5zM955 542h4v5h-4zM830 547h4v4h-4zM848 547h5v4h-5zM941 547h4v4h-4zM862 551h5v5h-5zM876 551h5v5h-5zM871 556h5v5h-5zM927 556h4v5h-4zM945 556h5v5h-5zM871 561h5v4h-5zM890 561h9v4h-9zM913 561h5v4h-5zM830 565h4v5h-4zM936 565h5v5h-5zM945 565h10v5h-10zM834 570h10v4h-10zM913 570h5v4h-5zM899 574h5v5h-5zM955 574h4v5h-4zM931 579h5v5h-5zM908 584h5v4h-5zM945 584h5v4h-5zM834 598h5v4h-5zM931 598h5v4h-5zM811 602h5v5h-5zM931 602h5v5h-5zM834 612h5v4h-5zM918 612h4v4h-4zM834 616h5v5h-5zM834 630h10v5h-10zM899 635h5v4h-5zM820 639h5v5h-5zM844 649h4v4h-4zM844 658h4v4h-4zM904 658h4v4h-4zM867 662h4v5h-4zM839 667h5v5h-5zM825 672h5v4h-5zM867 676h9v5h-9z" fill="rgb(239,239,239)" shape-rendering="crispEdges"/>
<path d="M867 537h4v5h-4zM853 542h4v5h-4zM918 547h9v4h-9zM950 547h5v4h-5zM894 551h5v5h-5zM922 556h5v5h-5zM853 561h4v4h-4zM848 565h5v5h-5zM881 574h4v5h-4zM844 602h4v5h-4zM848 616h5v5h-5zM830 630h4v5h-4zM816 644h4v5h-4zM881 649h4v4h-4zM848 672h5v4h-5zM857 672h5v4h-5zM857 676h5v5h-5z" fill="rgb(247,247,247)" shape-rendering="crispEdges"/>
<path d="M941 533h4v4h-4zM839 593h5v5h-5zM918 602h4v5h-4zM885 653h5v5h-5zM904 662h4v5h-4z" fill="rgb(255,255,255)" shape-rendering="crispEdges"/>
<circle cx="952" cy="640" r="37" fill="none" stroke="#fff" stroke-width="0.8" stroke-dasharray="2 1.5" opacity="0.8"/>
<ellipse cx="882.9" cy="611.2" rx="32.9" ry="28.3" fill="none" stroke="#ffd700" stroke-width="1.3"/>
<line x1="847.7" y1="606.8" x2="876.7" y2="606.8" stroke="#ff0000" stroke-width="1.3"/>
<line x1="884.7" y1="569.8" x2="884.7" y2="598.8" stroke="#ff0000" stroke-width="1.3"/>
<line x1="892.7" y1="606.8" x2="921.7" y2="606.8" stroke="#ff0000" stroke-width="1.3"/>
<line x1="884.7" y1="614.8" x2="884.7" y2="643.8" stroke="#ff0000" stroke-width="1.3"/>
</g>
<rect x="811.0999999999999" y="532.8" width="148.0" height="148.0" fill="none" stroke="#222" stroke-width="1.1"/>
<line x1="820.1" y1="680.8" x2="820.1" y2="684.3" stroke="#222" stroke-width="1"/>
<text x="820.7" y="696.4" style="font-family:'Liberation Sans',sans-serif;font-size:10.8px" fill="#000" text-anchor="middle" textLength="15.2" lengthAdjust="spacingAndGlyphs" >−4</text>
<line x1="807.6" y1="671.4" x2="811.1" y2="671.4" stroke="#222" stroke-width="1"/>
<text x="804.5" y="675.3" style="font-family:'Liberation Sans',sans-serif;font-size:10.8px" fill="#000" text-anchor="end" textLength="15.2" lengthAdjust="spacingAndGlyphs" >−4</text>
<line x1="852.4" y1="680.8" x2="852.4" y2="684.3" stroke="#222" stroke-width="1"/>
<text x="853.0" y="696.4" style="font-family:'Liberation Sans',sans-serif;font-size:10.8px" fill="#000" text-anchor="middle" textLength="15.2" lengthAdjust="spacingAndGlyphs" >−2</text>
<line x1="807.6" y1="639.1" x2="811.1" y2="639.1" stroke="#222" stroke-width="1"/>
<text x="804.5" y="643.0" style="font-family:'Liberation Sans',sans-serif;font-size:10.8px" fill="#000" text-anchor="end" textLength="15.2" lengthAdjust="spacingAndGlyphs" >−2</text>
<line x1="884.7" y1="680.8" x2="884.7" y2="684.3" stroke="#222" stroke-width="1"/>
<text x="884.7" y="696.4" style="font-family:'Liberation Sans',sans-serif;font-size:10.8px" fill="#000" text-anchor="middle" >0</text>
<line x1="807.6" y1="606.8" x2="811.1" y2="606.8" stroke="#222" stroke-width="1"/>
<text x="804.5" y="610.7" style="font-family:'Liberation Sans',sans-serif;font-size:10.8px" fill="#000" text-anchor="end" >0</text>
<line x1="917.1" y1="680.8" x2="917.1" y2="684.3" stroke="#222" stroke-width="1"/>
<text x="917.1" y="696.4" style="font-family:'Liberation Sans',sans-serif;font-size:10.8px" fill="#000" text-anchor="middle" >2</text>
<line x1="807.6" y1="574.5" x2="811.1" y2="574.5" stroke="#222" stroke-width="1"/>
<text x="804.5" y="578.4" style="font-family:'Liberation Sans',sans-serif;font-size:10.8px" fill="#000" text-anchor="end" >2</text>
<line x1="949.4" y1="680.8" x2="949.4" y2="684.3" stroke="#222" stroke-width="1"/>
<text x="949.4" y="696.4" style="font-family:'Liberation Sans',sans-serif;font-size:10.8px" fill="#000" text-anchor="middle" >4</text>
<line x1="807.6" y1="542.2" x2="811.1" y2="542.2" stroke="#222" stroke-width="1"/>
<text x="804.5" y="546.1" style="font-family:'Liberation Sans',sans-serif;font-size:10.8px" fill="#000" text-anchor="end" >4</text>
<text x="884.7" y="525.6" style="font-family:'Liberation Sans',sans-serif;font-size:11.9px" fill="#000" text-anchor="middle" textLength="99.7" lengthAdjust="spacingAndGlyphs" >DECaLS(24.0) z</text>
<text x="884.7" y="707.4" style="font-family:'Liberation Sans',sans-serif;font-size:10.6px" fill="#000" text-anchor="middle" textLength="118.9" lengthAdjust="spacingAndGlyphs" >m:17.5  re:1.9"  s:0.3"</text>
<rect x="836.3" y="558.3" width="97.0" height="97.0" fill="none" stroke="#ff0000" stroke-width="1.2"/>
<text x="884.7" y="546.6" style="font-family:'Liberation Sans',sans-serif;font-size:10.8px" fill="#ff0000" text-anchor="middle" >N</text>
<text x="821.3" y="610.4" style="font-family:'Liberation Sans',sans-serif;font-size:10.8px" fill="#ff0000" text-anchor="middle" >E</text>
<text x="69.5" y="887.8" style="font-family:'Liberation Mono',monospace;font-size:13px" fill="#000" >No matching targets in catalog.</text>
<text x="69.5" y="902.4" style="font-family:'Liberation Mono',monospace;font-size:13px" fill="#000" >Row intentionally blank.</text></svg></body></html>
